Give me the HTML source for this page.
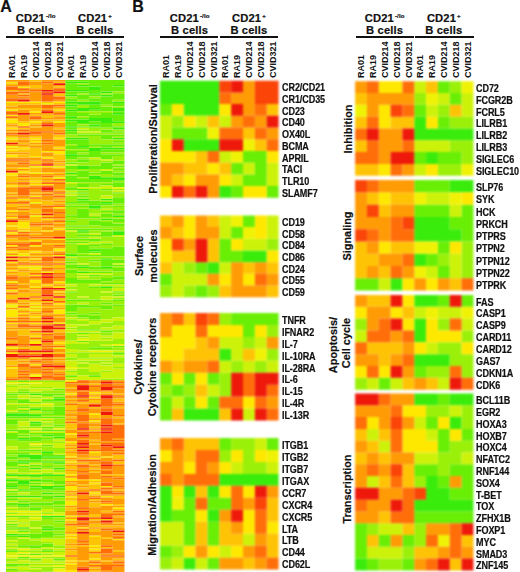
<!DOCTYPE html>
<html><head><meta charset="utf-8"><style>
html,body{margin:0;padding:0;background:#fff;}
body{width:520px;height:572px;position:relative;overflow:hidden;font-family:"Liberation Sans", sans-serif;font-weight:bold;color:#111;-webkit-text-stroke:0.2px #111;}
.t{position:absolute;white-space:nowrap;line-height:1;}
.h{position:absolute;width:80px;text-align:center;font-size:11.2px;letter-spacing:0.15px;line-height:12px;white-space:nowrap;}
.h sup{font-size:6px;vertical-align:0;position:relative;top:-4px;margin-left:1px;}
.ln{position:absolute;height:2.2px;background:#111;}
.r{position:absolute;white-space:nowrap;transform-origin:0 0;transform:rotate(-90deg);}
.r.c{-webkit-text-stroke:0px;}
.g{position:absolute;font-size:10px;letter-spacing:-0.1px;line-height:11px;white-space:nowrap;transform-origin:0 50%;transform:scaleX(0.905);}
svg{position:absolute;left:0;top:0;}
.sa{filter:blur(0.4px);}
.sb{filter:blur(0.8px);}
</style></head><body>
<svg class="sa" width="520" height="572" viewBox="0 0 520 572"><path fill="#3aec0c" d="M65.25 81.65h11.85v1.65h-11.85zM77.10 81.65h11.85v1.65h-11.85zM77.10 84.95h11.85v1.65h-11.85zM112.65 84.95h11.85v1.65h-11.85zM88.95 86.60h11.85v1.65h-11.85zM88.95 88.25h11.85v1.65h-11.85zM65.25 89.90h11.85v1.65h-11.85zM77.10 89.90h11.85v1.65h-11.85zM100.80 91.55h11.85v1.65h-11.85zM88.95 93.20h11.85v1.65h-11.85zM65.25 94.85h11.85v1.65h-11.85zM100.80 94.85h11.85v1.65h-11.85zM65.25 101.45h11.85v1.65h-11.85zM77.10 101.45h11.85v1.65h-11.85zM88.95 101.45h11.85v1.65h-11.85zM112.65 101.45h11.85v1.65h-11.85zM77.10 103.10h11.85v1.65h-11.85zM88.95 103.10h11.85v1.65h-11.85zM65.25 104.75h11.85v1.65h-11.85zM77.10 108.05h11.85v1.65h-11.85zM88.95 108.05h11.85v1.65h-11.85zM112.65 108.05h11.85v1.65h-11.85zM65.25 109.70h11.85v1.65h-11.85zM77.10 109.70h11.85v1.65h-11.85zM112.65 109.70h11.85v1.65h-11.85zM112.65 113.00h11.85v1.65h-11.85zM65.25 116.30h11.85v1.65h-11.85zM88.95 117.95h11.85v1.65h-11.85zM100.80 117.95h11.85v1.65h-11.85zM65.25 119.60h11.85v1.65h-11.85zM77.10 119.60h11.85v1.65h-11.85zM88.95 119.60h11.85v1.65h-11.85zM100.80 119.60h11.85v1.65h-11.85zM77.10 121.25h11.85v1.65h-11.85zM100.80 121.25h11.85v1.65h-11.85zM112.65 121.25h11.85v1.65h-11.85zM88.95 124.55h11.85v1.65h-11.85zM65.25 126.20h11.85v1.65h-11.85zM112.65 127.85h11.85v1.65h-11.85zM65.25 129.50h11.85v1.65h-11.85zM65.25 137.75h11.85v1.65h-11.85zM77.10 137.75h11.85v1.65h-11.85zM112.65 137.75h11.85v1.65h-11.85zM77.10 146.00h11.85v1.65h-11.85zM88.95 147.65h11.85v1.65h-11.85zM100.80 147.65h11.85v1.65h-11.85zM112.65 147.65h11.85v1.65h-11.85zM88.95 149.30h11.85v1.65h-11.85zM65.25 154.25h11.85v1.65h-11.85zM77.10 165.80h11.85v1.65h-11.85zM77.10 167.45h11.85v1.65h-11.85zM65.25 172.40h11.85v1.65h-11.85zM88.95 175.70h11.85v1.65h-11.85zM88.95 177.35h11.85v1.65h-11.85zM100.80 177.35h11.85v1.65h-11.85zM112.65 177.35h11.85v1.65h-11.85zM112.65 179.00h11.85v1.65h-11.85zM77.10 188.90h11.85v1.65h-11.85zM77.10 198.80h11.85v1.65h-11.85zM100.80 198.80h11.85v1.65h-11.85zM100.80 202.10h11.85v1.65h-11.85zM88.95 205.40h11.85v1.65h-11.85zM88.95 207.05h11.85v1.65h-11.85zM112.65 215.30h11.85v1.65h-11.85zM100.80 218.60h11.85v1.65h-11.85zM77.10 230.15h11.85v1.65h-11.85zM112.65 231.80h11.85v1.65h-11.85zM112.65 233.45h11.85v1.65h-11.85zM88.95 249.95h11.85v1.65h-11.85zM65.25 254.90h11.85v1.65h-11.85zM100.80 258.20h11.85v1.65h-11.85zM77.10 266.45h11.85v1.65h-11.85zM100.80 266.45h11.85v1.65h-11.85zM77.10 271.40h11.85v1.65h-11.85zM100.80 286.25h11.85v1.65h-11.85zM29.70 393.50h11.85v1.65h-11.85zM53.40 398.45h11.85v1.65h-11.85zM29.70 408.35h11.85v1.65h-11.85zM6.00 413.30h11.85v1.65h-11.85zM17.85 413.30h11.85v1.65h-11.85zM6.00 414.95h11.85v1.65h-11.85zM17.85 414.95h11.85v1.65h-11.85zM29.70 414.95h11.85v1.65h-11.85zM29.70 421.55h11.85v1.65h-11.85zM41.55 434.75h11.85v1.65h-11.85zM53.40 436.40h11.85v1.65h-11.85zM17.85 438.05h11.85v1.65h-11.85zM41.55 451.25h11.85v1.65h-11.85zM17.85 454.55h11.85v1.65h-11.85zM29.70 454.55h11.85v1.65h-11.85zM17.85 456.20h11.85v1.65h-11.85zM29.70 456.20h11.85v1.65h-11.85zM41.55 456.20h11.85v1.65h-11.85zM53.40 456.20h11.85v1.65h-11.85zM29.70 457.85h11.85v1.65h-11.85zM17.85 461.15h11.85v1.65h-11.85zM41.55 461.15h11.85v1.65h-11.85zM53.40 461.15h11.85v1.65h-11.85zM29.70 467.75h11.85v1.65h-11.85zM53.40 467.75h11.85v1.65h-11.85zM6.00 474.35h11.85v1.65h-11.85zM17.85 474.35h11.85v1.65h-11.85zM29.70 474.35h11.85v1.65h-11.85zM41.55 474.35h11.85v1.65h-11.85zM53.40 474.35h11.85v1.65h-11.85zM6.00 479.30h11.85v1.65h-11.85zM29.70 479.30h11.85v1.65h-11.85zM17.85 480.95h11.85v1.65h-11.85zM17.85 482.60h11.85v1.65h-11.85zM6.00 485.90h11.85v1.65h-11.85zM29.70 485.90h11.85v1.65h-11.85zM41.55 485.90h11.85v1.65h-11.85zM53.40 485.90h11.85v1.65h-11.85zM41.55 487.55h11.85v1.65h-11.85zM17.85 489.20h11.85v1.65h-11.85zM41.55 492.50h11.85v1.65h-11.85zM6.00 495.80h11.85v1.65h-11.85zM17.85 495.80h11.85v1.65h-11.85zM29.70 495.80h11.85v1.65h-11.85zM53.40 495.80h11.85v1.65h-11.85zM17.85 504.05h11.85v1.65h-11.85zM41.55 515.60h11.85v1.65h-11.85zM53.40 515.60h11.85v1.65h-11.85zM17.85 527.15h11.85v1.65h-11.85zM41.55 528.80h11.85v1.65h-11.85zM6.00 533.75h11.85v1.65h-11.85zM17.85 535.40h11.85v1.65h-11.85z"/><path fill="#69ee06" d="M65.25 80.00h11.85v1.65h-11.85zM77.10 80.00h11.85v1.65h-11.85zM88.95 80.00h11.85v1.65h-11.85zM100.80 80.00h11.85v1.65h-11.85zM112.65 80.00h11.85v1.65h-11.85zM88.95 81.65h11.85v1.65h-11.85zM100.80 81.65h11.85v1.65h-11.85zM112.65 81.65h11.85v1.65h-11.85zM65.25 83.30h11.85v1.65h-11.85zM88.95 83.30h11.85v1.65h-11.85zM100.80 83.30h11.85v1.65h-11.85zM112.65 83.30h11.85v1.65h-11.85zM65.25 84.95h11.85v1.65h-11.85zM88.95 84.95h11.85v1.65h-11.85zM100.80 84.95h11.85v1.65h-11.85zM65.25 86.60h11.85v1.65h-11.85zM77.10 86.60h11.85v1.65h-11.85zM100.80 86.60h11.85v1.65h-11.85zM112.65 86.60h11.85v1.65h-11.85zM65.25 88.25h11.85v1.65h-11.85zM77.10 88.25h11.85v1.65h-11.85zM100.80 88.25h11.85v1.65h-11.85zM112.65 88.25h11.85v1.65h-11.85zM88.95 89.90h11.85v1.65h-11.85zM100.80 89.90h11.85v1.65h-11.85zM112.65 89.90h11.85v1.65h-11.85zM65.25 91.55h11.85v1.65h-11.85zM77.10 91.55h11.85v1.65h-11.85zM88.95 91.55h11.85v1.65h-11.85zM65.25 93.20h11.85v1.65h-11.85zM112.65 93.20h11.85v1.65h-11.85zM77.10 94.85h11.85v1.65h-11.85zM88.95 94.85h11.85v1.65h-11.85zM112.65 94.85h11.85v1.65h-11.85zM77.10 96.50h11.85v1.65h-11.85zM100.80 96.50h11.85v1.65h-11.85zM112.65 96.50h11.85v1.65h-11.85zM65.25 98.15h11.85v1.65h-11.85zM77.10 98.15h11.85v1.65h-11.85zM88.95 98.15h11.85v1.65h-11.85zM100.80 98.15h11.85v1.65h-11.85zM112.65 98.15h11.85v1.65h-11.85zM65.25 99.80h11.85v1.65h-11.85zM88.95 99.80h11.85v1.65h-11.85zM100.80 99.80h11.85v1.65h-11.85zM100.80 101.45h11.85v1.65h-11.85zM65.25 103.10h11.85v1.65h-11.85zM100.80 103.10h11.85v1.65h-11.85zM112.65 103.10h11.85v1.65h-11.85zM88.95 104.75h11.85v1.65h-11.85zM112.65 104.75h11.85v1.65h-11.85zM65.25 106.40h11.85v1.65h-11.85zM88.95 106.40h11.85v1.65h-11.85zM100.80 106.40h11.85v1.65h-11.85zM65.25 108.05h11.85v1.65h-11.85zM100.80 108.05h11.85v1.65h-11.85zM88.95 109.70h11.85v1.65h-11.85zM100.80 109.70h11.85v1.65h-11.85zM65.25 111.35h11.85v1.65h-11.85zM112.65 111.35h11.85v1.65h-11.85zM65.25 113.00h11.85v1.65h-11.85zM77.10 113.00h11.85v1.65h-11.85zM100.80 113.00h11.85v1.65h-11.85zM65.25 114.65h11.85v1.65h-11.85zM77.10 114.65h11.85v1.65h-11.85zM88.95 114.65h11.85v1.65h-11.85zM100.80 114.65h11.85v1.65h-11.85zM112.65 114.65h11.85v1.65h-11.85zM88.95 116.30h11.85v1.65h-11.85zM100.80 116.30h11.85v1.65h-11.85zM112.65 116.30h11.85v1.65h-11.85zM65.25 117.95h11.85v1.65h-11.85zM77.10 117.95h11.85v1.65h-11.85zM112.65 117.95h11.85v1.65h-11.85zM112.65 119.60h11.85v1.65h-11.85zM65.25 121.25h11.85v1.65h-11.85zM88.95 121.25h11.85v1.65h-11.85zM65.25 122.90h11.85v1.65h-11.85zM77.10 122.90h11.85v1.65h-11.85zM88.95 122.90h11.85v1.65h-11.85zM100.80 122.90h11.85v1.65h-11.85zM65.25 124.55h11.85v1.65h-11.85zM100.80 124.55h11.85v1.65h-11.85zM77.10 126.20h11.85v1.65h-11.85zM88.95 126.20h11.85v1.65h-11.85zM100.80 126.20h11.85v1.65h-11.85zM112.65 126.20h11.85v1.65h-11.85zM65.25 127.85h11.85v1.65h-11.85zM100.80 129.50h11.85v1.65h-11.85zM65.25 131.15h11.85v1.65h-11.85zM100.80 131.15h11.85v1.65h-11.85zM112.65 131.15h11.85v1.65h-11.85zM65.25 132.80h11.85v1.65h-11.85zM77.10 134.45h11.85v1.65h-11.85zM88.95 134.45h11.85v1.65h-11.85zM100.80 134.45h11.85v1.65h-11.85zM112.65 134.45h11.85v1.65h-11.85zM100.80 136.10h11.85v1.65h-11.85zM100.80 137.75h11.85v1.65h-11.85zM65.25 139.40h11.85v1.65h-11.85zM77.10 139.40h11.85v1.65h-11.85zM65.25 141.05h11.85v1.65h-11.85zM77.10 141.05h11.85v1.65h-11.85zM112.65 141.05h11.85v1.65h-11.85zM65.25 142.70h11.85v1.65h-11.85zM77.10 142.70h11.85v1.65h-11.85zM77.10 144.35h11.85v1.65h-11.85zM88.95 144.35h11.85v1.65h-11.85zM100.80 144.35h11.85v1.65h-11.85zM112.65 144.35h11.85v1.65h-11.85zM65.25 146.00h11.85v1.65h-11.85zM100.80 146.00h11.85v1.65h-11.85zM65.25 147.65h11.85v1.65h-11.85zM77.10 147.65h11.85v1.65h-11.85zM100.80 149.30h11.85v1.65h-11.85zM112.65 149.30h11.85v1.65h-11.85zM65.25 150.95h11.85v1.65h-11.85zM77.10 150.95h11.85v1.65h-11.85zM88.95 150.95h11.85v1.65h-11.85zM100.80 150.95h11.85v1.65h-11.85zM112.65 150.95h11.85v1.65h-11.85zM65.25 152.60h11.85v1.65h-11.85zM88.95 152.60h11.85v1.65h-11.85zM77.10 154.25h11.85v1.65h-11.85zM88.95 154.25h11.85v1.65h-11.85zM100.80 154.25h11.85v1.65h-11.85zM112.65 154.25h11.85v1.65h-11.85zM65.25 155.90h11.85v1.65h-11.85zM77.10 155.90h11.85v1.65h-11.85zM88.95 155.90h11.85v1.65h-11.85zM100.80 155.90h11.85v1.65h-11.85zM65.25 157.55h11.85v1.65h-11.85zM100.80 157.55h11.85v1.65h-11.85zM77.10 159.20h11.85v1.65h-11.85zM77.10 160.85h11.85v1.65h-11.85zM112.65 160.85h11.85v1.65h-11.85zM65.25 162.50h11.85v1.65h-11.85zM100.80 162.50h11.85v1.65h-11.85zM112.65 162.50h11.85v1.65h-11.85zM100.80 164.15h11.85v1.65h-11.85zM65.25 165.80h11.85v1.65h-11.85zM88.95 165.80h11.85v1.65h-11.85zM100.80 165.80h11.85v1.65h-11.85zM112.65 165.80h11.85v1.65h-11.85zM65.25 167.45h11.85v1.65h-11.85zM88.95 167.45h11.85v1.65h-11.85zM100.80 167.45h11.85v1.65h-11.85zM112.65 169.10h11.85v1.65h-11.85zM77.10 170.75h11.85v1.65h-11.85zM100.80 170.75h11.85v1.65h-11.85zM77.10 172.40h11.85v1.65h-11.85zM88.95 172.40h11.85v1.65h-11.85zM100.80 172.40h11.85v1.65h-11.85zM112.65 172.40h11.85v1.65h-11.85zM77.10 174.05h11.85v1.65h-11.85zM112.65 174.05h11.85v1.65h-11.85zM65.25 175.70h11.85v1.65h-11.85zM77.10 175.70h11.85v1.65h-11.85zM65.25 177.35h11.85v1.65h-11.85zM65.25 179.00h11.85v1.65h-11.85zM77.10 179.00h11.85v1.65h-11.85zM88.95 179.00h11.85v1.65h-11.85zM100.80 179.00h11.85v1.65h-11.85zM65.25 180.65h11.85v1.65h-11.85zM77.10 180.65h11.85v1.65h-11.85zM88.95 180.65h11.85v1.65h-11.85zM100.80 180.65h11.85v1.65h-11.85zM112.65 182.30h11.85v1.65h-11.85zM77.10 183.95h11.85v1.65h-11.85zM100.80 183.95h11.85v1.65h-11.85zM112.65 183.95h11.85v1.65h-11.85zM77.10 185.60h11.85v1.65h-11.85zM112.65 185.60h11.85v1.65h-11.85zM65.25 187.25h11.85v1.65h-11.85zM65.25 188.90h11.85v1.65h-11.85zM100.80 188.90h11.85v1.65h-11.85zM77.10 192.20h11.85v1.65h-11.85zM112.65 192.20h11.85v1.65h-11.85zM77.10 195.50h11.85v1.65h-11.85zM112.65 197.15h11.85v1.65h-11.85zM112.65 198.80h11.85v1.65h-11.85zM77.10 200.45h11.85v1.65h-11.85zM88.95 200.45h11.85v1.65h-11.85zM112.65 200.45h11.85v1.65h-11.85zM65.25 202.10h11.85v1.65h-11.85zM77.10 202.10h11.85v1.65h-11.85zM88.95 202.10h11.85v1.65h-11.85zM112.65 202.10h11.85v1.65h-11.85zM88.95 203.75h11.85v1.65h-11.85zM100.80 203.75h11.85v1.65h-11.85zM65.25 205.40h11.85v1.65h-11.85zM77.10 205.40h11.85v1.65h-11.85zM112.65 205.40h11.85v1.65h-11.85zM77.10 208.70h11.85v1.65h-11.85zM77.10 210.35h11.85v1.65h-11.85zM100.80 210.35h11.85v1.65h-11.85zM112.65 210.35h11.85v1.65h-11.85zM77.10 212.00h11.85v1.65h-11.85zM112.65 212.00h11.85v1.65h-11.85zM77.10 213.65h11.85v1.65h-11.85zM100.80 213.65h11.85v1.65h-11.85zM65.25 215.30h11.85v1.65h-11.85zM77.10 215.30h11.85v1.65h-11.85zM100.80 215.30h11.85v1.65h-11.85zM77.10 216.95h11.85v1.65h-11.85zM88.95 216.95h11.85v1.65h-11.85zM112.65 218.60h11.85v1.65h-11.85zM65.25 220.25h11.85v1.65h-11.85zM88.95 220.25h11.85v1.65h-11.85zM112.65 220.25h11.85v1.65h-11.85zM88.95 221.90h11.85v1.65h-11.85zM100.80 221.90h11.85v1.65h-11.85zM88.95 223.55h11.85v1.65h-11.85zM100.80 223.55h11.85v1.65h-11.85zM112.65 223.55h11.85v1.65h-11.85zM65.25 225.20h11.85v1.65h-11.85zM77.10 225.20h11.85v1.65h-11.85zM100.80 225.20h11.85v1.65h-11.85zM112.65 225.20h11.85v1.65h-11.85zM65.25 228.50h11.85v1.65h-11.85zM77.10 228.50h11.85v1.65h-11.85zM88.95 228.50h11.85v1.65h-11.85zM100.80 228.50h11.85v1.65h-11.85zM112.65 230.15h11.85v1.65h-11.85zM77.10 231.80h11.85v1.65h-11.85zM100.80 231.80h11.85v1.65h-11.85zM100.80 233.45h11.85v1.65h-11.85zM77.10 235.10h11.85v1.65h-11.85zM88.95 235.10h11.85v1.65h-11.85zM100.80 235.10h11.85v1.65h-11.85zM65.25 238.40h11.85v1.65h-11.85zM77.10 238.40h11.85v1.65h-11.85zM88.95 238.40h11.85v1.65h-11.85zM88.95 240.05h11.85v1.65h-11.85zM65.25 241.70h11.85v1.65h-11.85zM77.10 241.70h11.85v1.65h-11.85zM100.80 243.35h11.85v1.65h-11.85zM77.10 245.00h11.85v1.65h-11.85zM88.95 245.00h11.85v1.65h-11.85zM77.10 246.65h11.85v1.65h-11.85zM112.65 246.65h11.85v1.65h-11.85zM77.10 248.30h11.85v1.65h-11.85zM88.95 248.30h11.85v1.65h-11.85zM100.80 248.30h11.85v1.65h-11.85zM112.65 248.30h11.85v1.65h-11.85zM77.10 249.95h11.85v1.65h-11.85zM100.80 249.95h11.85v1.65h-11.85zM112.65 249.95h11.85v1.65h-11.85zM77.10 251.60h11.85v1.65h-11.85zM88.95 251.60h11.85v1.65h-11.85zM100.80 251.60h11.85v1.65h-11.85zM112.65 251.60h11.85v1.65h-11.85zM65.25 253.25h11.85v1.65h-11.85zM100.80 253.25h11.85v1.65h-11.85zM112.65 253.25h11.85v1.65h-11.85zM77.10 254.90h11.85v1.65h-11.85zM88.95 254.90h11.85v1.65h-11.85zM100.80 254.90h11.85v1.65h-11.85zM112.65 254.90h11.85v1.65h-11.85zM65.25 258.20h11.85v1.65h-11.85zM88.95 259.85h11.85v1.65h-11.85zM100.80 259.85h11.85v1.65h-11.85zM112.65 259.85h11.85v1.65h-11.85zM65.25 261.50h11.85v1.65h-11.85zM100.80 261.50h11.85v1.65h-11.85zM112.65 261.50h11.85v1.65h-11.85zM100.80 263.15h11.85v1.65h-11.85zM65.25 264.80h11.85v1.65h-11.85zM77.10 264.80h11.85v1.65h-11.85zM100.80 264.80h11.85v1.65h-11.85zM112.65 264.80h11.85v1.65h-11.85zM65.25 266.45h11.85v1.65h-11.85zM88.95 266.45h11.85v1.65h-11.85zM88.95 268.10h11.85v1.65h-11.85zM100.80 268.10h11.85v1.65h-11.85zM112.65 268.10h11.85v1.65h-11.85zM65.25 269.75h11.85v1.65h-11.85zM112.65 269.75h11.85v1.65h-11.85zM65.25 271.40h11.85v1.65h-11.85zM88.95 271.40h11.85v1.65h-11.85zM100.80 271.40h11.85v1.65h-11.85zM88.95 274.70h11.85v1.65h-11.85zM112.65 276.35h11.85v1.65h-11.85zM65.25 278.00h11.85v1.65h-11.85zM100.80 278.00h11.85v1.65h-11.85zM112.65 278.00h11.85v1.65h-11.85zM65.25 279.65h11.85v1.65h-11.85zM77.10 279.65h11.85v1.65h-11.85zM88.95 279.65h11.85v1.65h-11.85zM100.80 279.65h11.85v1.65h-11.85zM65.25 281.30h11.85v1.65h-11.85zM77.10 281.30h11.85v1.65h-11.85zM88.95 281.30h11.85v1.65h-11.85zM100.80 282.95h11.85v1.65h-11.85zM112.65 282.95h11.85v1.65h-11.85zM88.95 286.25h11.85v1.65h-11.85zM65.25 291.20h11.85v1.65h-11.85zM112.65 291.20h11.85v1.65h-11.85zM112.65 294.50h11.85v1.65h-11.85zM65.25 299.45h11.85v1.65h-11.85zM77.10 299.45h11.85v1.65h-11.85zM88.95 299.45h11.85v1.65h-11.85zM112.65 299.45h11.85v1.65h-11.85zM100.80 302.75h11.85v1.65h-11.85zM65.25 304.40h11.85v1.65h-11.85zM77.10 304.40h11.85v1.65h-11.85zM112.65 304.40h11.85v1.65h-11.85zM65.25 306.05h11.85v1.65h-11.85zM77.10 306.05h11.85v1.65h-11.85zM88.95 306.05h11.85v1.65h-11.85zM100.80 306.05h11.85v1.65h-11.85zM65.25 307.70h11.85v1.65h-11.85zM100.80 307.70h11.85v1.65h-11.85zM65.25 309.35h11.85v1.65h-11.85zM65.25 312.65h11.85v1.65h-11.85zM88.95 312.65h11.85v1.65h-11.85zM77.10 314.30h11.85v1.65h-11.85zM77.10 315.95h11.85v1.65h-11.85zM88.95 315.95h11.85v1.65h-11.85zM88.95 317.60h11.85v1.65h-11.85zM77.10 329.15h11.85v1.65h-11.85zM88.95 329.15h11.85v1.65h-11.85zM100.80 330.80h11.85v1.65h-11.85zM77.10 332.45h11.85v1.65h-11.85zM77.10 340.70h11.85v1.65h-11.85zM112.65 345.65h11.85v1.65h-11.85zM88.95 347.30h11.85v1.65h-11.85zM100.80 347.30h11.85v1.65h-11.85zM112.65 352.25h11.85v1.65h-11.85zM65.25 375.35h11.85v1.65h-11.85zM88.95 375.35h11.85v1.65h-11.85zM17.85 380.30h11.85v1.65h-11.85zM53.40 388.55h11.85v1.65h-11.85zM17.85 391.85h11.85v1.65h-11.85zM6.00 393.50h11.85v1.65h-11.85zM41.55 393.50h11.85v1.65h-11.85zM53.40 393.50h11.85v1.65h-11.85zM41.55 395.15h11.85v1.65h-11.85zM53.40 396.80h11.85v1.65h-11.85zM6.00 398.45h11.85v1.65h-11.85zM17.85 400.10h11.85v1.65h-11.85zM41.55 400.10h11.85v1.65h-11.85zM53.40 400.10h11.85v1.65h-11.85zM17.85 401.75h11.85v1.65h-11.85zM29.70 401.75h11.85v1.65h-11.85zM17.85 406.70h11.85v1.65h-11.85zM53.40 406.70h11.85v1.65h-11.85zM53.40 408.35h11.85v1.65h-11.85zM17.85 410.00h11.85v1.65h-11.85zM41.55 410.00h11.85v1.65h-11.85zM53.40 410.00h11.85v1.65h-11.85zM53.40 411.65h11.85v1.65h-11.85zM29.70 413.30h11.85v1.65h-11.85zM41.55 413.30h11.85v1.65h-11.85zM53.40 413.30h11.85v1.65h-11.85zM6.00 416.60h11.85v1.65h-11.85zM17.85 416.60h11.85v1.65h-11.85zM29.70 416.60h11.85v1.65h-11.85zM41.55 416.60h11.85v1.65h-11.85zM53.40 416.60h11.85v1.65h-11.85zM6.00 419.90h11.85v1.65h-11.85zM6.00 421.55h11.85v1.65h-11.85zM6.00 423.20h11.85v1.65h-11.85zM29.70 423.20h11.85v1.65h-11.85zM41.55 423.20h11.85v1.65h-11.85zM29.70 424.85h11.85v1.65h-11.85zM53.40 424.85h11.85v1.65h-11.85zM41.55 426.50h11.85v1.65h-11.85zM6.00 429.80h11.85v1.65h-11.85zM17.85 429.80h11.85v1.65h-11.85zM41.55 429.80h11.85v1.65h-11.85zM53.40 429.80h11.85v1.65h-11.85zM17.85 431.45h11.85v1.65h-11.85zM6.00 433.10h11.85v1.65h-11.85zM29.70 433.10h11.85v1.65h-11.85zM41.55 433.10h11.85v1.65h-11.85zM53.40 433.10h11.85v1.65h-11.85zM6.00 434.75h11.85v1.65h-11.85zM17.85 434.75h11.85v1.65h-11.85zM53.40 434.75h11.85v1.65h-11.85zM6.00 436.40h11.85v1.65h-11.85zM29.70 436.40h11.85v1.65h-11.85zM6.00 438.05h11.85v1.65h-11.85zM29.70 438.05h11.85v1.65h-11.85zM41.55 438.05h11.85v1.65h-11.85zM17.85 439.70h11.85v1.65h-11.85zM29.70 439.70h11.85v1.65h-11.85zM41.55 444.65h11.85v1.65h-11.85zM17.85 449.60h11.85v1.65h-11.85zM29.70 449.60h11.85v1.65h-11.85zM6.00 452.90h11.85v1.65h-11.85zM17.85 452.90h11.85v1.65h-11.85zM41.55 452.90h11.85v1.65h-11.85zM41.55 454.55h11.85v1.65h-11.85zM53.40 454.55h11.85v1.65h-11.85zM6.00 456.20h11.85v1.65h-11.85zM6.00 457.85h11.85v1.65h-11.85zM41.55 457.85h11.85v1.65h-11.85zM53.40 457.85h11.85v1.65h-11.85zM17.85 459.50h11.85v1.65h-11.85zM29.70 459.50h11.85v1.65h-11.85zM6.00 461.15h11.85v1.65h-11.85zM29.70 461.15h11.85v1.65h-11.85zM6.00 462.80h11.85v1.65h-11.85zM17.85 462.80h11.85v1.65h-11.85zM53.40 462.80h11.85v1.65h-11.85zM6.00 464.45h11.85v1.65h-11.85zM29.70 464.45h11.85v1.65h-11.85zM17.85 466.10h11.85v1.65h-11.85zM41.55 466.10h11.85v1.65h-11.85zM6.00 467.75h11.85v1.65h-11.85zM29.70 476.00h11.85v1.65h-11.85zM17.85 479.30h11.85v1.65h-11.85zM41.55 479.30h11.85v1.65h-11.85zM41.55 480.95h11.85v1.65h-11.85zM53.40 480.95h11.85v1.65h-11.85zM6.00 482.60h11.85v1.65h-11.85zM29.70 482.60h11.85v1.65h-11.85zM53.40 482.60h11.85v1.65h-11.85zM6.00 484.25h11.85v1.65h-11.85zM17.85 484.25h11.85v1.65h-11.85zM6.00 487.55h11.85v1.65h-11.85zM29.70 487.55h11.85v1.65h-11.85zM53.40 487.55h11.85v1.65h-11.85zM29.70 489.20h11.85v1.65h-11.85zM41.55 489.20h11.85v1.65h-11.85zM53.40 489.20h11.85v1.65h-11.85zM6.00 490.85h11.85v1.65h-11.85zM53.40 492.50h11.85v1.65h-11.85zM41.55 495.80h11.85v1.65h-11.85zM41.55 497.45h11.85v1.65h-11.85zM6.00 499.10h11.85v1.65h-11.85zM17.85 500.75h11.85v1.65h-11.85zM53.40 500.75h11.85v1.65h-11.85zM6.00 502.40h11.85v1.65h-11.85zM29.70 502.40h11.85v1.65h-11.85zM41.55 502.40h11.85v1.65h-11.85zM53.40 502.40h11.85v1.65h-11.85zM6.00 504.05h11.85v1.65h-11.85zM29.70 504.05h11.85v1.65h-11.85zM41.55 504.05h11.85v1.65h-11.85zM17.85 505.70h11.85v1.65h-11.85zM53.40 505.70h11.85v1.65h-11.85zM29.70 507.35h11.85v1.65h-11.85zM29.70 509.00h11.85v1.65h-11.85zM6.00 515.60h11.85v1.65h-11.85zM17.85 515.60h11.85v1.65h-11.85zM41.55 517.25h11.85v1.65h-11.85zM53.40 520.55h11.85v1.65h-11.85zM6.00 523.85h11.85v1.65h-11.85zM41.55 525.50h11.85v1.65h-11.85zM6.00 527.15h11.85v1.65h-11.85zM41.55 527.15h11.85v1.65h-11.85zM53.40 527.15h11.85v1.65h-11.85zM53.40 528.80h11.85v1.65h-11.85zM17.85 530.45h11.85v1.65h-11.85zM41.55 532.10h11.85v1.65h-11.85zM17.85 533.75h11.85v1.65h-11.85zM29.70 533.75h11.85v1.65h-11.85zM41.55 533.75h11.85v1.65h-11.85zM53.40 533.75h11.85v1.65h-11.85zM6.00 535.40h11.85v1.65h-11.85zM29.70 535.40h11.85v1.65h-11.85zM41.55 535.40h11.85v1.65h-11.85zM29.70 537.05h11.85v1.65h-11.85zM41.55 543.65h11.85v1.65h-11.85zM17.85 545.30h11.85v1.65h-11.85zM29.70 545.30h11.85v1.65h-11.85zM41.55 545.30h11.85v1.65h-11.85zM29.70 546.95h11.85v1.65h-11.85zM6.00 550.25h11.85v1.65h-11.85zM41.55 550.25h11.85v1.65h-11.85zM29.70 553.55h11.85v1.65h-11.85zM17.85 556.85h11.85v1.65h-11.85zM29.70 558.50h11.85v1.65h-11.85zM53.40 558.50h11.85v1.65h-11.85zM6.00 563.45h11.85v1.65h-11.85zM17.85 563.45h11.85v1.65h-11.85zM6.00 565.10h11.85v1.65h-11.85zM6.00 568.40h11.85v1.65h-11.85zM41.55 571.70h11.85v0.30h-11.85z"/><path fill="#9bf00a" d="M77.10 83.30h11.85v1.65h-11.85zM112.65 91.55h11.85v1.65h-11.85zM77.10 93.20h11.85v1.65h-11.85zM100.80 93.20h11.85v1.65h-11.85zM65.25 96.50h11.85v1.65h-11.85zM88.95 96.50h11.85v1.65h-11.85zM77.10 99.80h11.85v1.65h-11.85zM112.65 99.80h11.85v1.65h-11.85zM77.10 104.75h11.85v1.65h-11.85zM100.80 104.75h11.85v1.65h-11.85zM77.10 106.40h11.85v1.65h-11.85zM112.65 106.40h11.85v1.65h-11.85zM77.10 111.35h11.85v1.65h-11.85zM88.95 111.35h11.85v1.65h-11.85zM100.80 111.35h11.85v1.65h-11.85zM88.95 113.00h11.85v1.65h-11.85zM77.10 116.30h11.85v1.65h-11.85zM112.65 122.90h11.85v1.65h-11.85zM77.10 124.55h11.85v1.65h-11.85zM112.65 124.55h11.85v1.65h-11.85zM88.95 127.85h11.85v1.65h-11.85zM100.80 127.85h11.85v1.65h-11.85zM77.10 129.50h11.85v1.65h-11.85zM88.95 129.50h11.85v1.65h-11.85zM112.65 129.50h11.85v1.65h-11.85zM77.10 132.80h11.85v1.65h-11.85zM88.95 132.80h11.85v1.65h-11.85zM100.80 132.80h11.85v1.65h-11.85zM112.65 132.80h11.85v1.65h-11.85zM65.25 134.45h11.85v1.65h-11.85zM65.25 136.10h11.85v1.65h-11.85zM77.10 136.10h11.85v1.65h-11.85zM88.95 136.10h11.85v1.65h-11.85zM112.65 136.10h11.85v1.65h-11.85zM88.95 137.75h11.85v1.65h-11.85zM88.95 139.40h11.85v1.65h-11.85zM100.80 139.40h11.85v1.65h-11.85zM112.65 139.40h11.85v1.65h-11.85zM88.95 141.05h11.85v1.65h-11.85zM100.80 141.05h11.85v1.65h-11.85zM88.95 142.70h11.85v1.65h-11.85zM100.80 142.70h11.85v1.65h-11.85zM112.65 142.70h11.85v1.65h-11.85zM65.25 144.35h11.85v1.65h-11.85zM88.95 146.00h11.85v1.65h-11.85zM112.65 146.00h11.85v1.65h-11.85zM65.25 149.30h11.85v1.65h-11.85zM77.10 149.30h11.85v1.65h-11.85zM77.10 152.60h11.85v1.65h-11.85zM100.80 152.60h11.85v1.65h-11.85zM112.65 152.60h11.85v1.65h-11.85zM112.65 155.90h11.85v1.65h-11.85zM77.10 157.55h11.85v1.65h-11.85zM112.65 157.55h11.85v1.65h-11.85zM65.25 159.20h11.85v1.65h-11.85zM88.95 159.20h11.85v1.65h-11.85zM112.65 159.20h11.85v1.65h-11.85zM65.25 160.85h11.85v1.65h-11.85zM88.95 160.85h11.85v1.65h-11.85zM100.80 160.85h11.85v1.65h-11.85zM77.10 162.50h11.85v1.65h-11.85zM88.95 162.50h11.85v1.65h-11.85zM77.10 164.15h11.85v1.65h-11.85zM88.95 164.15h11.85v1.65h-11.85zM112.65 164.15h11.85v1.65h-11.85zM112.65 167.45h11.85v1.65h-11.85zM65.25 169.10h11.85v1.65h-11.85zM77.10 169.10h11.85v1.65h-11.85zM88.95 169.10h11.85v1.65h-11.85zM65.25 170.75h11.85v1.65h-11.85zM88.95 170.75h11.85v1.65h-11.85zM112.65 170.75h11.85v1.65h-11.85zM65.25 174.05h11.85v1.65h-11.85zM88.95 174.05h11.85v1.65h-11.85zM100.80 174.05h11.85v1.65h-11.85zM100.80 175.70h11.85v1.65h-11.85zM112.65 175.70h11.85v1.65h-11.85zM77.10 177.35h11.85v1.65h-11.85zM112.65 180.65h11.85v1.65h-11.85zM77.10 182.30h11.85v1.65h-11.85zM88.95 182.30h11.85v1.65h-11.85zM100.80 182.30h11.85v1.65h-11.85zM65.25 183.95h11.85v1.65h-11.85zM88.95 183.95h11.85v1.65h-11.85zM65.25 185.60h11.85v1.65h-11.85zM88.95 185.60h11.85v1.65h-11.85zM88.95 188.90h11.85v1.65h-11.85zM112.65 188.90h11.85v1.65h-11.85zM77.10 190.55h11.85v1.65h-11.85zM88.95 190.55h11.85v1.65h-11.85zM100.80 190.55h11.85v1.65h-11.85zM65.25 192.20h11.85v1.65h-11.85zM88.95 192.20h11.85v1.65h-11.85zM100.80 192.20h11.85v1.65h-11.85zM77.10 193.85h11.85v1.65h-11.85zM88.95 193.85h11.85v1.65h-11.85zM100.80 193.85h11.85v1.65h-11.85zM112.65 193.85h11.85v1.65h-11.85zM65.25 195.50h11.85v1.65h-11.85zM88.95 195.50h11.85v1.65h-11.85zM112.65 195.50h11.85v1.65h-11.85zM65.25 197.15h11.85v1.65h-11.85zM77.10 197.15h11.85v1.65h-11.85zM88.95 197.15h11.85v1.65h-11.85zM65.25 198.80h11.85v1.65h-11.85zM88.95 198.80h11.85v1.65h-11.85zM65.25 200.45h11.85v1.65h-11.85zM100.80 200.45h11.85v1.65h-11.85zM65.25 203.75h11.85v1.65h-11.85zM77.10 203.75h11.85v1.65h-11.85zM112.65 203.75h11.85v1.65h-11.85zM100.80 205.40h11.85v1.65h-11.85zM65.25 207.05h11.85v1.65h-11.85zM77.10 207.05h11.85v1.65h-11.85zM100.80 207.05h11.85v1.65h-11.85zM112.65 207.05h11.85v1.65h-11.85zM65.25 208.70h11.85v1.65h-11.85zM88.95 208.70h11.85v1.65h-11.85zM112.65 208.70h11.85v1.65h-11.85zM65.25 210.35h11.85v1.65h-11.85zM88.95 210.35h11.85v1.65h-11.85zM65.25 212.00h11.85v1.65h-11.85zM88.95 212.00h11.85v1.65h-11.85zM100.80 212.00h11.85v1.65h-11.85zM65.25 213.65h11.85v1.65h-11.85zM112.65 213.65h11.85v1.65h-11.85zM88.95 215.30h11.85v1.65h-11.85zM65.25 216.95h11.85v1.65h-11.85zM100.80 216.95h11.85v1.65h-11.85zM112.65 216.95h11.85v1.65h-11.85zM65.25 218.60h11.85v1.65h-11.85zM77.10 218.60h11.85v1.65h-11.85zM88.95 218.60h11.85v1.65h-11.85zM77.10 220.25h11.85v1.65h-11.85zM100.80 220.25h11.85v1.65h-11.85zM65.25 221.90h11.85v1.65h-11.85zM77.10 221.90h11.85v1.65h-11.85zM112.65 221.90h11.85v1.65h-11.85zM65.25 223.55h11.85v1.65h-11.85zM77.10 223.55h11.85v1.65h-11.85zM88.95 225.20h11.85v1.65h-11.85zM65.25 226.85h11.85v1.65h-11.85zM77.10 226.85h11.85v1.65h-11.85zM88.95 226.85h11.85v1.65h-11.85zM100.80 226.85h11.85v1.65h-11.85zM112.65 226.85h11.85v1.65h-11.85zM112.65 228.50h11.85v1.65h-11.85zM88.95 230.15h11.85v1.65h-11.85zM100.80 230.15h11.85v1.65h-11.85zM65.25 231.80h11.85v1.65h-11.85zM88.95 231.80h11.85v1.65h-11.85zM65.25 233.45h11.85v1.65h-11.85zM77.10 233.45h11.85v1.65h-11.85zM65.25 235.10h11.85v1.65h-11.85zM65.25 236.75h11.85v1.65h-11.85zM77.10 236.75h11.85v1.65h-11.85zM100.80 236.75h11.85v1.65h-11.85zM112.65 236.75h11.85v1.65h-11.85zM100.80 238.40h11.85v1.65h-11.85zM112.65 238.40h11.85v1.65h-11.85zM65.25 240.05h11.85v1.65h-11.85zM77.10 240.05h11.85v1.65h-11.85zM100.80 240.05h11.85v1.65h-11.85zM112.65 240.05h11.85v1.65h-11.85zM112.65 241.70h11.85v1.65h-11.85zM65.25 243.35h11.85v1.65h-11.85zM88.95 243.35h11.85v1.65h-11.85zM112.65 243.35h11.85v1.65h-11.85zM65.25 245.00h11.85v1.65h-11.85zM100.80 245.00h11.85v1.65h-11.85zM112.65 245.00h11.85v1.65h-11.85zM65.25 246.65h11.85v1.65h-11.85zM88.95 246.65h11.85v1.65h-11.85zM100.80 246.65h11.85v1.65h-11.85zM65.25 248.30h11.85v1.65h-11.85zM65.25 249.95h11.85v1.65h-11.85zM65.25 251.60h11.85v1.65h-11.85zM77.10 253.25h11.85v1.65h-11.85zM77.10 256.55h11.85v1.65h-11.85zM88.95 256.55h11.85v1.65h-11.85zM100.80 256.55h11.85v1.65h-11.85zM112.65 256.55h11.85v1.65h-11.85zM77.10 258.20h11.85v1.65h-11.85zM88.95 258.20h11.85v1.65h-11.85zM112.65 258.20h11.85v1.65h-11.85zM65.25 259.85h11.85v1.65h-11.85zM77.10 259.85h11.85v1.65h-11.85zM77.10 261.50h11.85v1.65h-11.85zM88.95 261.50h11.85v1.65h-11.85zM65.25 263.15h11.85v1.65h-11.85zM88.95 263.15h11.85v1.65h-11.85zM88.95 264.80h11.85v1.65h-11.85zM112.65 266.45h11.85v1.65h-11.85zM65.25 268.10h11.85v1.65h-11.85zM77.10 268.10h11.85v1.65h-11.85zM77.10 269.75h11.85v1.65h-11.85zM88.95 269.75h11.85v1.65h-11.85zM100.80 269.75h11.85v1.65h-11.85zM112.65 271.40h11.85v1.65h-11.85zM65.25 273.05h11.85v1.65h-11.85zM112.65 273.05h11.85v1.65h-11.85zM65.25 274.70h11.85v1.65h-11.85zM77.10 274.70h11.85v1.65h-11.85zM100.80 274.70h11.85v1.65h-11.85zM112.65 274.70h11.85v1.65h-11.85zM65.25 276.35h11.85v1.65h-11.85zM88.95 276.35h11.85v1.65h-11.85zM100.80 276.35h11.85v1.65h-11.85zM77.10 278.00h11.85v1.65h-11.85zM88.95 278.00h11.85v1.65h-11.85zM112.65 279.65h11.85v1.65h-11.85zM100.80 281.30h11.85v1.65h-11.85zM112.65 281.30h11.85v1.65h-11.85zM65.25 282.95h11.85v1.65h-11.85zM77.10 282.95h11.85v1.65h-11.85zM88.95 282.95h11.85v1.65h-11.85zM77.10 284.60h11.85v1.65h-11.85zM65.25 286.25h11.85v1.65h-11.85zM77.10 286.25h11.85v1.65h-11.85zM112.65 286.25h11.85v1.65h-11.85zM65.25 287.90h11.85v1.65h-11.85zM77.10 287.90h11.85v1.65h-11.85zM88.95 287.90h11.85v1.65h-11.85zM100.80 287.90h11.85v1.65h-11.85zM77.10 289.55h11.85v1.65h-11.85zM88.95 289.55h11.85v1.65h-11.85zM100.80 289.55h11.85v1.65h-11.85zM77.10 291.20h11.85v1.65h-11.85zM88.95 291.20h11.85v1.65h-11.85zM65.25 292.85h11.85v1.65h-11.85zM77.10 292.85h11.85v1.65h-11.85zM88.95 292.85h11.85v1.65h-11.85zM100.80 292.85h11.85v1.65h-11.85zM112.65 292.85h11.85v1.65h-11.85zM65.25 294.50h11.85v1.65h-11.85zM77.10 294.50h11.85v1.65h-11.85zM88.95 294.50h11.85v1.65h-11.85zM100.80 294.50h11.85v1.65h-11.85zM65.25 296.15h11.85v1.65h-11.85zM88.95 296.15h11.85v1.65h-11.85zM65.25 297.80h11.85v1.65h-11.85zM77.10 297.80h11.85v1.65h-11.85zM88.95 297.80h11.85v1.65h-11.85zM112.65 297.80h11.85v1.65h-11.85zM100.80 299.45h11.85v1.65h-11.85zM65.25 301.10h11.85v1.65h-11.85zM77.10 301.10h11.85v1.65h-11.85zM88.95 301.10h11.85v1.65h-11.85zM100.80 301.10h11.85v1.65h-11.85zM112.65 301.10h11.85v1.65h-11.85zM65.25 302.75h11.85v1.65h-11.85zM88.95 302.75h11.85v1.65h-11.85zM112.65 302.75h11.85v1.65h-11.85zM88.95 304.40h11.85v1.65h-11.85zM100.80 304.40h11.85v1.65h-11.85zM112.65 306.05h11.85v1.65h-11.85zM77.10 307.70h11.85v1.65h-11.85zM88.95 307.70h11.85v1.65h-11.85zM112.65 307.70h11.85v1.65h-11.85zM77.10 309.35h11.85v1.65h-11.85zM88.95 309.35h11.85v1.65h-11.85zM100.80 309.35h11.85v1.65h-11.85zM112.65 309.35h11.85v1.65h-11.85zM65.25 311.00h11.85v1.65h-11.85zM77.10 311.00h11.85v1.65h-11.85zM88.95 311.00h11.85v1.65h-11.85zM100.80 311.00h11.85v1.65h-11.85zM112.65 311.00h11.85v1.65h-11.85zM77.10 312.65h11.85v1.65h-11.85zM100.80 312.65h11.85v1.65h-11.85zM112.65 312.65h11.85v1.65h-11.85zM65.25 314.30h11.85v1.65h-11.85zM88.95 314.30h11.85v1.65h-11.85zM100.80 314.30h11.85v1.65h-11.85zM112.65 314.30h11.85v1.65h-11.85zM65.25 315.95h11.85v1.65h-11.85zM100.80 315.95h11.85v1.65h-11.85zM112.65 315.95h11.85v1.65h-11.85zM77.10 317.60h11.85v1.65h-11.85zM100.80 317.60h11.85v1.65h-11.85zM65.25 319.25h11.85v1.65h-11.85zM88.95 319.25h11.85v1.65h-11.85zM65.25 320.90h11.85v1.65h-11.85zM77.10 320.90h11.85v1.65h-11.85zM112.65 320.90h11.85v1.65h-11.85zM65.25 322.55h11.85v1.65h-11.85zM77.10 322.55h11.85v1.65h-11.85zM100.80 322.55h11.85v1.65h-11.85zM112.65 322.55h11.85v1.65h-11.85zM88.95 324.20h11.85v1.65h-11.85zM100.80 324.20h11.85v1.65h-11.85zM112.65 324.20h11.85v1.65h-11.85zM77.10 325.85h11.85v1.65h-11.85zM88.95 325.85h11.85v1.65h-11.85zM100.80 325.85h11.85v1.65h-11.85zM65.25 327.50h11.85v1.65h-11.85zM77.10 327.50h11.85v1.65h-11.85zM88.95 327.50h11.85v1.65h-11.85zM100.80 329.15h11.85v1.65h-11.85zM112.65 329.15h11.85v1.65h-11.85zM112.65 330.80h11.85v1.65h-11.85zM65.25 332.45h11.85v1.65h-11.85zM88.95 332.45h11.85v1.65h-11.85zM100.80 332.45h11.85v1.65h-11.85zM65.25 334.10h11.85v1.65h-11.85zM100.80 334.10h11.85v1.65h-11.85zM65.25 335.75h11.85v1.65h-11.85zM77.10 335.75h11.85v1.65h-11.85zM65.25 337.40h11.85v1.65h-11.85zM100.80 337.40h11.85v1.65h-11.85zM65.25 339.05h11.85v1.65h-11.85zM112.65 339.05h11.85v1.65h-11.85zM88.95 340.70h11.85v1.65h-11.85zM100.80 340.70h11.85v1.65h-11.85zM112.65 340.70h11.85v1.65h-11.85zM88.95 342.35h11.85v1.65h-11.85zM100.80 342.35h11.85v1.65h-11.85zM112.65 342.35h11.85v1.65h-11.85zM65.25 344.00h11.85v1.65h-11.85zM77.10 344.00h11.85v1.65h-11.85zM88.95 344.00h11.85v1.65h-11.85zM65.25 345.65h11.85v1.65h-11.85zM77.10 345.65h11.85v1.65h-11.85zM88.95 345.65h11.85v1.65h-11.85zM100.80 345.65h11.85v1.65h-11.85zM65.25 347.30h11.85v1.65h-11.85zM77.10 347.30h11.85v1.65h-11.85zM112.65 347.30h11.85v1.65h-11.85zM77.10 348.95h11.85v1.65h-11.85zM88.95 348.95h11.85v1.65h-11.85zM100.80 348.95h11.85v1.65h-11.85zM112.65 348.95h11.85v1.65h-11.85zM65.25 352.25h11.85v1.65h-11.85zM77.10 352.25h11.85v1.65h-11.85zM88.95 352.25h11.85v1.65h-11.85zM100.80 352.25h11.85v1.65h-11.85zM77.10 353.90h11.85v1.65h-11.85zM112.65 353.90h11.85v1.65h-11.85zM77.10 355.55h11.85v1.65h-11.85zM65.25 357.20h11.85v1.65h-11.85zM77.10 357.20h11.85v1.65h-11.85zM88.95 357.20h11.85v1.65h-11.85zM100.80 357.20h11.85v1.65h-11.85zM112.65 357.20h11.85v1.65h-11.85zM65.25 358.85h11.85v1.65h-11.85zM112.65 358.85h11.85v1.65h-11.85zM77.10 360.50h11.85v1.65h-11.85zM88.95 360.50h11.85v1.65h-11.85zM100.80 360.50h11.85v1.65h-11.85zM112.65 360.50h11.85v1.65h-11.85zM88.95 362.15h11.85v1.65h-11.85zM112.65 362.15h11.85v1.65h-11.85zM77.10 363.80h11.85v1.65h-11.85zM100.80 363.80h11.85v1.65h-11.85zM77.10 365.45h11.85v1.65h-11.85zM112.65 367.10h11.85v1.65h-11.85zM77.10 368.75h11.85v1.65h-11.85zM65.25 370.40h11.85v1.65h-11.85zM77.10 370.40h11.85v1.65h-11.85zM100.80 370.40h11.85v1.65h-11.85zM77.10 372.05h11.85v1.65h-11.85zM88.95 372.05h11.85v1.65h-11.85zM77.10 373.70h11.85v1.65h-11.85zM88.95 373.70h11.85v1.65h-11.85zM65.25 378.65h11.85v1.65h-11.85zM100.80 378.65h11.85v1.65h-11.85zM112.65 378.65h11.85v1.65h-11.85zM6.00 380.30h11.85v1.65h-11.85zM29.70 380.30h11.85v1.65h-11.85zM41.55 380.30h11.85v1.65h-11.85zM53.40 380.30h11.85v1.65h-11.85zM17.85 383.60h11.85v1.65h-11.85zM6.00 385.25h11.85v1.65h-11.85zM29.70 386.90h11.85v1.65h-11.85zM41.55 386.90h11.85v1.65h-11.85zM17.85 388.55h11.85v1.65h-11.85zM17.85 390.20h11.85v1.65h-11.85zM41.55 390.20h11.85v1.65h-11.85zM53.40 390.20h11.85v1.65h-11.85zM6.00 391.85h11.85v1.65h-11.85zM29.70 391.85h11.85v1.65h-11.85zM41.55 391.85h11.85v1.65h-11.85zM53.40 391.85h11.85v1.65h-11.85zM17.85 393.50h11.85v1.65h-11.85zM6.00 395.15h11.85v1.65h-11.85zM53.40 395.15h11.85v1.65h-11.85zM6.00 396.80h11.85v1.65h-11.85zM29.70 396.80h11.85v1.65h-11.85zM17.85 398.45h11.85v1.65h-11.85zM41.55 398.45h11.85v1.65h-11.85zM6.00 400.10h11.85v1.65h-11.85zM6.00 401.75h11.85v1.65h-11.85zM41.55 401.75h11.85v1.65h-11.85zM53.40 401.75h11.85v1.65h-11.85zM53.40 403.40h11.85v1.65h-11.85zM6.00 405.05h11.85v1.65h-11.85zM17.85 405.05h11.85v1.65h-11.85zM53.40 405.05h11.85v1.65h-11.85zM6.00 406.70h11.85v1.65h-11.85zM29.70 406.70h11.85v1.65h-11.85zM41.55 406.70h11.85v1.65h-11.85zM6.00 408.35h11.85v1.65h-11.85zM41.55 408.35h11.85v1.65h-11.85zM29.70 410.00h11.85v1.65h-11.85zM6.00 411.65h11.85v1.65h-11.85zM17.85 411.65h11.85v1.65h-11.85zM41.55 411.65h11.85v1.65h-11.85zM41.55 414.95h11.85v1.65h-11.85zM53.40 414.95h11.85v1.65h-11.85zM6.00 418.25h11.85v1.65h-11.85zM17.85 418.25h11.85v1.65h-11.85zM53.40 418.25h11.85v1.65h-11.85zM17.85 419.90h11.85v1.65h-11.85zM41.55 419.90h11.85v1.65h-11.85zM53.40 419.90h11.85v1.65h-11.85zM53.40 421.55h11.85v1.65h-11.85zM53.40 423.20h11.85v1.65h-11.85zM6.00 424.85h11.85v1.65h-11.85zM6.00 426.50h11.85v1.65h-11.85zM17.85 426.50h11.85v1.65h-11.85zM29.70 426.50h11.85v1.65h-11.85zM53.40 426.50h11.85v1.65h-11.85zM6.00 428.15h11.85v1.65h-11.85zM41.55 428.15h11.85v1.65h-11.85zM29.70 429.80h11.85v1.65h-11.85zM17.85 433.10h11.85v1.65h-11.85zM29.70 434.75h11.85v1.65h-11.85zM17.85 436.40h11.85v1.65h-11.85zM41.55 436.40h11.85v1.65h-11.85zM53.40 438.05h11.85v1.65h-11.85zM6.00 439.70h11.85v1.65h-11.85zM41.55 439.70h11.85v1.65h-11.85zM6.00 441.35h11.85v1.65h-11.85zM17.85 441.35h11.85v1.65h-11.85zM29.70 441.35h11.85v1.65h-11.85zM41.55 441.35h11.85v1.65h-11.85zM53.40 441.35h11.85v1.65h-11.85zM6.00 443.00h11.85v1.65h-11.85zM17.85 443.00h11.85v1.65h-11.85zM6.00 444.65h11.85v1.65h-11.85zM17.85 444.65h11.85v1.65h-11.85zM17.85 446.30h11.85v1.65h-11.85zM29.70 446.30h11.85v1.65h-11.85zM41.55 446.30h11.85v1.65h-11.85zM17.85 447.95h11.85v1.65h-11.85zM41.55 447.95h11.85v1.65h-11.85zM53.40 447.95h11.85v1.65h-11.85zM6.00 449.60h11.85v1.65h-11.85zM41.55 449.60h11.85v1.65h-11.85zM53.40 449.60h11.85v1.65h-11.85zM6.00 451.25h11.85v1.65h-11.85zM17.85 451.25h11.85v1.65h-11.85zM29.70 451.25h11.85v1.65h-11.85zM53.40 451.25h11.85v1.65h-11.85zM6.00 454.55h11.85v1.65h-11.85zM17.85 457.85h11.85v1.65h-11.85zM6.00 459.50h11.85v1.65h-11.85zM41.55 459.50h11.85v1.65h-11.85zM53.40 459.50h11.85v1.65h-11.85zM41.55 462.80h11.85v1.65h-11.85zM41.55 464.45h11.85v1.65h-11.85zM53.40 464.45h11.85v1.65h-11.85zM6.00 466.10h11.85v1.65h-11.85zM29.70 466.10h11.85v1.65h-11.85zM53.40 466.10h11.85v1.65h-11.85zM17.85 467.75h11.85v1.65h-11.85zM41.55 467.75h11.85v1.65h-11.85zM17.85 469.40h11.85v1.65h-11.85zM53.40 469.40h11.85v1.65h-11.85zM17.85 471.05h11.85v1.65h-11.85zM29.70 471.05h11.85v1.65h-11.85zM53.40 471.05h11.85v1.65h-11.85zM6.00 472.70h11.85v1.65h-11.85zM41.55 472.70h11.85v1.65h-11.85zM17.85 476.00h11.85v1.65h-11.85zM41.55 476.00h11.85v1.65h-11.85zM53.40 476.00h11.85v1.65h-11.85zM6.00 477.65h11.85v1.65h-11.85zM41.55 477.65h11.85v1.65h-11.85zM53.40 477.65h11.85v1.65h-11.85zM53.40 479.30h11.85v1.65h-11.85zM6.00 480.95h11.85v1.65h-11.85zM29.70 480.95h11.85v1.65h-11.85zM41.55 482.60h11.85v1.65h-11.85zM29.70 484.25h11.85v1.65h-11.85zM53.40 484.25h11.85v1.65h-11.85zM17.85 485.90h11.85v1.65h-11.85zM17.85 487.55h11.85v1.65h-11.85zM17.85 490.85h11.85v1.65h-11.85zM29.70 490.85h11.85v1.65h-11.85zM41.55 490.85h11.85v1.65h-11.85zM53.40 490.85h11.85v1.65h-11.85zM6.00 492.50h11.85v1.65h-11.85zM29.70 492.50h11.85v1.65h-11.85zM6.00 494.15h11.85v1.65h-11.85zM17.85 494.15h11.85v1.65h-11.85zM29.70 494.15h11.85v1.65h-11.85zM41.55 494.15h11.85v1.65h-11.85zM53.40 494.15h11.85v1.65h-11.85zM6.00 497.45h11.85v1.65h-11.85zM53.40 497.45h11.85v1.65h-11.85zM17.85 499.10h11.85v1.65h-11.85zM29.70 499.10h11.85v1.65h-11.85zM41.55 499.10h11.85v1.65h-11.85zM53.40 499.10h11.85v1.65h-11.85zM29.70 500.75h11.85v1.65h-11.85zM41.55 500.75h11.85v1.65h-11.85zM17.85 502.40h11.85v1.65h-11.85zM53.40 504.05h11.85v1.65h-11.85zM6.00 505.70h11.85v1.65h-11.85zM29.70 505.70h11.85v1.65h-11.85zM41.55 505.70h11.85v1.65h-11.85zM17.85 507.35h11.85v1.65h-11.85zM41.55 507.35h11.85v1.65h-11.85zM53.40 507.35h11.85v1.65h-11.85zM6.00 509.00h11.85v1.65h-11.85zM17.85 509.00h11.85v1.65h-11.85zM53.40 509.00h11.85v1.65h-11.85zM53.40 510.65h11.85v1.65h-11.85zM6.00 512.30h11.85v1.65h-11.85zM41.55 512.30h11.85v1.65h-11.85zM29.70 515.60h11.85v1.65h-11.85zM17.85 517.25h11.85v1.65h-11.85zM53.40 517.25h11.85v1.65h-11.85zM41.55 518.90h11.85v1.65h-11.85zM53.40 518.90h11.85v1.65h-11.85zM6.00 520.55h11.85v1.65h-11.85zM29.70 520.55h11.85v1.65h-11.85zM41.55 520.55h11.85v1.65h-11.85zM17.85 522.20h11.85v1.65h-11.85zM29.70 522.20h11.85v1.65h-11.85zM41.55 522.20h11.85v1.65h-11.85zM53.40 522.20h11.85v1.65h-11.85zM29.70 523.85h11.85v1.65h-11.85zM41.55 523.85h11.85v1.65h-11.85zM53.40 523.85h11.85v1.65h-11.85zM6.00 525.50h11.85v1.65h-11.85zM29.70 525.50h11.85v1.65h-11.85zM53.40 525.50h11.85v1.65h-11.85zM6.00 528.80h11.85v1.65h-11.85zM17.85 528.80h11.85v1.65h-11.85zM29.70 528.80h11.85v1.65h-11.85zM29.70 530.45h11.85v1.65h-11.85zM41.55 530.45h11.85v1.65h-11.85zM53.40 530.45h11.85v1.65h-11.85zM29.70 532.10h11.85v1.65h-11.85zM53.40 532.10h11.85v1.65h-11.85zM53.40 535.40h11.85v1.65h-11.85zM6.00 537.05h11.85v1.65h-11.85zM41.55 537.05h11.85v1.65h-11.85zM53.40 537.05h11.85v1.65h-11.85zM6.00 538.70h11.85v1.65h-11.85zM17.85 538.70h11.85v1.65h-11.85zM17.85 540.35h11.85v1.65h-11.85zM29.70 540.35h11.85v1.65h-11.85zM6.00 542.00h11.85v1.65h-11.85zM17.85 542.00h11.85v1.65h-11.85zM29.70 542.00h11.85v1.65h-11.85zM41.55 542.00h11.85v1.65h-11.85zM17.85 543.65h11.85v1.65h-11.85zM29.70 543.65h11.85v1.65h-11.85zM6.00 545.30h11.85v1.65h-11.85zM53.40 545.30h11.85v1.65h-11.85zM17.85 546.95h11.85v1.65h-11.85zM53.40 546.95h11.85v1.65h-11.85zM6.00 548.60h11.85v1.65h-11.85zM41.55 548.60h11.85v1.65h-11.85zM17.85 550.25h11.85v1.65h-11.85zM29.70 550.25h11.85v1.65h-11.85zM53.40 550.25h11.85v1.65h-11.85zM17.85 553.55h11.85v1.65h-11.85zM41.55 553.55h11.85v1.65h-11.85zM41.55 556.85h11.85v1.65h-11.85zM53.40 556.85h11.85v1.65h-11.85zM6.00 558.50h11.85v1.65h-11.85zM17.85 558.50h11.85v1.65h-11.85zM6.00 560.15h11.85v1.65h-11.85zM29.70 560.15h11.85v1.65h-11.85zM53.40 560.15h11.85v1.65h-11.85zM29.70 563.45h11.85v1.65h-11.85zM41.55 563.45h11.85v1.65h-11.85zM53.40 563.45h11.85v1.65h-11.85zM17.85 565.10h11.85v1.65h-11.85zM29.70 566.75h11.85v1.65h-11.85zM41.55 566.75h11.85v1.65h-11.85zM53.40 566.75h11.85v1.65h-11.85zM41.55 568.40h11.85v1.65h-11.85zM6.00 570.05h11.85v1.65h-11.85zM17.85 570.05h11.85v1.65h-11.85zM29.70 570.05h11.85v1.65h-11.85zM41.55 570.05h11.85v1.65h-11.85zM6.00 571.70h11.85v0.30h-11.85zM29.70 571.70h11.85v0.30h-11.85z"/><path fill="#cdf20a" d="M77.10 127.85h11.85v1.65h-11.85zM77.10 131.15h11.85v1.65h-11.85zM88.95 131.15h11.85v1.65h-11.85zM88.95 157.55h11.85v1.65h-11.85zM100.80 159.20h11.85v1.65h-11.85zM65.25 164.15h11.85v1.65h-11.85zM100.80 169.10h11.85v1.65h-11.85zM65.25 182.30h11.85v1.65h-11.85zM100.80 185.60h11.85v1.65h-11.85zM77.10 187.25h11.85v1.65h-11.85zM88.95 187.25h11.85v1.65h-11.85zM100.80 187.25h11.85v1.65h-11.85zM65.25 190.55h11.85v1.65h-11.85zM112.65 190.55h11.85v1.65h-11.85zM65.25 193.85h11.85v1.65h-11.85zM100.80 195.50h11.85v1.65h-11.85zM100.80 197.15h11.85v1.65h-11.85zM100.80 208.70h11.85v1.65h-11.85zM88.95 213.65h11.85v1.65h-11.85zM65.25 230.15h11.85v1.65h-11.85zM88.95 233.45h11.85v1.65h-11.85zM112.65 235.10h11.85v1.65h-11.85zM88.95 236.75h11.85v1.65h-11.85zM88.95 241.70h11.85v1.65h-11.85zM100.80 241.70h11.85v1.65h-11.85zM77.10 243.35h11.85v1.65h-11.85zM88.95 253.25h11.85v1.65h-11.85zM65.25 256.55h11.85v1.65h-11.85zM77.10 263.15h11.85v1.65h-11.85zM112.65 263.15h11.85v1.65h-11.85zM77.10 273.05h11.85v1.65h-11.85zM88.95 273.05h11.85v1.65h-11.85zM100.80 273.05h11.85v1.65h-11.85zM77.10 276.35h11.85v1.65h-11.85zM65.25 284.60h11.85v1.65h-11.85zM88.95 284.60h11.85v1.65h-11.85zM100.80 284.60h11.85v1.65h-11.85zM112.65 284.60h11.85v1.65h-11.85zM112.65 287.90h11.85v1.65h-11.85zM65.25 289.55h11.85v1.65h-11.85zM112.65 289.55h11.85v1.65h-11.85zM100.80 291.20h11.85v1.65h-11.85zM77.10 296.15h11.85v1.65h-11.85zM100.80 296.15h11.85v1.65h-11.85zM112.65 296.15h11.85v1.65h-11.85zM100.80 297.80h11.85v1.65h-11.85zM77.10 302.75h11.85v1.65h-11.85zM65.25 317.60h11.85v1.65h-11.85zM112.65 317.60h11.85v1.65h-11.85zM77.10 319.25h11.85v1.65h-11.85zM100.80 319.25h11.85v1.65h-11.85zM112.65 319.25h11.85v1.65h-11.85zM88.95 320.90h11.85v1.65h-11.85zM100.80 320.90h11.85v1.65h-11.85zM88.95 322.55h11.85v1.65h-11.85zM65.25 324.20h11.85v1.65h-11.85zM77.10 324.20h11.85v1.65h-11.85zM65.25 325.85h11.85v1.65h-11.85zM112.65 325.85h11.85v1.65h-11.85zM100.80 327.50h11.85v1.65h-11.85zM112.65 327.50h11.85v1.65h-11.85zM65.25 329.15h11.85v1.65h-11.85zM65.25 330.80h11.85v1.65h-11.85zM77.10 330.80h11.85v1.65h-11.85zM88.95 330.80h11.85v1.65h-11.85zM112.65 332.45h11.85v1.65h-11.85zM77.10 334.10h11.85v1.65h-11.85zM88.95 334.10h11.85v1.65h-11.85zM112.65 334.10h11.85v1.65h-11.85zM88.95 335.75h11.85v1.65h-11.85zM100.80 335.75h11.85v1.65h-11.85zM112.65 335.75h11.85v1.65h-11.85zM77.10 337.40h11.85v1.65h-11.85zM88.95 337.40h11.85v1.65h-11.85zM112.65 337.40h11.85v1.65h-11.85zM88.95 339.05h11.85v1.65h-11.85zM100.80 339.05h11.85v1.65h-11.85zM65.25 340.70h11.85v1.65h-11.85zM65.25 342.35h11.85v1.65h-11.85zM77.10 342.35h11.85v1.65h-11.85zM100.80 344.00h11.85v1.65h-11.85zM65.25 348.95h11.85v1.65h-11.85zM65.25 350.60h11.85v1.65h-11.85zM77.10 350.60h11.85v1.65h-11.85zM112.65 350.60h11.85v1.65h-11.85zM65.25 353.90h11.85v1.65h-11.85zM88.95 353.90h11.85v1.65h-11.85zM100.80 353.90h11.85v1.65h-11.85zM65.25 355.55h11.85v1.65h-11.85zM88.95 355.55h11.85v1.65h-11.85zM100.80 355.55h11.85v1.65h-11.85zM112.65 355.55h11.85v1.65h-11.85zM77.10 358.85h11.85v1.65h-11.85zM88.95 358.85h11.85v1.65h-11.85zM100.80 358.85h11.85v1.65h-11.85zM65.25 360.50h11.85v1.65h-11.85zM65.25 362.15h11.85v1.65h-11.85zM77.10 362.15h11.85v1.65h-11.85zM100.80 362.15h11.85v1.65h-11.85zM65.25 363.80h11.85v1.65h-11.85zM88.95 363.80h11.85v1.65h-11.85zM112.65 363.80h11.85v1.65h-11.85zM65.25 365.45h11.85v1.65h-11.85zM88.95 365.45h11.85v1.65h-11.85zM100.80 365.45h11.85v1.65h-11.85zM112.65 365.45h11.85v1.65h-11.85zM77.10 367.10h11.85v1.65h-11.85zM88.95 367.10h11.85v1.65h-11.85zM100.80 367.10h11.85v1.65h-11.85zM65.25 368.75h11.85v1.65h-11.85zM88.95 368.75h11.85v1.65h-11.85zM100.80 368.75h11.85v1.65h-11.85zM112.65 368.75h11.85v1.65h-11.85zM88.95 370.40h11.85v1.65h-11.85zM112.65 370.40h11.85v1.65h-11.85zM65.25 372.05h11.85v1.65h-11.85zM100.80 372.05h11.85v1.65h-11.85zM112.65 372.05h11.85v1.65h-11.85zM65.25 373.70h11.85v1.65h-11.85zM100.80 373.70h11.85v1.65h-11.85zM112.65 373.70h11.85v1.65h-11.85zM77.10 375.35h11.85v1.65h-11.85zM100.80 375.35h11.85v1.65h-11.85zM112.65 375.35h11.85v1.65h-11.85zM65.25 377.00h11.85v1.65h-11.85zM77.10 377.00h11.85v1.65h-11.85zM88.95 377.00h11.85v1.65h-11.85zM100.80 377.00h11.85v1.65h-11.85zM112.65 377.00h11.85v1.65h-11.85zM77.10 378.65h11.85v1.65h-11.85zM88.95 378.65h11.85v1.65h-11.85zM41.55 381.95h11.85v1.65h-11.85zM53.40 381.95h11.85v1.65h-11.85zM6.00 383.60h11.85v1.65h-11.85zM29.70 383.60h11.85v1.65h-11.85zM41.55 383.60h11.85v1.65h-11.85zM53.40 383.60h11.85v1.65h-11.85zM17.85 385.25h11.85v1.65h-11.85zM29.70 385.25h11.85v1.65h-11.85zM41.55 385.25h11.85v1.65h-11.85zM53.40 385.25h11.85v1.65h-11.85zM6.00 386.90h11.85v1.65h-11.85zM17.85 386.90h11.85v1.65h-11.85zM53.40 386.90h11.85v1.65h-11.85zM6.00 388.55h11.85v1.65h-11.85zM29.70 388.55h11.85v1.65h-11.85zM41.55 388.55h11.85v1.65h-11.85zM6.00 390.20h11.85v1.65h-11.85zM29.70 390.20h11.85v1.65h-11.85zM17.85 395.15h11.85v1.65h-11.85zM29.70 395.15h11.85v1.65h-11.85zM17.85 396.80h11.85v1.65h-11.85zM41.55 396.80h11.85v1.65h-11.85zM29.70 398.45h11.85v1.65h-11.85zM29.70 400.10h11.85v1.65h-11.85zM6.00 403.40h11.85v1.65h-11.85zM17.85 403.40h11.85v1.65h-11.85zM29.70 403.40h11.85v1.65h-11.85zM29.70 405.05h11.85v1.65h-11.85zM41.55 405.05h11.85v1.65h-11.85zM17.85 408.35h11.85v1.65h-11.85zM6.00 410.00h11.85v1.65h-11.85zM29.70 411.65h11.85v1.65h-11.85zM29.70 418.25h11.85v1.65h-11.85zM41.55 418.25h11.85v1.65h-11.85zM29.70 419.90h11.85v1.65h-11.85zM17.85 421.55h11.85v1.65h-11.85zM41.55 421.55h11.85v1.65h-11.85zM17.85 423.20h11.85v1.65h-11.85zM17.85 424.85h11.85v1.65h-11.85zM41.55 424.85h11.85v1.65h-11.85zM17.85 428.15h11.85v1.65h-11.85zM6.00 431.45h11.85v1.65h-11.85zM29.70 431.45h11.85v1.65h-11.85zM41.55 431.45h11.85v1.65h-11.85zM53.40 431.45h11.85v1.65h-11.85zM53.40 439.70h11.85v1.65h-11.85zM41.55 443.00h11.85v1.65h-11.85zM53.40 443.00h11.85v1.65h-11.85zM29.70 444.65h11.85v1.65h-11.85zM53.40 444.65h11.85v1.65h-11.85zM6.00 446.30h11.85v1.65h-11.85zM53.40 446.30h11.85v1.65h-11.85zM6.00 447.95h11.85v1.65h-11.85zM29.70 447.95h11.85v1.65h-11.85zM29.70 452.90h11.85v1.65h-11.85zM53.40 452.90h11.85v1.65h-11.85zM29.70 462.80h11.85v1.65h-11.85zM17.85 464.45h11.85v1.65h-11.85zM6.00 469.40h11.85v1.65h-11.85zM29.70 469.40h11.85v1.65h-11.85zM41.55 469.40h11.85v1.65h-11.85zM6.00 471.05h11.85v1.65h-11.85zM41.55 471.05h11.85v1.65h-11.85zM17.85 472.70h11.85v1.65h-11.85zM6.00 476.00h11.85v1.65h-11.85zM17.85 477.65h11.85v1.65h-11.85zM29.70 477.65h11.85v1.65h-11.85zM41.55 484.25h11.85v1.65h-11.85zM6.00 489.20h11.85v1.65h-11.85zM17.85 492.50h11.85v1.65h-11.85zM17.85 497.45h11.85v1.65h-11.85zM29.70 497.45h11.85v1.65h-11.85zM6.00 500.75h11.85v1.65h-11.85zM6.00 507.35h11.85v1.65h-11.85zM41.55 509.00h11.85v1.65h-11.85zM41.55 510.65h11.85v1.65h-11.85zM17.85 512.30h11.85v1.65h-11.85zM29.70 512.30h11.85v1.65h-11.85zM53.40 512.30h11.85v1.65h-11.85zM6.00 517.25h11.85v1.65h-11.85zM6.00 518.90h11.85v1.65h-11.85zM17.85 518.90h11.85v1.65h-11.85zM29.70 518.90h11.85v1.65h-11.85zM17.85 520.55h11.85v1.65h-11.85zM6.00 522.20h11.85v1.65h-11.85zM17.85 523.85h11.85v1.65h-11.85zM17.85 525.50h11.85v1.65h-11.85zM29.70 527.15h11.85v1.65h-11.85zM6.00 530.45h11.85v1.65h-11.85zM6.00 532.10h11.85v1.65h-11.85zM17.85 532.10h11.85v1.65h-11.85zM17.85 537.05h11.85v1.65h-11.85zM29.70 538.70h11.85v1.65h-11.85zM41.55 538.70h11.85v1.65h-11.85zM53.40 538.70h11.85v1.65h-11.85zM6.00 540.35h11.85v1.65h-11.85zM41.55 540.35h11.85v1.65h-11.85zM53.40 540.35h11.85v1.65h-11.85zM53.40 542.00h11.85v1.65h-11.85zM6.00 543.65h11.85v1.65h-11.85zM53.40 543.65h11.85v1.65h-11.85zM6.00 546.95h11.85v1.65h-11.85zM41.55 546.95h11.85v1.65h-11.85zM29.70 548.60h11.85v1.65h-11.85zM53.40 548.60h11.85v1.65h-11.85zM6.00 551.90h11.85v1.65h-11.85zM29.70 551.90h11.85v1.65h-11.85zM41.55 551.90h11.85v1.65h-11.85zM53.40 551.90h11.85v1.65h-11.85zM6.00 553.55h11.85v1.65h-11.85zM53.40 553.55h11.85v1.65h-11.85zM6.00 556.85h11.85v1.65h-11.85zM29.70 556.85h11.85v1.65h-11.85zM41.55 558.50h11.85v1.65h-11.85zM17.85 560.15h11.85v1.65h-11.85zM41.55 560.15h11.85v1.65h-11.85zM6.00 561.80h11.85v1.65h-11.85zM17.85 561.80h11.85v1.65h-11.85zM29.70 561.80h11.85v1.65h-11.85zM41.55 561.80h11.85v1.65h-11.85zM53.40 561.80h11.85v1.65h-11.85zM29.70 565.10h11.85v1.65h-11.85zM41.55 565.10h11.85v1.65h-11.85zM6.00 566.75h11.85v1.65h-11.85zM17.85 566.75h11.85v1.65h-11.85zM17.85 568.40h11.85v1.65h-11.85zM29.70 568.40h11.85v1.65h-11.85zM17.85 571.70h11.85v0.30h-11.85zM53.40 571.70h11.85v0.30h-11.85z"/><path fill="#f0f205" d="M6.00 101.45h11.85v1.65h-11.85zM41.55 103.10h11.85v1.65h-11.85zM6.00 109.70h11.85v1.65h-11.85zM6.00 137.75h11.85v1.65h-11.85zM6.00 146.00h11.85v1.65h-11.85zM29.70 165.80h11.85v1.65h-11.85zM53.40 165.80h11.85v1.65h-11.85zM29.70 172.40h11.85v1.65h-11.85zM53.40 177.35h11.85v1.65h-11.85zM112.65 187.25h11.85v1.65h-11.85zM29.70 202.10h11.85v1.65h-11.85zM29.70 215.30h11.85v1.65h-11.85zM17.85 230.15h11.85v1.65h-11.85zM6.00 254.90h11.85v1.65h-11.85zM17.85 254.90h11.85v1.65h-11.85zM53.40 254.90h11.85v1.65h-11.85zM29.70 266.45h11.85v1.65h-11.85zM6.00 281.30h11.85v1.65h-11.85zM6.00 304.40h11.85v1.65h-11.85zM6.00 306.05h11.85v1.65h-11.85zM29.70 306.05h11.85v1.65h-11.85zM29.70 309.35h11.85v1.65h-11.85zM53.40 322.55h11.85v1.65h-11.85zM77.10 339.05h11.85v1.65h-11.85zM112.65 344.00h11.85v1.65h-11.85zM6.00 347.30h11.85v1.65h-11.85zM53.40 347.30h11.85v1.65h-11.85zM88.95 350.60h11.85v1.65h-11.85zM100.80 350.60h11.85v1.65h-11.85zM65.25 367.10h11.85v1.65h-11.85zM29.70 375.35h11.85v1.65h-11.85zM6.00 381.95h11.85v1.65h-11.85zM17.85 381.95h11.85v1.65h-11.85zM29.70 381.95h11.85v1.65h-11.85zM41.55 403.40h11.85v1.65h-11.85zM29.70 428.15h11.85v1.65h-11.85zM53.40 428.15h11.85v1.65h-11.85zM29.70 443.00h11.85v1.65h-11.85zM29.70 472.70h11.85v1.65h-11.85zM53.40 472.70h11.85v1.65h-11.85zM6.00 510.65h11.85v1.65h-11.85zM17.85 510.65h11.85v1.65h-11.85zM29.70 510.65h11.85v1.65h-11.85zM6.00 513.95h11.85v1.65h-11.85zM17.85 513.95h11.85v1.65h-11.85zM29.70 513.95h11.85v1.65h-11.85zM53.40 513.95h11.85v1.65h-11.85zM29.70 517.25h11.85v1.65h-11.85zM17.85 548.60h11.85v1.65h-11.85zM17.85 551.90h11.85v1.65h-11.85zM6.00 555.20h11.85v1.65h-11.85zM17.85 555.20h11.85v1.65h-11.85zM29.70 555.20h11.85v1.65h-11.85zM41.55 555.20h11.85v1.65h-11.85zM53.40 555.20h11.85v1.65h-11.85zM53.40 565.10h11.85v1.65h-11.85zM53.40 568.40h11.85v1.65h-11.85zM53.40 570.05h11.85v1.65h-11.85z"/><path fill="#ffe800" d="M6.00 81.65h11.85v1.65h-11.85zM17.85 86.60h11.85v1.65h-11.85zM17.85 101.45h11.85v1.65h-11.85zM29.70 101.45h11.85v1.65h-11.85zM53.40 101.45h11.85v1.65h-11.85zM53.40 109.70h11.85v1.65h-11.85zM29.70 111.35h11.85v1.65h-11.85zM6.00 114.65h11.85v1.65h-11.85zM6.00 119.60h11.85v1.65h-11.85zM6.00 121.25h11.85v1.65h-11.85zM29.70 121.25h11.85v1.65h-11.85zM53.40 121.25h11.85v1.65h-11.85zM17.85 122.90h11.85v1.65h-11.85zM17.85 124.55h11.85v1.65h-11.85zM6.00 127.85h11.85v1.65h-11.85zM29.70 137.75h11.85v1.65h-11.85zM53.40 137.75h11.85v1.65h-11.85zM29.70 141.05h11.85v1.65h-11.85zM17.85 147.65h11.85v1.65h-11.85zM53.40 147.65h11.85v1.65h-11.85zM6.00 149.30h11.85v1.65h-11.85zM41.55 150.95h11.85v1.65h-11.85zM53.40 150.95h11.85v1.65h-11.85zM53.40 152.60h11.85v1.65h-11.85zM6.00 154.25h11.85v1.65h-11.85zM6.00 155.90h11.85v1.65h-11.85zM29.70 155.90h11.85v1.65h-11.85zM41.55 157.55h11.85v1.65h-11.85zM41.55 165.80h11.85v1.65h-11.85zM17.85 167.45h11.85v1.65h-11.85zM17.85 170.75h11.85v1.65h-11.85zM6.00 172.40h11.85v1.65h-11.85zM41.55 172.40h11.85v1.65h-11.85zM6.00 174.05h11.85v1.65h-11.85zM29.70 180.65h11.85v1.65h-11.85zM29.70 183.95h11.85v1.65h-11.85zM41.55 183.95h11.85v1.65h-11.85zM6.00 185.60h11.85v1.65h-11.85zM29.70 195.50h11.85v1.65h-11.85zM17.85 198.80h11.85v1.65h-11.85zM53.40 207.05h11.85v1.65h-11.85zM6.00 210.35h11.85v1.65h-11.85zM6.00 216.95h11.85v1.65h-11.85zM41.55 218.60h11.85v1.65h-11.85zM17.85 221.90h11.85v1.65h-11.85zM17.85 223.55h11.85v1.65h-11.85zM6.00 225.20h11.85v1.65h-11.85zM17.85 225.20h11.85v1.65h-11.85zM17.85 226.85h11.85v1.65h-11.85zM53.40 228.50h11.85v1.65h-11.85zM41.55 230.15h11.85v1.65h-11.85zM6.00 231.80h11.85v1.65h-11.85zM53.40 238.40h11.85v1.65h-11.85zM29.70 240.05h11.85v1.65h-11.85zM6.00 245.00h11.85v1.65h-11.85zM29.70 245.00h11.85v1.65h-11.85zM53.40 248.30h11.85v1.65h-11.85zM53.40 249.95h11.85v1.65h-11.85zM6.00 251.60h11.85v1.65h-11.85zM29.70 251.60h11.85v1.65h-11.85zM17.85 253.25h11.85v1.65h-11.85zM6.00 258.20h11.85v1.65h-11.85zM29.70 258.20h11.85v1.65h-11.85zM6.00 261.50h11.85v1.65h-11.85zM17.85 266.45h11.85v1.65h-11.85zM29.70 268.10h11.85v1.65h-11.85zM6.00 269.75h11.85v1.65h-11.85zM41.55 271.40h11.85v1.65h-11.85zM29.70 274.70h11.85v1.65h-11.85zM29.70 279.65h11.85v1.65h-11.85zM29.70 281.30h11.85v1.65h-11.85zM53.40 281.30h11.85v1.65h-11.85zM41.55 284.60h11.85v1.65h-11.85zM29.70 286.25h11.85v1.65h-11.85zM53.40 286.25h11.85v1.65h-11.85zM6.00 289.55h11.85v1.65h-11.85zM53.40 291.20h11.85v1.65h-11.85zM29.70 302.75h11.85v1.65h-11.85zM53.40 302.75h11.85v1.65h-11.85zM17.85 307.70h11.85v1.65h-11.85zM6.00 309.35h11.85v1.65h-11.85zM53.40 309.35h11.85v1.65h-11.85zM6.00 311.00h11.85v1.65h-11.85zM53.40 311.00h11.85v1.65h-11.85zM6.00 312.65h11.85v1.65h-11.85zM17.85 312.65h11.85v1.65h-11.85zM53.40 312.65h11.85v1.65h-11.85zM6.00 314.30h11.85v1.65h-11.85zM6.00 315.95h11.85v1.65h-11.85zM29.70 315.95h11.85v1.65h-11.85zM6.00 322.55h11.85v1.65h-11.85zM29.70 322.55h11.85v1.65h-11.85zM29.70 329.15h11.85v1.65h-11.85zM29.70 335.75h11.85v1.65h-11.85zM29.70 340.70h11.85v1.65h-11.85zM29.70 342.35h11.85v1.65h-11.85zM53.40 342.35h11.85v1.65h-11.85zM6.00 352.25h11.85v1.65h-11.85zM29.70 357.20h11.85v1.65h-11.85zM29.70 363.80h11.85v1.65h-11.85zM6.00 367.10h11.85v1.65h-11.85zM29.70 373.70h11.85v1.65h-11.85zM65.25 380.30h11.85v1.65h-11.85zM88.95 391.85h11.85v1.65h-11.85zM65.25 393.50h11.85v1.65h-11.85zM88.95 396.80h11.85v1.65h-11.85zM88.95 413.30h11.85v1.65h-11.85zM88.95 419.90h11.85v1.65h-11.85zM65.25 433.10h11.85v1.65h-11.85zM65.25 441.35h11.85v1.65h-11.85zM88.95 451.25h11.85v1.65h-11.85zM65.25 456.20h11.85v1.65h-11.85zM100.80 456.20h11.85v1.65h-11.85zM88.95 457.85h11.85v1.65h-11.85zM65.25 461.15h11.85v1.65h-11.85zM65.25 474.35h11.85v1.65h-11.85zM65.25 477.65h11.85v1.65h-11.85zM65.25 479.30h11.85v1.65h-11.85zM88.95 479.30h11.85v1.65h-11.85zM88.95 482.60h11.85v1.65h-11.85zM65.25 485.90h11.85v1.65h-11.85zM100.80 485.90h11.85v1.65h-11.85zM65.25 487.55h11.85v1.65h-11.85zM65.25 489.20h11.85v1.65h-11.85zM88.95 492.50h11.85v1.65h-11.85zM65.25 495.80h11.85v1.65h-11.85zM100.80 495.80h11.85v1.65h-11.85zM65.25 500.75h11.85v1.65h-11.85zM65.25 502.40h11.85v1.65h-11.85zM65.25 504.05h11.85v1.65h-11.85zM100.80 504.05h11.85v1.65h-11.85zM112.65 507.35h11.85v1.65h-11.85zM41.55 513.95h11.85v1.65h-11.85zM65.25 515.60h11.85v1.65h-11.85zM65.25 518.90h11.85v1.65h-11.85zM77.10 527.15h11.85v1.65h-11.85zM65.25 533.75h11.85v1.65h-11.85zM88.95 535.40h11.85v1.65h-11.85zM65.25 537.05h11.85v1.65h-11.85zM112.65 538.70h11.85v1.65h-11.85zM88.95 545.30h11.85v1.65h-11.85zM88.95 548.60h11.85v1.65h-11.85zM88.95 558.50h11.85v1.65h-11.85zM65.25 560.15h11.85v1.65h-11.85zM65.25 563.45h11.85v1.65h-11.85zM65.25 570.05h11.85v1.65h-11.85zM65.25 571.70h11.85v0.30h-11.85z"/><path fill="#ffc305" d="M29.70 80.00h11.85v1.65h-11.85zM53.40 81.65h11.85v1.65h-11.85zM6.00 83.30h11.85v1.65h-11.85zM29.70 84.95h11.85v1.65h-11.85zM29.70 86.60h11.85v1.65h-11.85zM53.40 86.60h11.85v1.65h-11.85zM6.00 89.90h11.85v1.65h-11.85zM17.85 93.20h11.85v1.65h-11.85zM53.40 93.20h11.85v1.65h-11.85zM53.40 94.85h11.85v1.65h-11.85zM41.55 101.45h11.85v1.65h-11.85zM6.00 103.10h11.85v1.65h-11.85zM17.85 103.10h11.85v1.65h-11.85zM29.70 103.10h11.85v1.65h-11.85zM53.40 103.10h11.85v1.65h-11.85zM6.00 104.75h11.85v1.65h-11.85zM6.00 108.05h11.85v1.65h-11.85zM17.85 108.05h11.85v1.65h-11.85zM29.70 108.05h11.85v1.65h-11.85zM53.40 108.05h11.85v1.65h-11.85zM29.70 109.70h11.85v1.65h-11.85zM29.70 114.65h11.85v1.65h-11.85zM41.55 114.65h11.85v1.65h-11.85zM53.40 114.65h11.85v1.65h-11.85zM41.55 116.30h11.85v1.65h-11.85zM6.00 117.95h11.85v1.65h-11.85zM29.70 119.60h11.85v1.65h-11.85zM41.55 119.60h11.85v1.65h-11.85zM53.40 119.60h11.85v1.65h-11.85zM17.85 121.25h11.85v1.65h-11.85zM6.00 122.90h11.85v1.65h-11.85zM29.70 122.90h11.85v1.65h-11.85zM6.00 126.20h11.85v1.65h-11.85zM29.70 126.20h11.85v1.65h-11.85zM17.85 127.85h11.85v1.65h-11.85zM53.40 127.85h11.85v1.65h-11.85zM6.00 131.15h11.85v1.65h-11.85zM53.40 134.45h11.85v1.65h-11.85zM6.00 136.10h11.85v1.65h-11.85zM29.70 136.10h11.85v1.65h-11.85zM53.40 136.10h11.85v1.65h-11.85zM17.85 137.75h11.85v1.65h-11.85zM6.00 139.40h11.85v1.65h-11.85zM29.70 139.40h11.85v1.65h-11.85zM6.00 141.05h11.85v1.65h-11.85zM17.85 142.70h11.85v1.65h-11.85zM29.70 144.35h11.85v1.65h-11.85zM17.85 146.00h11.85v1.65h-11.85zM53.40 146.00h11.85v1.65h-11.85zM6.00 147.65h11.85v1.65h-11.85zM29.70 147.65h11.85v1.65h-11.85zM17.85 149.30h11.85v1.65h-11.85zM29.70 149.30h11.85v1.65h-11.85zM6.00 150.95h11.85v1.65h-11.85zM17.85 150.95h11.85v1.65h-11.85zM29.70 150.95h11.85v1.65h-11.85zM29.70 152.60h11.85v1.65h-11.85zM17.85 154.25h11.85v1.65h-11.85zM29.70 154.25h11.85v1.65h-11.85zM53.40 154.25h11.85v1.65h-11.85zM17.85 155.90h11.85v1.65h-11.85zM41.55 155.90h11.85v1.65h-11.85zM53.40 155.90h11.85v1.65h-11.85zM53.40 157.55h11.85v1.65h-11.85zM53.40 159.20h11.85v1.65h-11.85zM29.70 160.85h11.85v1.65h-11.85zM6.00 162.50h11.85v1.65h-11.85zM29.70 162.50h11.85v1.65h-11.85zM53.40 162.50h11.85v1.65h-11.85zM6.00 167.45h11.85v1.65h-11.85zM29.70 167.45h11.85v1.65h-11.85zM53.40 167.45h11.85v1.65h-11.85zM29.70 169.10h11.85v1.65h-11.85zM29.70 170.75h11.85v1.65h-11.85zM17.85 172.40h11.85v1.65h-11.85zM53.40 172.40h11.85v1.65h-11.85zM6.00 175.70h11.85v1.65h-11.85zM53.40 175.70h11.85v1.65h-11.85zM6.00 177.35h11.85v1.65h-11.85zM17.85 177.35h11.85v1.65h-11.85zM29.70 177.35h11.85v1.65h-11.85zM41.55 177.35h11.85v1.65h-11.85zM6.00 179.00h11.85v1.65h-11.85zM29.70 179.00h11.85v1.65h-11.85zM6.00 180.65h11.85v1.65h-11.85zM17.85 180.65h11.85v1.65h-11.85zM41.55 180.65h11.85v1.65h-11.85zM53.40 180.65h11.85v1.65h-11.85zM29.70 182.30h11.85v1.65h-11.85zM6.00 183.95h11.85v1.65h-11.85zM17.85 185.60h11.85v1.65h-11.85zM53.40 188.90h11.85v1.65h-11.85zM6.00 192.20h11.85v1.65h-11.85zM29.70 192.20h11.85v1.65h-11.85zM41.55 192.20h11.85v1.65h-11.85zM53.40 193.85h11.85v1.65h-11.85zM6.00 195.50h11.85v1.65h-11.85zM6.00 198.80h11.85v1.65h-11.85zM29.70 198.80h11.85v1.65h-11.85zM53.40 198.80h11.85v1.65h-11.85zM6.00 200.45h11.85v1.65h-11.85zM29.70 200.45h11.85v1.65h-11.85zM41.55 200.45h11.85v1.65h-11.85zM41.55 202.10h11.85v1.65h-11.85zM53.40 202.10h11.85v1.65h-11.85zM6.00 203.75h11.85v1.65h-11.85zM17.85 203.75h11.85v1.65h-11.85zM41.55 203.75h11.85v1.65h-11.85zM6.00 205.40h11.85v1.65h-11.85zM17.85 207.05h11.85v1.65h-11.85zM29.70 208.70h11.85v1.65h-11.85zM17.85 210.35h11.85v1.65h-11.85zM29.70 210.35h11.85v1.65h-11.85zM29.70 212.00h11.85v1.65h-11.85zM6.00 213.65h11.85v1.65h-11.85zM41.55 215.30h11.85v1.65h-11.85zM29.70 216.95h11.85v1.65h-11.85zM29.70 218.60h11.85v1.65h-11.85zM53.40 218.60h11.85v1.65h-11.85zM17.85 220.25h11.85v1.65h-11.85zM29.70 220.25h11.85v1.65h-11.85zM6.00 221.90h11.85v1.65h-11.85zM53.40 221.90h11.85v1.65h-11.85zM6.00 223.55h11.85v1.65h-11.85zM41.55 225.20h11.85v1.65h-11.85zM6.00 226.85h11.85v1.65h-11.85zM29.70 226.85h11.85v1.65h-11.85zM53.40 226.85h11.85v1.65h-11.85zM6.00 228.50h11.85v1.65h-11.85zM17.85 228.50h11.85v1.65h-11.85zM29.70 228.50h11.85v1.65h-11.85zM29.70 230.15h11.85v1.65h-11.85zM6.00 233.45h11.85v1.65h-11.85zM29.70 233.45h11.85v1.65h-11.85zM6.00 238.40h11.85v1.65h-11.85zM29.70 238.40h11.85v1.65h-11.85zM41.55 238.40h11.85v1.65h-11.85zM6.00 240.05h11.85v1.65h-11.85zM17.85 240.05h11.85v1.65h-11.85zM41.55 243.35h11.85v1.65h-11.85zM53.40 243.35h11.85v1.65h-11.85zM6.00 249.95h11.85v1.65h-11.85zM17.85 249.95h11.85v1.65h-11.85zM29.70 249.95h11.85v1.65h-11.85zM17.85 251.60h11.85v1.65h-11.85zM41.55 251.60h11.85v1.65h-11.85zM29.70 254.90h11.85v1.65h-11.85zM41.55 254.90h11.85v1.65h-11.85zM17.85 258.20h11.85v1.65h-11.85zM17.85 259.85h11.85v1.65h-11.85zM29.70 261.50h11.85v1.65h-11.85zM53.40 261.50h11.85v1.65h-11.85zM17.85 264.80h11.85v1.65h-11.85zM29.70 264.80h11.85v1.65h-11.85zM53.40 264.80h11.85v1.65h-11.85zM6.00 266.45h11.85v1.65h-11.85zM41.55 266.45h11.85v1.65h-11.85zM53.40 266.45h11.85v1.65h-11.85zM17.85 268.10h11.85v1.65h-11.85zM29.70 269.75h11.85v1.65h-11.85zM53.40 269.75h11.85v1.65h-11.85zM17.85 271.40h11.85v1.65h-11.85zM29.70 271.40h11.85v1.65h-11.85zM53.40 271.40h11.85v1.65h-11.85zM6.00 273.05h11.85v1.65h-11.85zM17.85 273.05h11.85v1.65h-11.85zM17.85 274.70h11.85v1.65h-11.85zM17.85 282.95h11.85v1.65h-11.85zM29.70 282.95h11.85v1.65h-11.85zM53.40 282.95h11.85v1.65h-11.85zM29.70 284.60h11.85v1.65h-11.85zM17.85 287.90h11.85v1.65h-11.85zM29.70 289.55h11.85v1.65h-11.85zM6.00 291.20h11.85v1.65h-11.85zM17.85 292.85h11.85v1.65h-11.85zM29.70 292.85h11.85v1.65h-11.85zM6.00 294.50h11.85v1.65h-11.85zM17.85 294.50h11.85v1.65h-11.85zM29.70 294.50h11.85v1.65h-11.85zM53.40 294.50h11.85v1.65h-11.85zM6.00 296.15h11.85v1.65h-11.85zM17.85 296.15h11.85v1.65h-11.85zM6.00 297.80h11.85v1.65h-11.85zM29.70 297.80h11.85v1.65h-11.85zM53.40 297.80h11.85v1.65h-11.85zM17.85 299.45h11.85v1.65h-11.85zM53.40 299.45h11.85v1.65h-11.85zM17.85 301.10h11.85v1.65h-11.85zM29.70 301.10h11.85v1.65h-11.85zM41.55 301.10h11.85v1.65h-11.85zM6.00 302.75h11.85v1.65h-11.85zM17.85 304.40h11.85v1.65h-11.85zM29.70 304.40h11.85v1.65h-11.85zM53.40 304.40h11.85v1.65h-11.85zM41.55 306.05h11.85v1.65h-11.85zM53.40 306.05h11.85v1.65h-11.85zM29.70 307.70h11.85v1.65h-11.85zM17.85 309.35h11.85v1.65h-11.85zM29.70 311.00h11.85v1.65h-11.85zM41.55 312.65h11.85v1.65h-11.85zM29.70 314.30h11.85v1.65h-11.85zM17.85 315.95h11.85v1.65h-11.85zM53.40 315.95h11.85v1.65h-11.85zM29.70 317.60h11.85v1.65h-11.85zM6.00 319.25h11.85v1.65h-11.85zM29.70 319.25h11.85v1.65h-11.85zM17.85 322.55h11.85v1.65h-11.85zM41.55 322.55h11.85v1.65h-11.85zM6.00 325.85h11.85v1.65h-11.85zM6.00 329.15h11.85v1.65h-11.85zM17.85 329.15h11.85v1.65h-11.85zM53.40 329.15h11.85v1.65h-11.85zM17.85 330.80h11.85v1.65h-11.85zM53.40 330.80h11.85v1.65h-11.85zM17.85 332.45h11.85v1.65h-11.85zM29.70 332.45h11.85v1.65h-11.85zM41.55 332.45h11.85v1.65h-11.85zM17.85 334.10h11.85v1.65h-11.85zM29.70 334.10h11.85v1.65h-11.85zM29.70 339.05h11.85v1.65h-11.85zM6.00 340.70h11.85v1.65h-11.85zM53.40 340.70h11.85v1.65h-11.85zM53.40 344.00h11.85v1.65h-11.85zM6.00 345.65h11.85v1.65h-11.85zM29.70 345.65h11.85v1.65h-11.85zM17.85 347.30h11.85v1.65h-11.85zM29.70 347.30h11.85v1.65h-11.85zM29.70 348.95h11.85v1.65h-11.85zM29.70 352.25h11.85v1.65h-11.85zM41.55 352.25h11.85v1.65h-11.85zM53.40 352.25h11.85v1.65h-11.85zM53.40 357.20h11.85v1.65h-11.85zM17.85 358.85h11.85v1.65h-11.85zM6.00 360.50h11.85v1.65h-11.85zM53.40 360.50h11.85v1.65h-11.85zM6.00 362.15h11.85v1.65h-11.85zM17.85 362.15h11.85v1.65h-11.85zM6.00 363.80h11.85v1.65h-11.85zM6.00 368.75h11.85v1.65h-11.85zM6.00 370.40h11.85v1.65h-11.85zM53.40 370.40h11.85v1.65h-11.85zM6.00 372.05h11.85v1.65h-11.85zM6.00 373.70h11.85v1.65h-11.85zM6.00 375.35h11.85v1.65h-11.85zM88.95 383.60h11.85v1.65h-11.85zM65.25 386.90h11.85v1.65h-11.85zM65.25 391.85h11.85v1.65h-11.85zM100.80 391.85h11.85v1.65h-11.85zM88.95 393.50h11.85v1.65h-11.85zM112.65 393.50h11.85v1.65h-11.85zM65.25 398.45h11.85v1.65h-11.85zM112.65 398.45h11.85v1.65h-11.85zM88.95 400.10h11.85v1.65h-11.85zM112.65 400.10h11.85v1.65h-11.85zM65.25 401.75h11.85v1.65h-11.85zM77.10 401.75h11.85v1.65h-11.85zM88.95 401.75h11.85v1.65h-11.85zM65.25 405.05h11.85v1.65h-11.85zM65.25 406.70h11.85v1.65h-11.85zM88.95 406.70h11.85v1.65h-11.85zM112.65 406.70h11.85v1.65h-11.85zM65.25 408.35h11.85v1.65h-11.85zM65.25 411.65h11.85v1.65h-11.85zM88.95 414.95h11.85v1.65h-11.85zM65.25 416.60h11.85v1.65h-11.85zM88.95 416.60h11.85v1.65h-11.85zM112.65 416.60h11.85v1.65h-11.85zM65.25 419.90h11.85v1.65h-11.85zM88.95 421.55h11.85v1.65h-11.85zM65.25 423.20h11.85v1.65h-11.85zM112.65 423.20h11.85v1.65h-11.85zM65.25 424.85h11.85v1.65h-11.85zM65.25 426.50h11.85v1.65h-11.85zM88.95 426.50h11.85v1.65h-11.85zM65.25 428.15h11.85v1.65h-11.85zM88.95 429.80h11.85v1.65h-11.85zM65.25 434.75h11.85v1.65h-11.85zM65.25 436.40h11.85v1.65h-11.85zM88.95 439.70h11.85v1.65h-11.85zM65.25 443.00h11.85v1.65h-11.85zM88.95 443.00h11.85v1.65h-11.85zM65.25 446.30h11.85v1.65h-11.85zM65.25 449.60h11.85v1.65h-11.85zM65.25 452.90h11.85v1.65h-11.85zM88.95 452.90h11.85v1.65h-11.85zM65.25 454.55h11.85v1.65h-11.85zM88.95 454.55h11.85v1.65h-11.85zM112.65 454.55h11.85v1.65h-11.85zM112.65 456.20h11.85v1.65h-11.85zM77.10 457.85h11.85v1.65h-11.85zM112.65 457.85h11.85v1.65h-11.85zM65.25 459.50h11.85v1.65h-11.85zM112.65 461.15h11.85v1.65h-11.85zM65.25 462.80h11.85v1.65h-11.85zM77.10 462.80h11.85v1.65h-11.85zM112.65 462.80h11.85v1.65h-11.85zM88.95 464.45h11.85v1.65h-11.85zM65.25 466.10h11.85v1.65h-11.85zM65.25 467.75h11.85v1.65h-11.85zM88.95 467.75h11.85v1.65h-11.85zM65.25 471.05h11.85v1.65h-11.85zM88.95 471.05h11.85v1.65h-11.85zM65.25 472.70h11.85v1.65h-11.85zM100.80 474.35h11.85v1.65h-11.85zM112.65 474.35h11.85v1.65h-11.85zM77.10 479.30h11.85v1.65h-11.85zM88.95 480.95h11.85v1.65h-11.85zM65.25 482.60h11.85v1.65h-11.85zM77.10 484.25h11.85v1.65h-11.85zM88.95 484.25h11.85v1.65h-11.85zM88.95 485.90h11.85v1.65h-11.85zM77.10 487.55h11.85v1.65h-11.85zM88.95 487.55h11.85v1.65h-11.85zM112.65 489.20h11.85v1.65h-11.85zM88.95 490.85h11.85v1.65h-11.85zM65.25 492.50h11.85v1.65h-11.85zM88.95 494.15h11.85v1.65h-11.85zM112.65 495.80h11.85v1.65h-11.85zM65.25 497.45h11.85v1.65h-11.85zM112.65 497.45h11.85v1.65h-11.85zM65.25 499.10h11.85v1.65h-11.85zM88.95 499.10h11.85v1.65h-11.85zM88.95 502.40h11.85v1.65h-11.85zM88.95 504.05h11.85v1.65h-11.85zM112.65 504.05h11.85v1.65h-11.85zM88.95 505.70h11.85v1.65h-11.85zM65.25 507.35h11.85v1.65h-11.85zM65.25 509.00h11.85v1.65h-11.85zM112.65 509.00h11.85v1.65h-11.85zM100.80 510.65h11.85v1.65h-11.85zM88.95 513.95h11.85v1.65h-11.85zM77.10 515.60h11.85v1.65h-11.85zM88.95 515.60h11.85v1.65h-11.85zM112.65 515.60h11.85v1.65h-11.85zM88.95 518.90h11.85v1.65h-11.85zM100.80 518.90h11.85v1.65h-11.85zM65.25 520.55h11.85v1.65h-11.85zM65.25 522.20h11.85v1.65h-11.85zM112.65 522.20h11.85v1.65h-11.85zM88.95 523.85h11.85v1.65h-11.85zM65.25 525.50h11.85v1.65h-11.85zM88.95 525.50h11.85v1.65h-11.85zM100.80 525.50h11.85v1.65h-11.85zM112.65 525.50h11.85v1.65h-11.85zM65.25 527.15h11.85v1.65h-11.85zM65.25 528.80h11.85v1.65h-11.85zM88.95 528.80h11.85v1.65h-11.85zM65.25 530.45h11.85v1.65h-11.85zM88.95 530.45h11.85v1.65h-11.85zM65.25 535.40h11.85v1.65h-11.85zM88.95 537.05h11.85v1.65h-11.85zM100.80 537.05h11.85v1.65h-11.85zM65.25 538.70h11.85v1.65h-11.85zM88.95 538.70h11.85v1.65h-11.85zM65.25 540.35h11.85v1.65h-11.85zM88.95 540.35h11.85v1.65h-11.85zM65.25 542.00h11.85v1.65h-11.85zM88.95 542.00h11.85v1.65h-11.85zM88.95 543.65h11.85v1.65h-11.85zM65.25 545.30h11.85v1.65h-11.85zM77.10 545.30h11.85v1.65h-11.85zM65.25 546.95h11.85v1.65h-11.85zM88.95 546.95h11.85v1.65h-11.85zM100.80 546.95h11.85v1.65h-11.85zM65.25 550.25h11.85v1.65h-11.85zM88.95 550.25h11.85v1.65h-11.85zM112.65 550.25h11.85v1.65h-11.85zM65.25 551.90h11.85v1.65h-11.85zM65.25 553.55h11.85v1.65h-11.85zM88.95 553.55h11.85v1.65h-11.85zM88.95 555.20h11.85v1.65h-11.85zM65.25 556.85h11.85v1.65h-11.85zM88.95 556.85h11.85v1.65h-11.85zM65.25 558.50h11.85v1.65h-11.85zM112.65 558.50h11.85v1.65h-11.85zM77.10 560.15h11.85v1.65h-11.85zM100.80 560.15h11.85v1.65h-11.85zM65.25 561.80h11.85v1.65h-11.85zM88.95 563.45h11.85v1.65h-11.85zM65.25 565.10h11.85v1.65h-11.85zM65.25 566.75h11.85v1.65h-11.85zM88.95 566.75h11.85v1.65h-11.85zM65.25 568.40h11.85v1.65h-11.85zM88.95 570.05h11.85v1.65h-11.85z"/><path fill="#ff9b05" d="M6.00 80.00h11.85v1.65h-11.85zM17.85 80.00h11.85v1.65h-11.85zM41.55 80.00h11.85v1.65h-11.85zM53.40 80.00h11.85v1.65h-11.85zM29.70 81.65h11.85v1.65h-11.85zM29.70 83.30h11.85v1.65h-11.85zM41.55 83.30h11.85v1.65h-11.85zM6.00 84.95h11.85v1.65h-11.85zM17.85 84.95h11.85v1.65h-11.85zM41.55 84.95h11.85v1.65h-11.85zM53.40 84.95h11.85v1.65h-11.85zM41.55 86.60h11.85v1.65h-11.85zM29.70 88.25h11.85v1.65h-11.85zM41.55 88.25h11.85v1.65h-11.85zM17.85 89.90h11.85v1.65h-11.85zM29.70 91.55h11.85v1.65h-11.85zM29.70 93.20h11.85v1.65h-11.85zM6.00 94.85h11.85v1.65h-11.85zM29.70 94.85h11.85v1.65h-11.85zM6.00 96.50h11.85v1.65h-11.85zM17.85 96.50h11.85v1.65h-11.85zM29.70 96.50h11.85v1.65h-11.85zM29.70 98.15h11.85v1.65h-11.85zM29.70 99.80h11.85v1.65h-11.85zM53.40 99.80h11.85v1.65h-11.85zM17.85 104.75h11.85v1.65h-11.85zM29.70 104.75h11.85v1.65h-11.85zM6.00 106.40h11.85v1.65h-11.85zM17.85 106.40h11.85v1.65h-11.85zM29.70 106.40h11.85v1.65h-11.85zM53.40 106.40h11.85v1.65h-11.85zM41.55 108.05h11.85v1.65h-11.85zM17.85 109.70h11.85v1.65h-11.85zM17.85 111.35h11.85v1.65h-11.85zM53.40 111.35h11.85v1.65h-11.85zM29.70 113.00h11.85v1.65h-11.85zM41.55 113.00h11.85v1.65h-11.85zM17.85 114.65h11.85v1.65h-11.85zM17.85 116.30h11.85v1.65h-11.85zM53.40 116.30h11.85v1.65h-11.85zM17.85 117.95h11.85v1.65h-11.85zM41.55 117.95h11.85v1.65h-11.85zM53.40 117.95h11.85v1.65h-11.85zM17.85 119.60h11.85v1.65h-11.85zM41.55 121.25h11.85v1.65h-11.85zM53.40 122.90h11.85v1.65h-11.85zM6.00 124.55h11.85v1.65h-11.85zM29.70 124.55h11.85v1.65h-11.85zM53.40 124.55h11.85v1.65h-11.85zM41.55 126.20h11.85v1.65h-11.85zM53.40 126.20h11.85v1.65h-11.85zM29.70 127.85h11.85v1.65h-11.85zM41.55 127.85h11.85v1.65h-11.85zM6.00 129.50h11.85v1.65h-11.85zM29.70 129.50h11.85v1.65h-11.85zM41.55 129.50h11.85v1.65h-11.85zM53.40 129.50h11.85v1.65h-11.85zM17.85 131.15h11.85v1.65h-11.85zM53.40 131.15h11.85v1.65h-11.85zM41.55 132.80h11.85v1.65h-11.85zM6.00 134.45h11.85v1.65h-11.85zM17.85 134.45h11.85v1.65h-11.85zM29.70 134.45h11.85v1.65h-11.85zM41.55 134.45h11.85v1.65h-11.85zM17.85 136.10h11.85v1.65h-11.85zM41.55 136.10h11.85v1.65h-11.85zM41.55 137.75h11.85v1.65h-11.85zM17.85 139.40h11.85v1.65h-11.85zM53.40 139.40h11.85v1.65h-11.85zM17.85 141.05h11.85v1.65h-11.85zM41.55 141.05h11.85v1.65h-11.85zM53.40 141.05h11.85v1.65h-11.85zM29.70 142.70h11.85v1.65h-11.85zM53.40 142.70h11.85v1.65h-11.85zM6.00 144.35h11.85v1.65h-11.85zM17.85 144.35h11.85v1.65h-11.85zM41.55 144.35h11.85v1.65h-11.85zM53.40 144.35h11.85v1.65h-11.85zM29.70 146.00h11.85v1.65h-11.85zM41.55 146.00h11.85v1.65h-11.85zM41.55 147.65h11.85v1.65h-11.85zM41.55 149.30h11.85v1.65h-11.85zM53.40 149.30h11.85v1.65h-11.85zM6.00 152.60h11.85v1.65h-11.85zM17.85 152.60h11.85v1.65h-11.85zM41.55 152.60h11.85v1.65h-11.85zM41.55 154.25h11.85v1.65h-11.85zM6.00 157.55h11.85v1.65h-11.85zM17.85 157.55h11.85v1.65h-11.85zM29.70 157.55h11.85v1.65h-11.85zM29.70 159.20h11.85v1.65h-11.85zM6.00 160.85h11.85v1.65h-11.85zM17.85 160.85h11.85v1.65h-11.85zM41.55 160.85h11.85v1.65h-11.85zM53.40 160.85h11.85v1.65h-11.85zM6.00 164.15h11.85v1.65h-11.85zM17.85 164.15h11.85v1.65h-11.85zM53.40 164.15h11.85v1.65h-11.85zM6.00 165.80h11.85v1.65h-11.85zM17.85 165.80h11.85v1.65h-11.85zM41.55 167.45h11.85v1.65h-11.85zM6.00 169.10h11.85v1.65h-11.85zM17.85 169.10h11.85v1.65h-11.85zM41.55 169.10h11.85v1.65h-11.85zM53.40 169.10h11.85v1.65h-11.85zM41.55 170.75h11.85v1.65h-11.85zM53.40 170.75h11.85v1.65h-11.85zM17.85 174.05h11.85v1.65h-11.85zM29.70 174.05h11.85v1.65h-11.85zM41.55 174.05h11.85v1.65h-11.85zM53.40 174.05h11.85v1.65h-11.85zM29.70 175.70h11.85v1.65h-11.85zM17.85 179.00h11.85v1.65h-11.85zM41.55 179.00h11.85v1.65h-11.85zM6.00 182.30h11.85v1.65h-11.85zM17.85 183.95h11.85v1.65h-11.85zM53.40 183.95h11.85v1.65h-11.85zM29.70 185.60h11.85v1.65h-11.85zM53.40 185.60h11.85v1.65h-11.85zM6.00 187.25h11.85v1.65h-11.85zM53.40 187.25h11.85v1.65h-11.85zM6.00 188.90h11.85v1.65h-11.85zM29.70 188.90h11.85v1.65h-11.85zM6.00 190.55h11.85v1.65h-11.85zM29.70 190.55h11.85v1.65h-11.85zM53.40 190.55h11.85v1.65h-11.85zM6.00 193.85h11.85v1.65h-11.85zM29.70 193.85h11.85v1.65h-11.85zM17.85 195.50h11.85v1.65h-11.85zM41.55 195.50h11.85v1.65h-11.85zM17.85 197.15h11.85v1.65h-11.85zM41.55 197.15h11.85v1.65h-11.85zM53.40 197.15h11.85v1.65h-11.85zM41.55 198.80h11.85v1.65h-11.85zM17.85 200.45h11.85v1.65h-11.85zM53.40 200.45h11.85v1.65h-11.85zM29.70 203.75h11.85v1.65h-11.85zM53.40 203.75h11.85v1.65h-11.85zM17.85 205.40h11.85v1.65h-11.85zM29.70 205.40h11.85v1.65h-11.85zM6.00 207.05h11.85v1.65h-11.85zM29.70 207.05h11.85v1.65h-11.85zM41.55 207.05h11.85v1.65h-11.85zM6.00 208.70h11.85v1.65h-11.85zM53.40 208.70h11.85v1.65h-11.85zM53.40 210.35h11.85v1.65h-11.85zM6.00 212.00h11.85v1.65h-11.85zM17.85 212.00h11.85v1.65h-11.85zM41.55 212.00h11.85v1.65h-11.85zM17.85 213.65h11.85v1.65h-11.85zM29.70 213.65h11.85v1.65h-11.85zM53.40 213.65h11.85v1.65h-11.85zM6.00 215.30h11.85v1.65h-11.85zM53.40 215.30h11.85v1.65h-11.85zM6.00 218.60h11.85v1.65h-11.85zM17.85 218.60h11.85v1.65h-11.85zM41.55 220.25h11.85v1.65h-11.85zM29.70 221.90h11.85v1.65h-11.85zM41.55 221.90h11.85v1.65h-11.85zM53.40 223.55h11.85v1.65h-11.85zM29.70 225.20h11.85v1.65h-11.85zM53.40 225.20h11.85v1.65h-11.85zM41.55 226.85h11.85v1.65h-11.85zM41.55 228.50h11.85v1.65h-11.85zM53.40 230.15h11.85v1.65h-11.85zM29.70 231.80h11.85v1.65h-11.85zM41.55 231.80h11.85v1.65h-11.85zM53.40 231.80h11.85v1.65h-11.85zM17.85 233.45h11.85v1.65h-11.85zM41.55 233.45h11.85v1.65h-11.85zM53.40 233.45h11.85v1.65h-11.85zM29.70 235.10h11.85v1.65h-11.85zM41.55 235.10h11.85v1.65h-11.85zM53.40 235.10h11.85v1.65h-11.85zM6.00 236.75h11.85v1.65h-11.85zM17.85 236.75h11.85v1.65h-11.85zM17.85 238.40h11.85v1.65h-11.85zM41.55 240.05h11.85v1.65h-11.85zM53.40 240.05h11.85v1.65h-11.85zM6.00 241.70h11.85v1.65h-11.85zM17.85 241.70h11.85v1.65h-11.85zM41.55 241.70h11.85v1.65h-11.85zM53.40 241.70h11.85v1.65h-11.85zM41.55 245.00h11.85v1.65h-11.85zM17.85 246.65h11.85v1.65h-11.85zM29.70 246.65h11.85v1.65h-11.85zM41.55 246.65h11.85v1.65h-11.85zM53.40 246.65h11.85v1.65h-11.85zM6.00 248.30h11.85v1.65h-11.85zM29.70 248.30h11.85v1.65h-11.85zM41.55 248.30h11.85v1.65h-11.85zM41.55 249.95h11.85v1.65h-11.85zM53.40 251.60h11.85v1.65h-11.85zM6.00 253.25h11.85v1.65h-11.85zM29.70 253.25h11.85v1.65h-11.85zM41.55 253.25h11.85v1.65h-11.85zM29.70 256.55h11.85v1.65h-11.85zM53.40 258.20h11.85v1.65h-11.85zM29.70 259.85h11.85v1.65h-11.85zM53.40 259.85h11.85v1.65h-11.85zM17.85 261.50h11.85v1.65h-11.85zM41.55 261.50h11.85v1.65h-11.85zM6.00 263.15h11.85v1.65h-11.85zM6.00 264.80h11.85v1.65h-11.85zM41.55 264.80h11.85v1.65h-11.85zM6.00 268.10h11.85v1.65h-11.85zM53.40 268.10h11.85v1.65h-11.85zM17.85 269.75h11.85v1.65h-11.85zM41.55 269.75h11.85v1.65h-11.85zM6.00 271.40h11.85v1.65h-11.85zM6.00 274.70h11.85v1.65h-11.85zM53.40 274.70h11.85v1.65h-11.85zM17.85 276.35h11.85v1.65h-11.85zM17.85 278.00h11.85v1.65h-11.85zM29.70 278.00h11.85v1.65h-11.85zM53.40 278.00h11.85v1.65h-11.85zM6.00 279.65h11.85v1.65h-11.85zM17.85 279.65h11.85v1.65h-11.85zM53.40 279.65h11.85v1.65h-11.85zM17.85 281.30h11.85v1.65h-11.85zM6.00 282.95h11.85v1.65h-11.85zM41.55 282.95h11.85v1.65h-11.85zM17.85 284.60h11.85v1.65h-11.85zM53.40 284.60h11.85v1.65h-11.85zM6.00 286.25h11.85v1.65h-11.85zM17.85 286.25h11.85v1.65h-11.85zM41.55 286.25h11.85v1.65h-11.85zM29.70 287.90h11.85v1.65h-11.85zM17.85 289.55h11.85v1.65h-11.85zM53.40 289.55h11.85v1.65h-11.85zM17.85 291.20h11.85v1.65h-11.85zM29.70 291.20h11.85v1.65h-11.85zM53.40 292.85h11.85v1.65h-11.85zM41.55 296.15h11.85v1.65h-11.85zM41.55 297.80h11.85v1.65h-11.85zM29.70 299.45h11.85v1.65h-11.85zM17.85 302.75h11.85v1.65h-11.85zM41.55 304.40h11.85v1.65h-11.85zM6.00 307.70h11.85v1.65h-11.85zM41.55 307.70h11.85v1.65h-11.85zM53.40 307.70h11.85v1.65h-11.85zM41.55 309.35h11.85v1.65h-11.85zM17.85 311.00h11.85v1.65h-11.85zM29.70 312.65h11.85v1.65h-11.85zM17.85 314.30h11.85v1.65h-11.85zM41.55 314.30h11.85v1.65h-11.85zM53.40 314.30h11.85v1.65h-11.85zM6.00 317.60h11.85v1.65h-11.85zM53.40 317.60h11.85v1.65h-11.85zM17.85 319.25h11.85v1.65h-11.85zM41.55 319.25h11.85v1.65h-11.85zM53.40 319.25h11.85v1.65h-11.85zM53.40 320.90h11.85v1.65h-11.85zM6.00 324.20h11.85v1.65h-11.85zM29.70 324.20h11.85v1.65h-11.85zM53.40 325.85h11.85v1.65h-11.85zM6.00 327.50h11.85v1.65h-11.85zM17.85 327.50h11.85v1.65h-11.85zM29.70 327.50h11.85v1.65h-11.85zM6.00 330.80h11.85v1.65h-11.85zM6.00 332.45h11.85v1.65h-11.85zM53.40 332.45h11.85v1.65h-11.85zM6.00 334.10h11.85v1.65h-11.85zM53.40 334.10h11.85v1.65h-11.85zM6.00 335.75h11.85v1.65h-11.85zM17.85 335.75h11.85v1.65h-11.85zM41.55 335.75h11.85v1.65h-11.85zM17.85 337.40h11.85v1.65h-11.85zM41.55 337.40h11.85v1.65h-11.85zM6.00 339.05h11.85v1.65h-11.85zM17.85 339.05h11.85v1.65h-11.85zM53.40 339.05h11.85v1.65h-11.85zM17.85 340.70h11.85v1.65h-11.85zM6.00 342.35h11.85v1.65h-11.85zM17.85 342.35h11.85v1.65h-11.85zM41.55 342.35h11.85v1.65h-11.85zM41.55 344.00h11.85v1.65h-11.85zM17.85 345.65h11.85v1.65h-11.85zM41.55 347.30h11.85v1.65h-11.85zM6.00 348.95h11.85v1.65h-11.85zM53.40 348.95h11.85v1.65h-11.85zM53.40 350.60h11.85v1.65h-11.85zM17.85 352.25h11.85v1.65h-11.85zM6.00 357.20h11.85v1.65h-11.85zM41.55 357.20h11.85v1.65h-11.85zM6.00 358.85h11.85v1.65h-11.85zM29.70 358.85h11.85v1.65h-11.85zM53.40 358.85h11.85v1.65h-11.85zM17.85 360.50h11.85v1.65h-11.85zM41.55 360.50h11.85v1.65h-11.85zM29.70 362.15h11.85v1.65h-11.85zM41.55 362.15h11.85v1.65h-11.85zM53.40 362.15h11.85v1.65h-11.85zM53.40 363.80h11.85v1.65h-11.85zM6.00 365.45h11.85v1.65h-11.85zM29.70 365.45h11.85v1.65h-11.85zM17.85 367.10h11.85v1.65h-11.85zM41.55 367.10h11.85v1.65h-11.85zM17.85 368.75h11.85v1.65h-11.85zM29.70 368.75h11.85v1.65h-11.85zM53.40 368.75h11.85v1.65h-11.85zM29.70 370.40h11.85v1.65h-11.85zM41.55 370.40h11.85v1.65h-11.85zM17.85 372.05h11.85v1.65h-11.85zM29.70 372.05h11.85v1.65h-11.85zM53.40 372.05h11.85v1.65h-11.85zM41.55 373.70h11.85v1.65h-11.85zM17.85 375.35h11.85v1.65h-11.85zM53.40 375.35h11.85v1.65h-11.85zM6.00 377.00h11.85v1.65h-11.85zM17.85 378.65h11.85v1.65h-11.85zM41.55 378.65h11.85v1.65h-11.85zM88.95 380.30h11.85v1.65h-11.85zM112.65 380.30h11.85v1.65h-11.85zM88.95 381.95h11.85v1.65h-11.85zM65.25 383.60h11.85v1.65h-11.85zM77.10 383.60h11.85v1.65h-11.85zM112.65 383.60h11.85v1.65h-11.85zM65.25 385.25h11.85v1.65h-11.85zM88.95 386.90h11.85v1.65h-11.85zM65.25 388.55h11.85v1.65h-11.85zM88.95 388.55h11.85v1.65h-11.85zM112.65 388.55h11.85v1.65h-11.85zM65.25 390.20h11.85v1.65h-11.85zM77.10 390.20h11.85v1.65h-11.85zM88.95 390.20h11.85v1.65h-11.85zM100.80 390.20h11.85v1.65h-11.85zM112.65 390.20h11.85v1.65h-11.85zM112.65 391.85h11.85v1.65h-11.85zM100.80 393.50h11.85v1.65h-11.85zM65.25 395.15h11.85v1.65h-11.85zM88.95 395.15h11.85v1.65h-11.85zM65.25 396.80h11.85v1.65h-11.85zM112.65 396.80h11.85v1.65h-11.85zM77.10 398.45h11.85v1.65h-11.85zM88.95 398.45h11.85v1.65h-11.85zM65.25 400.10h11.85v1.65h-11.85zM112.65 401.75h11.85v1.65h-11.85zM77.10 403.40h11.85v1.65h-11.85zM77.10 405.05h11.85v1.65h-11.85zM112.65 405.05h11.85v1.65h-11.85zM77.10 406.70h11.85v1.65h-11.85zM100.80 406.70h11.85v1.65h-11.85zM88.95 408.35h11.85v1.65h-11.85zM112.65 408.35h11.85v1.65h-11.85zM65.25 410.00h11.85v1.65h-11.85zM88.95 410.00h11.85v1.65h-11.85zM112.65 410.00h11.85v1.65h-11.85zM77.10 411.65h11.85v1.65h-11.85zM88.95 411.65h11.85v1.65h-11.85zM112.65 411.65h11.85v1.65h-11.85zM65.25 413.30h11.85v1.65h-11.85zM77.10 413.30h11.85v1.65h-11.85zM112.65 413.30h11.85v1.65h-11.85zM65.25 414.95h11.85v1.65h-11.85zM100.80 414.95h11.85v1.65h-11.85zM100.80 416.60h11.85v1.65h-11.85zM65.25 418.25h11.85v1.65h-11.85zM88.95 418.25h11.85v1.65h-11.85zM112.65 418.25h11.85v1.65h-11.85zM112.65 419.90h11.85v1.65h-11.85zM77.10 421.55h11.85v1.65h-11.85zM112.65 421.55h11.85v1.65h-11.85zM88.95 423.20h11.85v1.65h-11.85zM88.95 424.85h11.85v1.65h-11.85zM88.95 428.15h11.85v1.65h-11.85zM65.25 429.80h11.85v1.65h-11.85zM77.10 429.80h11.85v1.65h-11.85zM65.25 431.45h11.85v1.65h-11.85zM88.95 433.10h11.85v1.65h-11.85zM88.95 434.75h11.85v1.65h-11.85zM88.95 436.40h11.85v1.65h-11.85zM65.25 438.05h11.85v1.65h-11.85zM77.10 438.05h11.85v1.65h-11.85zM88.95 438.05h11.85v1.65h-11.85zM112.65 438.05h11.85v1.65h-11.85zM65.25 439.70h11.85v1.65h-11.85zM88.95 441.35h11.85v1.65h-11.85zM100.80 441.35h11.85v1.65h-11.85zM112.65 441.35h11.85v1.65h-11.85zM65.25 444.65h11.85v1.65h-11.85zM88.95 444.65h11.85v1.65h-11.85zM88.95 446.30h11.85v1.65h-11.85zM65.25 447.95h11.85v1.65h-11.85zM77.10 447.95h11.85v1.65h-11.85zM88.95 447.95h11.85v1.65h-11.85zM112.65 447.95h11.85v1.65h-11.85zM65.25 451.25h11.85v1.65h-11.85zM100.80 451.25h11.85v1.65h-11.85zM112.65 451.25h11.85v1.65h-11.85zM100.80 452.90h11.85v1.65h-11.85zM77.10 454.55h11.85v1.65h-11.85zM100.80 454.55h11.85v1.65h-11.85zM77.10 456.20h11.85v1.65h-11.85zM88.95 456.20h11.85v1.65h-11.85zM65.25 457.85h11.85v1.65h-11.85zM100.80 457.85h11.85v1.65h-11.85zM100.80 459.50h11.85v1.65h-11.85zM77.10 461.15h11.85v1.65h-11.85zM88.95 461.15h11.85v1.65h-11.85zM88.95 462.80h11.85v1.65h-11.85zM65.25 464.45h11.85v1.65h-11.85zM88.95 466.10h11.85v1.65h-11.85zM112.65 466.10h11.85v1.65h-11.85zM77.10 467.75h11.85v1.65h-11.85zM112.65 467.75h11.85v1.65h-11.85zM65.25 469.40h11.85v1.65h-11.85zM77.10 469.40h11.85v1.65h-11.85zM88.95 469.40h11.85v1.65h-11.85zM100.80 469.40h11.85v1.65h-11.85zM112.65 469.40h11.85v1.65h-11.85zM112.65 471.05h11.85v1.65h-11.85zM77.10 472.70h11.85v1.65h-11.85zM88.95 472.70h11.85v1.65h-11.85zM112.65 472.70h11.85v1.65h-11.85zM88.95 474.35h11.85v1.65h-11.85zM65.25 476.00h11.85v1.65h-11.85zM88.95 476.00h11.85v1.65h-11.85zM112.65 476.00h11.85v1.65h-11.85zM88.95 477.65h11.85v1.65h-11.85zM100.80 477.65h11.85v1.65h-11.85zM100.80 479.30h11.85v1.65h-11.85zM112.65 479.30h11.85v1.65h-11.85zM65.25 480.95h11.85v1.65h-11.85zM77.10 480.95h11.85v1.65h-11.85zM100.80 480.95h11.85v1.65h-11.85zM112.65 480.95h11.85v1.65h-11.85zM77.10 482.60h11.85v1.65h-11.85zM112.65 482.60h11.85v1.65h-11.85zM65.25 484.25h11.85v1.65h-11.85zM112.65 484.25h11.85v1.65h-11.85zM77.10 485.90h11.85v1.65h-11.85zM112.65 487.55h11.85v1.65h-11.85zM77.10 489.20h11.85v1.65h-11.85zM100.80 489.20h11.85v1.65h-11.85zM65.25 490.85h11.85v1.65h-11.85zM77.10 490.85h11.85v1.65h-11.85zM112.65 490.85h11.85v1.65h-11.85zM65.25 494.15h11.85v1.65h-11.85zM77.10 494.15h11.85v1.65h-11.85zM100.80 494.15h11.85v1.65h-11.85zM112.65 494.15h11.85v1.65h-11.85zM77.10 495.80h11.85v1.65h-11.85zM88.95 495.80h11.85v1.65h-11.85zM77.10 497.45h11.85v1.65h-11.85zM100.80 497.45h11.85v1.65h-11.85zM100.80 499.10h11.85v1.65h-11.85zM112.65 499.10h11.85v1.65h-11.85zM77.10 500.75h11.85v1.65h-11.85zM88.95 500.75h11.85v1.65h-11.85zM112.65 500.75h11.85v1.65h-11.85zM77.10 502.40h11.85v1.65h-11.85zM100.80 502.40h11.85v1.65h-11.85zM112.65 502.40h11.85v1.65h-11.85zM77.10 504.05h11.85v1.65h-11.85zM65.25 505.70h11.85v1.65h-11.85zM77.10 505.70h11.85v1.65h-11.85zM100.80 505.70h11.85v1.65h-11.85zM112.65 505.70h11.85v1.65h-11.85zM88.95 507.35h11.85v1.65h-11.85zM100.80 507.35h11.85v1.65h-11.85zM77.10 509.00h11.85v1.65h-11.85zM88.95 509.00h11.85v1.65h-11.85zM100.80 509.00h11.85v1.65h-11.85zM65.25 510.65h11.85v1.65h-11.85zM88.95 510.65h11.85v1.65h-11.85zM65.25 512.30h11.85v1.65h-11.85zM88.95 512.30h11.85v1.65h-11.85zM100.80 512.30h11.85v1.65h-11.85zM112.65 512.30h11.85v1.65h-11.85zM65.25 513.95h11.85v1.65h-11.85zM65.25 517.25h11.85v1.65h-11.85zM112.65 517.25h11.85v1.65h-11.85zM112.65 518.90h11.85v1.65h-11.85zM77.10 520.55h11.85v1.65h-11.85zM88.95 520.55h11.85v1.65h-11.85zM112.65 520.55h11.85v1.65h-11.85zM88.95 522.20h11.85v1.65h-11.85zM100.80 523.85h11.85v1.65h-11.85zM112.65 523.85h11.85v1.65h-11.85zM77.10 525.50h11.85v1.65h-11.85zM88.95 527.15h11.85v1.65h-11.85zM100.80 527.15h11.85v1.65h-11.85zM112.65 527.15h11.85v1.65h-11.85zM112.65 528.80h11.85v1.65h-11.85zM77.10 530.45h11.85v1.65h-11.85zM100.80 530.45h11.85v1.65h-11.85zM65.25 532.10h11.85v1.65h-11.85zM88.95 532.10h11.85v1.65h-11.85zM100.80 532.10h11.85v1.65h-11.85zM112.65 532.10h11.85v1.65h-11.85zM77.10 533.75h11.85v1.65h-11.85zM88.95 533.75h11.85v1.65h-11.85zM100.80 533.75h11.85v1.65h-11.85zM77.10 535.40h11.85v1.65h-11.85zM100.80 535.40h11.85v1.65h-11.85zM112.65 535.40h11.85v1.65h-11.85zM77.10 537.05h11.85v1.65h-11.85zM77.10 538.70h11.85v1.65h-11.85zM100.80 538.70h11.85v1.65h-11.85zM100.80 540.35h11.85v1.65h-11.85zM112.65 540.35h11.85v1.65h-11.85zM77.10 542.00h11.85v1.65h-11.85zM100.80 542.00h11.85v1.65h-11.85zM112.65 542.00h11.85v1.65h-11.85zM65.25 543.65h11.85v1.65h-11.85zM100.80 543.65h11.85v1.65h-11.85zM112.65 543.65h11.85v1.65h-11.85zM112.65 545.30h11.85v1.65h-11.85zM77.10 546.95h11.85v1.65h-11.85zM112.65 546.95h11.85v1.65h-11.85zM65.25 548.60h11.85v1.65h-11.85zM77.10 548.60h11.85v1.65h-11.85zM112.65 548.60h11.85v1.65h-11.85zM77.10 550.25h11.85v1.65h-11.85zM77.10 551.90h11.85v1.65h-11.85zM112.65 551.90h11.85v1.65h-11.85zM77.10 553.55h11.85v1.65h-11.85zM100.80 553.55h11.85v1.65h-11.85zM112.65 553.55h11.85v1.65h-11.85zM77.10 555.20h11.85v1.65h-11.85zM77.10 556.85h11.85v1.65h-11.85zM100.80 556.85h11.85v1.65h-11.85zM112.65 556.85h11.85v1.65h-11.85zM77.10 558.50h11.85v1.65h-11.85zM100.80 558.50h11.85v1.65h-11.85zM88.95 560.15h11.85v1.65h-11.85zM112.65 560.15h11.85v1.65h-11.85zM77.10 561.80h11.85v1.65h-11.85zM100.80 561.80h11.85v1.65h-11.85zM77.10 563.45h11.85v1.65h-11.85zM100.80 563.45h11.85v1.65h-11.85zM112.65 563.45h11.85v1.65h-11.85zM77.10 565.10h11.85v1.65h-11.85zM112.65 566.75h11.85v1.65h-11.85zM88.95 568.40h11.85v1.65h-11.85zM112.65 568.40h11.85v1.65h-11.85zM100.80 570.05h11.85v1.65h-11.85zM112.65 570.05h11.85v1.65h-11.85zM77.10 571.70h11.85v0.30h-11.85zM88.95 571.70h11.85v0.30h-11.85zM112.65 571.70h11.85v0.30h-11.85z"/><path fill="#ff6e08" d="M17.85 81.65h11.85v1.65h-11.85zM41.55 81.65h11.85v1.65h-11.85zM17.85 83.30h11.85v1.65h-11.85zM6.00 86.60h11.85v1.65h-11.85zM6.00 88.25h11.85v1.65h-11.85zM17.85 88.25h11.85v1.65h-11.85zM53.40 88.25h11.85v1.65h-11.85zM29.70 89.90h11.85v1.65h-11.85zM53.40 89.90h11.85v1.65h-11.85zM6.00 91.55h11.85v1.65h-11.85zM17.85 91.55h11.85v1.65h-11.85zM41.55 91.55h11.85v1.65h-11.85zM6.00 93.20h11.85v1.65h-11.85zM17.85 94.85h11.85v1.65h-11.85zM41.55 94.85h11.85v1.65h-11.85zM41.55 96.50h11.85v1.65h-11.85zM53.40 96.50h11.85v1.65h-11.85zM6.00 98.15h11.85v1.65h-11.85zM17.85 98.15h11.85v1.65h-11.85zM41.55 98.15h11.85v1.65h-11.85zM53.40 98.15h11.85v1.65h-11.85zM6.00 99.80h11.85v1.65h-11.85zM41.55 99.80h11.85v1.65h-11.85zM41.55 104.75h11.85v1.65h-11.85zM53.40 104.75h11.85v1.65h-11.85zM41.55 106.40h11.85v1.65h-11.85zM41.55 109.70h11.85v1.65h-11.85zM6.00 111.35h11.85v1.65h-11.85zM6.00 113.00h11.85v1.65h-11.85zM53.40 113.00h11.85v1.65h-11.85zM6.00 116.30h11.85v1.65h-11.85zM29.70 116.30h11.85v1.65h-11.85zM29.70 117.95h11.85v1.65h-11.85zM41.55 122.90h11.85v1.65h-11.85zM17.85 126.20h11.85v1.65h-11.85zM17.85 129.50h11.85v1.65h-11.85zM29.70 131.15h11.85v1.65h-11.85zM41.55 131.15h11.85v1.65h-11.85zM6.00 132.80h11.85v1.65h-11.85zM29.70 132.80h11.85v1.65h-11.85zM53.40 132.80h11.85v1.65h-11.85zM41.55 139.40h11.85v1.65h-11.85zM41.55 142.70h11.85v1.65h-11.85zM6.00 159.20h11.85v1.65h-11.85zM17.85 159.20h11.85v1.65h-11.85zM41.55 159.20h11.85v1.65h-11.85zM17.85 162.50h11.85v1.65h-11.85zM41.55 162.50h11.85v1.65h-11.85zM29.70 164.15h11.85v1.65h-11.85zM17.85 175.70h11.85v1.65h-11.85zM41.55 175.70h11.85v1.65h-11.85zM53.40 179.00h11.85v1.65h-11.85zM17.85 182.30h11.85v1.65h-11.85zM41.55 182.30h11.85v1.65h-11.85zM53.40 182.30h11.85v1.65h-11.85zM41.55 185.60h11.85v1.65h-11.85zM17.85 187.25h11.85v1.65h-11.85zM29.70 187.25h11.85v1.65h-11.85zM17.85 188.90h11.85v1.65h-11.85zM17.85 190.55h11.85v1.65h-11.85zM41.55 190.55h11.85v1.65h-11.85zM17.85 192.20h11.85v1.65h-11.85zM53.40 192.20h11.85v1.65h-11.85zM17.85 193.85h11.85v1.65h-11.85zM41.55 193.85h11.85v1.65h-11.85zM53.40 195.50h11.85v1.65h-11.85zM6.00 197.15h11.85v1.65h-11.85zM29.70 197.15h11.85v1.65h-11.85zM6.00 202.10h11.85v1.65h-11.85zM17.85 202.10h11.85v1.65h-11.85zM41.55 205.40h11.85v1.65h-11.85zM53.40 205.40h11.85v1.65h-11.85zM17.85 208.70h11.85v1.65h-11.85zM41.55 208.70h11.85v1.65h-11.85zM41.55 210.35h11.85v1.65h-11.85zM53.40 212.00h11.85v1.65h-11.85zM17.85 215.30h11.85v1.65h-11.85zM17.85 216.95h11.85v1.65h-11.85zM41.55 216.95h11.85v1.65h-11.85zM53.40 216.95h11.85v1.65h-11.85zM53.40 220.25h11.85v1.65h-11.85zM29.70 223.55h11.85v1.65h-11.85zM41.55 223.55h11.85v1.65h-11.85zM6.00 230.15h11.85v1.65h-11.85zM17.85 231.80h11.85v1.65h-11.85zM6.00 235.10h11.85v1.65h-11.85zM17.85 235.10h11.85v1.65h-11.85zM29.70 236.75h11.85v1.65h-11.85zM41.55 236.75h11.85v1.65h-11.85zM29.70 241.70h11.85v1.65h-11.85zM6.00 243.35h11.85v1.65h-11.85zM17.85 243.35h11.85v1.65h-11.85zM29.70 243.35h11.85v1.65h-11.85zM17.85 245.00h11.85v1.65h-11.85zM53.40 245.00h11.85v1.65h-11.85zM6.00 246.65h11.85v1.65h-11.85zM17.85 248.30h11.85v1.65h-11.85zM53.40 253.25h11.85v1.65h-11.85zM17.85 256.55h11.85v1.65h-11.85zM41.55 256.55h11.85v1.65h-11.85zM41.55 258.20h11.85v1.65h-11.85zM41.55 259.85h11.85v1.65h-11.85zM17.85 263.15h11.85v1.65h-11.85zM29.70 263.15h11.85v1.65h-11.85zM41.55 263.15h11.85v1.65h-11.85zM53.40 263.15h11.85v1.65h-11.85zM41.55 268.10h11.85v1.65h-11.85zM29.70 273.05h11.85v1.65h-11.85zM53.40 273.05h11.85v1.65h-11.85zM41.55 274.70h11.85v1.65h-11.85zM6.00 276.35h11.85v1.65h-11.85zM29.70 276.35h11.85v1.65h-11.85zM53.40 276.35h11.85v1.65h-11.85zM6.00 278.00h11.85v1.65h-11.85zM41.55 278.00h11.85v1.65h-11.85zM41.55 279.65h11.85v1.65h-11.85zM41.55 281.30h11.85v1.65h-11.85zM6.00 284.60h11.85v1.65h-11.85zM6.00 287.90h11.85v1.65h-11.85zM41.55 289.55h11.85v1.65h-11.85zM41.55 291.20h11.85v1.65h-11.85zM6.00 292.85h11.85v1.65h-11.85zM41.55 292.85h11.85v1.65h-11.85zM29.70 296.15h11.85v1.65h-11.85zM6.00 299.45h11.85v1.65h-11.85zM6.00 301.10h11.85v1.65h-11.85zM53.40 301.10h11.85v1.65h-11.85zM41.55 302.75h11.85v1.65h-11.85zM17.85 306.05h11.85v1.65h-11.85zM41.55 311.00h11.85v1.65h-11.85zM41.55 315.95h11.85v1.65h-11.85zM17.85 317.60h11.85v1.65h-11.85zM6.00 320.90h11.85v1.65h-11.85zM17.85 320.90h11.85v1.65h-11.85zM29.70 320.90h11.85v1.65h-11.85zM17.85 324.20h11.85v1.65h-11.85zM41.55 324.20h11.85v1.65h-11.85zM17.85 325.85h11.85v1.65h-11.85zM29.70 325.85h11.85v1.65h-11.85zM41.55 329.15h11.85v1.65h-11.85zM29.70 330.80h11.85v1.65h-11.85zM41.55 334.10h11.85v1.65h-11.85zM53.40 335.75h11.85v1.65h-11.85zM6.00 337.40h11.85v1.65h-11.85zM29.70 337.40h11.85v1.65h-11.85zM53.40 337.40h11.85v1.65h-11.85zM41.55 339.05h11.85v1.65h-11.85zM17.85 344.00h11.85v1.65h-11.85zM41.55 345.65h11.85v1.65h-11.85zM53.40 345.65h11.85v1.65h-11.85zM17.85 348.95h11.85v1.65h-11.85zM41.55 348.95h11.85v1.65h-11.85zM6.00 350.60h11.85v1.65h-11.85zM17.85 353.90h11.85v1.65h-11.85zM29.70 353.90h11.85v1.65h-11.85zM53.40 353.90h11.85v1.65h-11.85zM53.40 355.55h11.85v1.65h-11.85zM17.85 357.20h11.85v1.65h-11.85zM41.55 358.85h11.85v1.65h-11.85zM29.70 360.50h11.85v1.65h-11.85zM17.85 363.80h11.85v1.65h-11.85zM41.55 363.80h11.85v1.65h-11.85zM17.85 365.45h11.85v1.65h-11.85zM29.70 367.10h11.85v1.65h-11.85zM53.40 367.10h11.85v1.65h-11.85zM41.55 368.75h11.85v1.65h-11.85zM17.85 370.40h11.85v1.65h-11.85zM41.55 372.05h11.85v1.65h-11.85zM17.85 373.70h11.85v1.65h-11.85zM53.40 373.70h11.85v1.65h-11.85zM41.55 375.35h11.85v1.65h-11.85zM17.85 377.00h11.85v1.65h-11.85zM41.55 377.00h11.85v1.65h-11.85zM53.40 377.00h11.85v1.65h-11.85zM6.00 378.65h11.85v1.65h-11.85zM29.70 378.65h11.85v1.65h-11.85zM53.40 378.65h11.85v1.65h-11.85zM77.10 380.30h11.85v1.65h-11.85zM100.80 380.30h11.85v1.65h-11.85zM65.25 381.95h11.85v1.65h-11.85zM77.10 381.95h11.85v1.65h-11.85zM112.65 381.95h11.85v1.65h-11.85zM100.80 383.60h11.85v1.65h-11.85zM88.95 385.25h11.85v1.65h-11.85zM100.80 385.25h11.85v1.65h-11.85zM112.65 385.25h11.85v1.65h-11.85zM112.65 386.90h11.85v1.65h-11.85zM77.10 391.85h11.85v1.65h-11.85zM77.10 393.50h11.85v1.65h-11.85zM112.65 395.15h11.85v1.65h-11.85zM77.10 396.80h11.85v1.65h-11.85zM100.80 398.45h11.85v1.65h-11.85zM77.10 400.10h11.85v1.65h-11.85zM100.80 400.10h11.85v1.65h-11.85zM100.80 401.75h11.85v1.65h-11.85zM65.25 403.40h11.85v1.65h-11.85zM88.95 403.40h11.85v1.65h-11.85zM100.80 403.40h11.85v1.65h-11.85zM112.65 403.40h11.85v1.65h-11.85zM100.80 405.05h11.85v1.65h-11.85zM77.10 408.35h11.85v1.65h-11.85zM100.80 408.35h11.85v1.65h-11.85zM77.10 410.00h11.85v1.65h-11.85zM100.80 410.00h11.85v1.65h-11.85zM77.10 414.95h11.85v1.65h-11.85zM112.65 414.95h11.85v1.65h-11.85zM77.10 416.60h11.85v1.65h-11.85zM77.10 418.25h11.85v1.65h-11.85zM100.80 418.25h11.85v1.65h-11.85zM77.10 419.90h11.85v1.65h-11.85zM100.80 419.90h11.85v1.65h-11.85zM65.25 421.55h11.85v1.65h-11.85zM100.80 421.55h11.85v1.65h-11.85zM77.10 423.20h11.85v1.65h-11.85zM100.80 423.20h11.85v1.65h-11.85zM77.10 424.85h11.85v1.65h-11.85zM112.65 424.85h11.85v1.65h-11.85zM77.10 426.50h11.85v1.65h-11.85zM100.80 426.50h11.85v1.65h-11.85zM112.65 426.50h11.85v1.65h-11.85zM112.65 428.15h11.85v1.65h-11.85zM100.80 429.80h11.85v1.65h-11.85zM112.65 429.80h11.85v1.65h-11.85zM77.10 431.45h11.85v1.65h-11.85zM88.95 431.45h11.85v1.65h-11.85zM112.65 431.45h11.85v1.65h-11.85zM77.10 433.10h11.85v1.65h-11.85zM100.80 433.10h11.85v1.65h-11.85zM112.65 433.10h11.85v1.65h-11.85zM100.80 434.75h11.85v1.65h-11.85zM112.65 434.75h11.85v1.65h-11.85zM77.10 436.40h11.85v1.65h-11.85zM100.80 436.40h11.85v1.65h-11.85zM112.65 436.40h11.85v1.65h-11.85zM100.80 438.05h11.85v1.65h-11.85zM77.10 439.70h11.85v1.65h-11.85zM100.80 439.70h11.85v1.65h-11.85zM112.65 439.70h11.85v1.65h-11.85zM77.10 441.35h11.85v1.65h-11.85zM100.80 443.00h11.85v1.65h-11.85zM112.65 443.00h11.85v1.65h-11.85zM77.10 444.65h11.85v1.65h-11.85zM112.65 444.65h11.85v1.65h-11.85zM100.80 446.30h11.85v1.65h-11.85zM100.80 447.95h11.85v1.65h-11.85zM88.95 449.60h11.85v1.65h-11.85zM100.80 449.60h11.85v1.65h-11.85zM112.65 449.60h11.85v1.65h-11.85zM77.10 451.25h11.85v1.65h-11.85zM77.10 452.90h11.85v1.65h-11.85zM112.65 452.90h11.85v1.65h-11.85zM77.10 459.50h11.85v1.65h-11.85zM88.95 459.50h11.85v1.65h-11.85zM112.65 459.50h11.85v1.65h-11.85zM100.80 461.15h11.85v1.65h-11.85zM100.80 462.80h11.85v1.65h-11.85zM77.10 464.45h11.85v1.65h-11.85zM112.65 464.45h11.85v1.65h-11.85zM77.10 466.10h11.85v1.65h-11.85zM100.80 466.10h11.85v1.65h-11.85zM100.80 467.75h11.85v1.65h-11.85zM77.10 471.05h11.85v1.65h-11.85zM100.80 471.05h11.85v1.65h-11.85zM100.80 472.70h11.85v1.65h-11.85zM77.10 474.35h11.85v1.65h-11.85zM77.10 476.00h11.85v1.65h-11.85zM100.80 476.00h11.85v1.65h-11.85zM77.10 477.65h11.85v1.65h-11.85zM112.65 477.65h11.85v1.65h-11.85zM100.80 482.60h11.85v1.65h-11.85zM100.80 484.25h11.85v1.65h-11.85zM112.65 485.90h11.85v1.65h-11.85zM100.80 487.55h11.85v1.65h-11.85zM88.95 489.20h11.85v1.65h-11.85zM100.80 490.85h11.85v1.65h-11.85zM100.80 492.50h11.85v1.65h-11.85zM112.65 492.50h11.85v1.65h-11.85zM88.95 497.45h11.85v1.65h-11.85zM77.10 499.10h11.85v1.65h-11.85zM100.80 500.75h11.85v1.65h-11.85zM77.10 507.35h11.85v1.65h-11.85zM112.65 510.65h11.85v1.65h-11.85zM77.10 512.30h11.85v1.65h-11.85zM77.10 513.95h11.85v1.65h-11.85zM100.80 513.95h11.85v1.65h-11.85zM112.65 513.95h11.85v1.65h-11.85zM100.80 515.60h11.85v1.65h-11.85zM88.95 517.25h11.85v1.65h-11.85zM77.10 522.20h11.85v1.65h-11.85zM100.80 522.20h11.85v1.65h-11.85zM65.25 523.85h11.85v1.65h-11.85zM77.10 523.85h11.85v1.65h-11.85zM77.10 528.80h11.85v1.65h-11.85zM100.80 528.80h11.85v1.65h-11.85zM112.65 533.75h11.85v1.65h-11.85zM112.65 537.05h11.85v1.65h-11.85zM77.10 540.35h11.85v1.65h-11.85zM77.10 543.65h11.85v1.65h-11.85zM100.80 545.30h11.85v1.65h-11.85zM100.80 548.60h11.85v1.65h-11.85zM100.80 550.25h11.85v1.65h-11.85zM88.95 551.90h11.85v1.65h-11.85zM100.80 551.90h11.85v1.65h-11.85zM65.25 555.20h11.85v1.65h-11.85zM100.80 555.20h11.85v1.65h-11.85zM112.65 555.20h11.85v1.65h-11.85zM88.95 561.80h11.85v1.65h-11.85zM112.65 561.80h11.85v1.65h-11.85zM88.95 565.10h11.85v1.65h-11.85zM100.80 565.10h11.85v1.65h-11.85zM112.65 565.10h11.85v1.65h-11.85zM77.10 566.75h11.85v1.65h-11.85zM100.80 566.75h11.85v1.65h-11.85zM100.80 568.40h11.85v1.65h-11.85zM77.10 570.05h11.85v1.65h-11.85zM100.80 571.70h11.85v0.30h-11.85z"/><path fill="#ee190a" d="M53.40 83.30h11.85v1.65h-11.85zM41.55 89.90h11.85v1.65h-11.85zM53.40 91.55h11.85v1.65h-11.85zM41.55 93.20h11.85v1.65h-11.85zM17.85 99.80h11.85v1.65h-11.85zM41.55 111.35h11.85v1.65h-11.85zM17.85 113.00h11.85v1.65h-11.85zM41.55 124.55h11.85v1.65h-11.85zM17.85 132.80h11.85v1.65h-11.85zM6.00 142.70h11.85v1.65h-11.85zM41.55 164.15h11.85v1.65h-11.85zM6.00 170.75h11.85v1.65h-11.85zM41.55 187.25h11.85v1.65h-11.85zM41.55 188.90h11.85v1.65h-11.85zM41.55 213.65h11.85v1.65h-11.85zM6.00 220.25h11.85v1.65h-11.85zM53.40 236.75h11.85v1.65h-11.85zM6.00 256.55h11.85v1.65h-11.85zM53.40 256.55h11.85v1.65h-11.85zM6.00 259.85h11.85v1.65h-11.85zM41.55 273.05h11.85v1.65h-11.85zM41.55 276.35h11.85v1.65h-11.85zM41.55 287.90h11.85v1.65h-11.85zM53.40 287.90h11.85v1.65h-11.85zM41.55 294.50h11.85v1.65h-11.85zM53.40 296.15h11.85v1.65h-11.85zM17.85 297.80h11.85v1.65h-11.85zM41.55 299.45h11.85v1.65h-11.85zM41.55 317.60h11.85v1.65h-11.85zM41.55 320.90h11.85v1.65h-11.85zM53.40 324.20h11.85v1.65h-11.85zM41.55 325.85h11.85v1.65h-11.85zM41.55 327.50h11.85v1.65h-11.85zM53.40 327.50h11.85v1.65h-11.85zM41.55 330.80h11.85v1.65h-11.85zM41.55 340.70h11.85v1.65h-11.85zM6.00 344.00h11.85v1.65h-11.85zM29.70 344.00h11.85v1.65h-11.85zM17.85 350.60h11.85v1.65h-11.85zM29.70 350.60h11.85v1.65h-11.85zM41.55 350.60h11.85v1.65h-11.85zM6.00 353.90h11.85v1.65h-11.85zM41.55 353.90h11.85v1.65h-11.85zM6.00 355.55h11.85v1.65h-11.85zM17.85 355.55h11.85v1.65h-11.85zM29.70 355.55h11.85v1.65h-11.85zM41.55 355.55h11.85v1.65h-11.85zM41.55 365.45h11.85v1.65h-11.85zM53.40 365.45h11.85v1.65h-11.85zM29.70 377.00h11.85v1.65h-11.85zM100.80 381.95h11.85v1.65h-11.85zM77.10 385.25h11.85v1.65h-11.85zM77.10 386.90h11.85v1.65h-11.85zM100.80 386.90h11.85v1.65h-11.85zM77.10 388.55h11.85v1.65h-11.85zM100.80 388.55h11.85v1.65h-11.85zM77.10 395.15h11.85v1.65h-11.85zM100.80 395.15h11.85v1.65h-11.85zM100.80 396.80h11.85v1.65h-11.85zM88.95 405.05h11.85v1.65h-11.85zM100.80 411.65h11.85v1.65h-11.85zM100.80 413.30h11.85v1.65h-11.85zM100.80 424.85h11.85v1.65h-11.85zM77.10 428.15h11.85v1.65h-11.85zM100.80 428.15h11.85v1.65h-11.85zM100.80 431.45h11.85v1.65h-11.85zM77.10 434.75h11.85v1.65h-11.85zM77.10 443.00h11.85v1.65h-11.85zM100.80 444.65h11.85v1.65h-11.85zM77.10 446.30h11.85v1.65h-11.85zM112.65 446.30h11.85v1.65h-11.85zM77.10 449.60h11.85v1.65h-11.85zM100.80 464.45h11.85v1.65h-11.85zM77.10 492.50h11.85v1.65h-11.85zM77.10 510.65h11.85v1.65h-11.85zM77.10 517.25h11.85v1.65h-11.85zM100.80 517.25h11.85v1.65h-11.85zM77.10 518.90h11.85v1.65h-11.85zM100.80 520.55h11.85v1.65h-11.85zM112.65 530.45h11.85v1.65h-11.85zM77.10 532.10h11.85v1.65h-11.85zM77.10 568.40h11.85v1.65h-11.85z"/></svg>
<svg class="sb" width="520" height="572" viewBox="0 0 520 572"><path fill="#3aec0c" d="M160.00 80.70h11.86v11.71h-11.86zM171.86 80.70h11.86v11.71h-11.86zM183.72 80.70h11.86v11.71h-11.86zM195.58 80.70h11.86v11.71h-11.86zM207.44 80.70h11.86v11.71h-11.86zM160.00 92.41h11.86v11.71h-11.86zM171.86 92.41h11.86v11.71h-11.86zM183.72 92.41h11.86v11.71h-11.86zM195.58 92.41h11.86v11.71h-11.86zM207.44 92.41h11.86v11.71h-11.86zM183.72 104.12h11.86v11.71h-11.86zM195.58 104.12h11.86v11.71h-11.86zM207.44 104.12h11.86v11.71h-11.86zM183.72 139.25h11.86v11.71h-11.86zM195.58 139.25h11.86v11.71h-11.86zM207.44 139.25h11.86v11.71h-11.86zM219.30 186.09h11.86v11.71h-11.86zM243.02 250.46h11.86v11.69h-11.86zM254.88 250.46h11.86v11.69h-11.86zM207.44 262.14h11.86v11.69h-11.86zM219.30 348.87h11.86v11.92h-11.86zM183.72 408.48h11.86v11.92h-11.86zM195.58 408.48h11.86v11.92h-11.86zM207.44 408.48h11.86v11.92h-11.86zM219.30 473.89h11.86v11.96h-11.86zM231.16 473.89h11.86v11.96h-11.86zM243.02 473.89h11.86v11.96h-11.86zM254.88 473.89h11.86v11.96h-11.86zM266.74 473.89h11.86v11.96h-11.86zM160.00 485.85h11.86v11.96h-11.86zM183.72 485.85h11.86v11.96h-11.86zM207.44 485.85h11.86v11.96h-11.86zM160.00 497.82h11.86v11.96h-11.86zM160.00 509.78h11.86v11.96h-11.86zM207.44 509.78h11.86v11.96h-11.86zM183.72 557.64h11.86v11.96h-11.86zM414.25 116.67h11.83v11.81h-11.83zM414.25 128.47h11.83v11.81h-11.83zM426.08 128.47h11.83v11.81h-11.83zM437.91 128.47h11.83v11.81h-11.83zM449.74 128.47h11.83v11.81h-11.83zM461.57 128.47h11.83v11.81h-11.83zM426.08 152.09h11.83v11.81h-11.83zM449.74 180.10h11.83v12.27h-11.83zM461.57 180.10h11.83v12.27h-11.83zM414.25 216.90h11.83v12.27h-11.83zM426.08 216.90h11.83v12.27h-11.83zM437.91 216.90h11.83v12.27h-11.83zM414.25 229.17h11.83v12.27h-11.83zM426.08 229.17h11.83v12.27h-11.83zM437.91 229.17h11.83v12.27h-11.83zM449.74 229.17h11.83v12.27h-11.83zM414.25 253.70h11.83v12.27h-11.83zM390.59 278.23h11.83v12.27h-11.83zM414.25 294.90h11.83v11.85h-11.83zM426.08 294.90h11.83v11.85h-11.83zM414.25 318.60h11.83v11.85h-11.83zM414.25 330.45h11.83v11.85h-11.83zM414.25 354.15h11.83v11.85h-11.83zM426.08 354.15h11.83v11.85h-11.83zM437.91 354.15h11.83v11.85h-11.83zM414.25 393.50h11.83v11.79h-11.83zM426.08 393.50h11.83v11.79h-11.83zM449.74 393.50h11.83v11.79h-11.83zM461.57 393.50h11.83v11.79h-11.83zM449.74 417.09h11.83v11.79h-11.83zM426.08 476.05h11.83v11.79h-11.83zM426.08 487.85h11.83v11.79h-11.83zM437.91 487.85h11.83v11.79h-11.83zM414.25 499.64h11.83v11.79h-11.83zM426.08 499.64h11.83v11.79h-11.83zM437.91 499.64h11.83v11.79h-11.83zM449.74 499.64h11.83v11.79h-11.83zM461.57 499.64h11.83v11.79h-11.83zM355.10 558.61h11.83v11.79h-11.83z"/><path fill="#69ee06" d="M160.00 104.12h11.86v11.71h-11.86zM171.86 127.54h11.86v11.71h-11.86zM183.72 127.54h11.86v11.71h-11.86zM195.58 127.54h11.86v11.71h-11.86zM243.02 150.96h11.86v11.71h-11.86zM254.88 150.96h11.86v11.71h-11.86zM231.16 162.67h11.86v11.71h-11.86zM254.88 162.67h11.86v11.71h-11.86zM243.02 174.38h11.86v11.71h-11.86zM254.88 174.38h11.86v11.71h-11.86zM231.16 186.09h11.86v11.71h-11.86zM266.74 186.09h11.86v11.71h-11.86zM243.02 215.40h11.86v11.69h-11.86zM231.16 227.09h11.86v11.69h-11.86zM219.30 238.77h11.86v11.69h-11.86zM219.30 250.46h11.86v11.69h-11.86zM231.16 250.46h11.86v11.69h-11.86zM195.58 262.14h11.86v11.69h-11.86zM160.00 273.83h11.86v11.69h-11.86zM195.58 285.51h11.86v11.69h-11.86zM231.16 313.10h11.86v11.92h-11.86zM243.02 313.10h11.86v11.92h-11.86zM254.88 313.10h11.86v11.92h-11.86zM266.74 313.10h11.86v11.92h-11.86zM243.02 325.02h11.86v11.92h-11.86zM160.00 372.71h11.86v11.92h-11.86zM183.72 372.71h11.86v11.92h-11.86zM207.44 372.71h11.86v11.92h-11.86zM171.86 384.63h11.86v11.92h-11.86zM160.00 396.56h11.86v11.92h-11.86zM183.72 396.56h11.86v11.92h-11.86zM207.44 396.56h11.86v11.92h-11.86zM160.00 408.48h11.86v11.92h-11.86zM219.30 438.00h11.86v11.96h-11.86zM266.74 438.00h11.86v11.96h-11.86zM183.72 497.82h11.86v11.96h-11.86zM207.44 497.82h11.86v11.96h-11.86zM219.30 497.82h11.86v11.96h-11.86zM171.86 509.78h11.86v11.96h-11.86zM183.72 509.78h11.86v11.96h-11.86zM183.72 521.75h11.86v11.96h-11.86zM207.44 521.75h11.86v11.96h-11.86zM183.72 533.71h11.86v11.96h-11.86zM207.44 533.71h11.86v11.96h-11.86zM160.00 545.67h11.86v11.96h-11.86zM207.44 557.64h11.86v11.96h-11.86zM437.91 81.25h11.83v11.81h-11.83zM449.74 93.06h11.83v11.81h-11.83zM414.25 104.86h11.83v11.81h-11.83zM437.91 116.67h11.83v11.81h-11.83zM414.25 152.09h11.83v11.81h-11.83zM437.91 152.09h11.83v11.81h-11.83zM449.74 152.09h11.83v11.81h-11.83zM414.25 180.10h11.83v12.27h-11.83zM426.08 180.10h11.83v12.27h-11.83zM437.91 180.10h11.83v12.27h-11.83zM414.25 204.63h11.83v12.27h-11.83zM426.08 204.63h11.83v12.27h-11.83zM437.91 204.63h11.83v12.27h-11.83zM461.57 204.63h11.83v12.27h-11.83zM449.74 216.90h11.83v12.27h-11.83zM461.57 216.90h11.83v12.27h-11.83zM461.57 229.17h11.83v12.27h-11.83zM437.91 241.43h11.83v12.27h-11.83zM426.08 253.70h11.83v12.27h-11.83zM437.91 265.97h11.83v12.27h-11.83zM355.10 278.23h11.83v12.27h-11.83zM366.93 278.23h11.83v12.27h-11.83zM437.91 294.90h11.83v11.85h-11.83zM461.57 294.90h11.83v11.85h-11.83zM414.25 366.00h11.83v11.85h-11.83zM378.76 377.85h11.83v11.85h-11.83zM437.91 393.50h11.83v11.79h-11.83zM426.08 417.09h11.83v11.79h-11.83zM437.91 428.88h11.83v11.79h-11.83zM461.57 428.88h11.83v11.79h-11.83zM437.91 440.67h11.83v11.79h-11.83zM414.25 464.26h11.83v11.79h-11.83zM426.08 464.26h11.83v11.79h-11.83zM449.74 464.26h11.83v11.79h-11.83zM461.57 464.26h11.83v11.79h-11.83zM437.91 476.05h11.83v11.79h-11.83zM461.57 476.05h11.83v11.79h-11.83zM449.74 487.85h11.83v11.79h-11.83zM461.57 487.85h11.83v11.79h-11.83zM414.25 511.43h11.83v11.79h-11.83zM426.08 511.43h11.83v11.79h-11.83zM437.91 511.43h11.83v11.79h-11.83zM449.74 511.43h11.83v11.79h-11.83zM461.57 511.43h11.83v11.79h-11.83zM355.10 523.23h11.83v11.79h-11.83zM355.10 535.02h11.83v11.79h-11.83zM378.76 535.02h11.83v11.79h-11.83zM402.42 535.02h11.83v11.79h-11.83zM355.10 546.81h11.83v11.79h-11.83zM366.93 558.61h11.83v11.79h-11.83zM402.42 558.61h11.83v11.79h-11.83z"/><path fill="#9bf00a" d="M171.86 115.83h11.86v11.71h-11.86zM266.74 238.77h11.86v11.69h-11.86zM183.72 262.14h11.86v11.69h-11.86zM160.00 285.51h11.86v11.69h-11.86zM183.72 285.51h11.86v11.69h-11.86zM207.44 285.51h11.86v11.69h-11.86zM219.30 313.10h11.86v11.92h-11.86zM266.74 325.02h11.86v11.92h-11.86zM243.02 336.94h11.86v11.92h-11.86zM266.74 348.87h11.86v11.92h-11.86zM231.16 360.79h11.86v11.92h-11.86zM254.88 360.79h11.86v11.92h-11.86zM219.30 372.71h11.86v11.92h-11.86zM160.00 384.63h11.86v11.92h-11.86zM183.72 384.63h11.86v11.92h-11.86zM219.30 384.63h11.86v11.92h-11.86zM231.16 438.00h11.86v11.96h-11.86zM243.02 438.00h11.86v11.96h-11.86zM219.30 449.96h11.86v11.96h-11.86zM243.02 449.96h11.86v11.96h-11.86zM243.02 461.93h11.86v11.96h-11.86zM254.88 461.93h11.86v11.96h-11.86zM171.86 545.67h11.86v11.96h-11.86zM160.00 557.64h11.86v11.96h-11.86zM449.74 81.25h11.83v11.81h-11.83zM414.25 93.06h11.83v11.81h-11.83zM437.91 104.86h11.83v11.81h-11.83zM449.74 116.67h11.83v11.81h-11.83zM461.57 116.67h11.83v11.81h-11.83zM449.74 140.28h11.83v11.81h-11.83zM461.57 140.28h11.83v11.81h-11.83zM461.57 152.09h11.83v11.81h-11.83zM437.91 163.89h11.83v11.81h-11.83zM449.74 163.89h11.83v11.81h-11.83zM461.57 241.43h11.83v12.27h-11.83zM437.91 253.70h11.83v12.27h-11.83zM461.57 253.70h11.83v12.27h-11.83zM461.57 265.97h11.83v12.27h-11.83zM355.10 318.60h11.83v11.85h-11.83zM437.91 318.60h11.83v11.85h-11.83zM461.57 330.45h11.83v11.85h-11.83zM437.91 342.30h11.83v11.85h-11.83zM449.74 342.30h11.83v11.85h-11.83zM449.74 354.15h11.83v11.85h-11.83zM461.57 354.15h11.83v11.85h-11.83zM426.08 366.00h11.83v11.85h-11.83zM437.91 366.00h11.83v11.85h-11.83zM461.57 366.00h11.83v11.85h-11.83zM355.10 377.85h11.83v11.85h-11.83zM426.08 405.29h11.83v11.79h-11.83zM437.91 405.29h11.83v11.79h-11.83zM461.57 405.29h11.83v11.79h-11.83zM461.57 417.09h11.83v11.79h-11.83zM449.74 440.67h11.83v11.79h-11.83zM461.57 440.67h11.83v11.79h-11.83zM437.91 452.47h11.83v11.79h-11.83zM449.74 452.47h11.83v11.79h-11.83zM437.91 464.26h11.83v11.79h-11.83zM414.25 476.05h11.83v11.79h-11.83zM366.93 523.23h11.83v11.79h-11.83zM414.25 523.23h11.83v11.79h-11.83zM414.25 535.02h11.83v11.79h-11.83zM402.42 546.81h11.83v11.79h-11.83zM378.76 558.61h11.83v11.79h-11.83zM390.59 558.61h11.83v11.79h-11.83z"/><path fill="#cdf20a" d="M160.00 115.83h11.86v11.71h-11.86zM195.58 115.83h11.86v11.71h-11.86zM219.30 115.83h11.86v11.71h-11.86zM160.00 127.54h11.86v11.71h-11.86zM219.30 150.96h11.86v11.71h-11.86zM243.02 162.67h11.86v11.71h-11.86zM266.74 162.67h11.86v11.71h-11.86zM231.16 174.38h11.86v11.71h-11.86zM266.74 174.38h11.86v11.71h-11.86zM219.30 215.40h11.86v11.69h-11.86zM266.74 215.40h11.86v11.69h-11.86zM219.30 227.09h11.86v11.69h-11.86zM266.74 227.09h11.86v11.69h-11.86zM243.02 238.77h11.86v11.69h-11.86zM254.88 238.77h11.86v11.69h-11.86zM171.86 262.14h11.86v11.69h-11.86zM219.30 262.14h11.86v11.69h-11.86zM171.86 273.83h11.86v11.69h-11.86zM183.72 273.83h11.86v11.69h-11.86zM195.58 273.83h11.86v11.69h-11.86zM171.86 285.51h11.86v11.69h-11.86zM219.30 336.94h11.86v11.92h-11.86zM231.16 336.94h11.86v11.92h-11.86zM254.88 336.94h11.86v11.92h-11.86zM231.16 348.87h11.86v11.92h-11.86zM219.30 360.79h11.86v11.92h-11.86zM243.02 360.79h11.86v11.92h-11.86zM266.74 360.79h11.86v11.92h-11.86zM207.44 384.63h11.86v11.92h-11.86zM171.86 396.56h11.86v11.92h-11.86zM243.02 408.48h11.86v11.92h-11.86zM254.88 438.00h11.86v11.96h-11.86zM231.16 461.93h11.86v11.96h-11.86zM266.74 461.93h11.86v11.96h-11.86zM160.00 521.75h11.86v11.96h-11.86zM171.86 521.75h11.86v11.96h-11.86zM160.00 533.71h11.86v11.96h-11.86zM171.86 533.71h11.86v11.96h-11.86zM243.02 533.71h11.86v11.96h-11.86zM219.30 545.67h11.86v11.96h-11.86zM171.86 557.64h11.86v11.96h-11.86zM195.58 557.64h11.86v11.96h-11.86zM414.25 81.25h11.83v11.81h-11.83zM437.91 93.06h11.83v11.81h-11.83zM461.57 93.06h11.83v11.81h-11.83zM426.08 104.86h11.83v11.81h-11.83zM461.57 104.86h11.83v11.81h-11.83zM414.25 140.28h11.83v11.81h-11.83zM426.08 140.28h11.83v11.81h-11.83zM437.91 140.28h11.83v11.81h-11.83zM414.25 163.89h11.83v11.81h-11.83zM426.08 192.37h11.83v12.27h-11.83zM437.91 192.37h11.83v12.27h-11.83zM449.74 204.63h11.83v12.27h-11.83zM449.74 253.70h11.83v12.27h-11.83zM426.08 265.97h11.83v12.27h-11.83zM449.74 265.97h11.83v12.27h-11.83zM378.76 278.23h11.83v12.27h-11.83zM414.25 306.75h11.83v11.85h-11.83zM437.91 306.75h11.83v11.85h-11.83zM449.74 306.75h11.83v11.85h-11.83zM461.57 318.60h11.83v11.85h-11.83zM355.10 330.45h11.83v11.85h-11.83zM426.08 342.30h11.83v11.85h-11.83zM366.93 377.85h11.83v11.85h-11.83zM390.59 377.85h11.83v11.85h-11.83zM437.91 377.85h11.83v11.85h-11.83zM449.74 405.29h11.83v11.79h-11.83zM414.25 417.09h11.83v11.79h-11.83zM366.93 428.88h11.83v11.79h-11.83zM426.08 428.88h11.83v11.79h-11.83zM378.76 440.67h11.83v11.79h-11.83zM414.25 452.47h11.83v11.79h-11.83zM426.08 452.47h11.83v11.79h-11.83zM461.57 452.47h11.83v11.79h-11.83zM366.93 476.05h11.83v11.79h-11.83zM378.76 523.23h11.83v11.79h-11.83zM390.59 523.23h11.83v11.79h-11.83zM366.93 546.81h11.83v11.79h-11.83zM378.76 546.81h11.83v11.79h-11.83zM390.59 546.81h11.83v11.79h-11.83z"/><path fill="#f0f205" d="M207.44 127.54h11.86v11.71h-11.86zM243.02 139.25h11.86v11.71h-11.86zM231.16 150.96h11.86v11.71h-11.86zM231.16 215.40h11.86v11.69h-11.86zM243.02 227.09h11.86v11.69h-11.86zM254.88 348.87h11.86v11.92h-11.86zM266.74 449.96h11.86v11.96h-11.86zM171.86 497.82h11.86v11.96h-11.86zM461.57 81.25h11.83v11.81h-11.83zM426.08 93.06h11.83v11.81h-11.83zM355.10 104.86h11.83v11.81h-11.83zM461.57 163.89h11.83v11.81h-11.83zM414.25 192.37h11.83v12.27h-11.83zM449.74 192.37h11.83v12.27h-11.83zM414.25 241.43h11.83v12.27h-11.83zM426.08 241.43h11.83v12.27h-11.83zM414.25 265.97h11.83v12.27h-11.83zM426.08 306.75h11.83v11.85h-11.83zM461.57 306.75h11.83v11.85h-11.83zM437.91 535.02h11.83v11.79h-11.83z"/><path fill="#ffe800" d="M171.86 104.12h11.86v11.71h-11.86zM219.30 104.12h11.86v11.71h-11.86zM183.72 115.83h11.86v11.71h-11.86zM160.00 139.25h11.86v11.71h-11.86zM160.00 150.96h11.86v11.71h-11.86zM171.86 150.96h11.86v11.71h-11.86zM183.72 150.96h11.86v11.71h-11.86zM266.74 150.96h11.86v11.71h-11.86zM207.44 162.67h11.86v11.71h-11.86zM183.72 174.38h11.86v11.71h-11.86zM219.30 174.38h11.86v11.71h-11.86zM160.00 186.09h11.86v11.71h-11.86zM243.02 186.09h11.86v11.71h-11.86zM254.88 186.09h11.86v11.71h-11.86zM183.72 215.40h11.86v11.69h-11.86zM254.88 215.40h11.86v11.69h-11.86zM183.72 227.09h11.86v11.69h-11.86zM254.88 227.09h11.86v11.69h-11.86zM160.00 238.77h11.86v11.69h-11.86zM231.16 238.77h11.86v11.69h-11.86zM160.00 250.46h11.86v11.69h-11.86zM266.74 250.46h11.86v11.69h-11.86zM219.30 273.83h11.86v11.69h-11.86zM243.02 273.83h11.86v11.69h-11.86zM171.86 325.02h11.86v11.92h-11.86zM183.72 325.02h11.86v11.92h-11.86zM207.44 325.02h11.86v11.92h-11.86zM219.30 325.02h11.86v11.92h-11.86zM231.16 325.02h11.86v11.92h-11.86zM254.88 325.02h11.86v11.92h-11.86zM160.00 336.94h11.86v11.92h-11.86zM171.86 336.94h11.86v11.92h-11.86zM183.72 336.94h11.86v11.92h-11.86zM160.00 348.87h11.86v11.92h-11.86zM171.86 348.87h11.86v11.92h-11.86zM171.86 372.71h11.86v11.92h-11.86zM195.58 372.71h11.86v11.92h-11.86zM195.58 396.56h11.86v11.92h-11.86zM243.02 396.56h11.86v11.92h-11.86zM160.00 449.96h11.86v11.96h-11.86zM231.16 449.96h11.86v11.96h-11.86zM254.88 449.96h11.86v11.96h-11.86zM183.72 461.93h11.86v11.96h-11.86zM219.30 461.93h11.86v11.96h-11.86zM171.86 485.85h11.86v11.96h-11.86zM219.30 485.85h11.86v11.96h-11.86zM243.02 485.85h11.86v11.96h-11.86zM195.58 509.78h11.86v11.96h-11.86zM243.02 509.78h11.86v11.96h-11.86zM243.02 521.75h11.86v11.96h-11.86zM266.74 521.75h11.86v11.96h-11.86zM183.72 545.67h11.86v11.96h-11.86zM207.44 545.67h11.86v11.96h-11.86zM231.16 545.67h11.86v11.96h-11.86zM378.76 81.25h11.83v11.81h-11.83zM390.59 81.25h11.83v11.81h-11.83zM378.76 104.86h11.83v11.81h-11.83zM378.76 116.67h11.83v11.81h-11.83zM426.08 116.67h11.83v11.81h-11.83zM378.76 163.89h11.83v11.81h-11.83zM426.08 163.89h11.83v11.81h-11.83zM378.76 192.37h11.83v12.27h-11.83zM461.57 192.37h11.83v12.27h-11.83zM378.76 241.43h11.83v12.27h-11.83zM449.74 241.43h11.83v12.27h-11.83zM402.42 278.23h11.83v12.27h-11.83zM426.08 278.23h11.83v12.27h-11.83zM402.42 294.90h11.83v11.85h-11.83zM355.10 306.75h11.83v11.85h-11.83zM390.59 306.75h11.83v11.85h-11.83zM402.42 318.60h11.83v11.85h-11.83zM426.08 318.60h11.83v11.85h-11.83zM426.08 330.45h11.83v11.85h-11.83zM437.91 330.45h11.83v11.85h-11.83zM449.74 330.45h11.83v11.85h-11.83zM414.25 342.30h11.83v11.85h-11.83zM461.57 342.30h11.83v11.85h-11.83zM355.10 366.00h11.83v11.85h-11.83zM378.76 366.00h11.83v11.85h-11.83zM402.42 405.29h11.83v11.79h-11.83zM414.25 405.29h11.83v11.79h-11.83zM366.93 417.09h11.83v11.79h-11.83zM437.91 417.09h11.83v11.79h-11.83zM402.42 428.88h11.83v11.79h-11.83zM414.25 428.88h11.83v11.79h-11.83zM449.74 428.88h11.83v11.79h-11.83zM402.42 440.67h11.83v11.79h-11.83zM414.25 440.67h11.83v11.79h-11.83zM426.08 440.67h11.83v11.79h-11.83z"/><path fill="#ffc305" d="M266.74 104.12h11.86v11.71h-11.86zM207.44 115.83h11.86v11.71h-11.86zM243.02 127.54h11.86v11.71h-11.86zM254.88 139.25h11.86v11.71h-11.86zM195.58 150.96h11.86v11.71h-11.86zM183.72 162.67h11.86v11.71h-11.86zM195.58 162.67h11.86v11.71h-11.86zM219.30 162.67h11.86v11.71h-11.86zM171.86 174.38h11.86v11.71h-11.86zM160.00 215.40h11.86v11.69h-11.86zM207.44 215.40h11.86v11.69h-11.86zM171.86 227.09h11.86v11.69h-11.86zM207.44 238.77h11.86v11.69h-11.86zM171.86 250.46h11.86v11.69h-11.86zM183.72 250.46h11.86v11.69h-11.86zM207.44 250.46h11.86v11.69h-11.86zM160.00 262.14h11.86v11.69h-11.86zM243.02 262.14h11.86v11.69h-11.86zM266.74 262.14h11.86v11.69h-11.86zM219.30 285.51h11.86v11.69h-11.86zM266.74 285.51h11.86v11.69h-11.86zM183.72 313.10h11.86v11.92h-11.86zM195.58 336.94h11.86v11.92h-11.86zM183.72 348.87h11.86v11.92h-11.86zM195.58 348.87h11.86v11.92h-11.86zM207.44 348.87h11.86v11.92h-11.86zM243.02 348.87h11.86v11.92h-11.86zM171.86 360.79h11.86v11.92h-11.86zM195.58 384.63h11.86v11.92h-11.86zM171.86 408.48h11.86v11.92h-11.86zM219.30 408.48h11.86v11.92h-11.86zM183.72 438.00h11.86v11.96h-11.86zM195.58 438.00h11.86v11.96h-11.86zM207.44 438.00h11.86v11.96h-11.86zM183.72 449.96h11.86v11.96h-11.86zM195.58 485.85h11.86v11.96h-11.86zM266.74 497.82h11.86v11.96h-11.86zM266.74 509.78h11.86v11.96h-11.86zM195.58 521.75h11.86v11.96h-11.86zM219.30 521.75h11.86v11.96h-11.86zM195.58 533.71h11.86v11.96h-11.86zM219.30 533.71h11.86v11.96h-11.86zM231.16 533.71h11.86v11.96h-11.86zM266.74 533.71h11.86v11.96h-11.86zM266.74 545.67h11.86v11.96h-11.86zM243.02 557.64h11.86v11.96h-11.86zM426.08 81.25h11.83v11.81h-11.83zM355.10 93.06h11.83v11.81h-11.83zM449.74 104.86h11.83v11.81h-11.83zM355.10 116.67h11.83v11.81h-11.83zM390.59 116.67h11.83v11.81h-11.83zM402.42 116.67h11.83v11.81h-11.83zM355.10 140.28h11.83v11.81h-11.83zM355.10 163.89h11.83v11.81h-11.83zM366.93 163.89h11.83v11.81h-11.83zM366.93 192.37h11.83v12.27h-11.83zM390.59 192.37h11.83v12.27h-11.83zM402.42 192.37h11.83v12.27h-11.83zM378.76 204.63h11.83v12.27h-11.83zM355.10 241.43h11.83v12.27h-11.83zM390.59 241.43h11.83v12.27h-11.83zM402.42 241.43h11.83v12.27h-11.83zM355.10 253.70h11.83v12.27h-11.83zM366.93 253.70h11.83v12.27h-11.83zM355.10 265.97h11.83v12.27h-11.83zM378.76 265.97h11.83v12.27h-11.83zM449.74 278.23h11.83v12.27h-11.83zM366.93 294.90h11.83v11.85h-11.83zM378.76 294.90h11.83v11.85h-11.83zM402.42 306.75h11.83v11.85h-11.83zM366.93 342.30h11.83v11.85h-11.83zM378.76 342.30h11.83v11.85h-11.83zM390.59 342.30h11.83v11.85h-11.83zM378.76 354.15h11.83v11.85h-11.83zM402.42 377.85h11.83v11.85h-11.83zM426.08 377.85h11.83v11.85h-11.83zM355.10 428.88h11.83v11.79h-11.83zM378.76 428.88h11.83v11.79h-11.83zM366.93 440.67h11.83v11.79h-11.83zM355.10 452.47h11.83v11.79h-11.83zM378.76 452.47h11.83v11.79h-11.83zM402.42 464.26h11.83v11.79h-11.83zM378.76 476.05h11.83v11.79h-11.83zM402.42 476.05h11.83v11.79h-11.83zM378.76 511.43h11.83v11.79h-11.83zM402.42 523.23h11.83v11.79h-11.83zM366.93 535.02h11.83v11.79h-11.83zM461.57 535.02h11.83v11.79h-11.83zM414.25 546.81h11.83v11.79h-11.83zM426.08 546.81h11.83v11.79h-11.83zM449.74 558.61h11.83v11.79h-11.83z"/><path fill="#ff9b05" d="M243.02 80.70h11.86v11.71h-11.86zM231.16 92.41h11.86v11.71h-11.86zM243.02 92.41h11.86v11.71h-11.86zM243.02 104.12h11.86v11.71h-11.86zM231.16 115.83h11.86v11.71h-11.86zM254.88 115.83h11.86v11.71h-11.86zM266.74 127.54h11.86v11.71h-11.86zM160.00 162.67h11.86v11.71h-11.86zM171.86 162.67h11.86v11.71h-11.86zM160.00 174.38h11.86v11.71h-11.86zM195.58 174.38h11.86v11.71h-11.86zM207.44 174.38h11.86v11.71h-11.86zM207.44 186.09h11.86v11.71h-11.86zM171.86 215.40h11.86v11.69h-11.86zM195.58 215.40h11.86v11.69h-11.86zM160.00 227.09h11.86v11.69h-11.86zM195.58 227.09h11.86v11.69h-11.86zM207.44 227.09h11.86v11.69h-11.86zM183.72 238.77h11.86v11.69h-11.86zM231.16 262.14h11.86v11.69h-11.86zM254.88 262.14h11.86v11.69h-11.86zM207.44 273.83h11.86v11.69h-11.86zM231.16 273.83h11.86v11.69h-11.86zM266.74 273.83h11.86v11.69h-11.86zM231.16 285.51h11.86v11.69h-11.86zM243.02 285.51h11.86v11.69h-11.86zM254.88 285.51h11.86v11.69h-11.86zM160.00 313.10h11.86v11.92h-11.86zM160.00 325.02h11.86v11.92h-11.86zM207.44 336.94h11.86v11.92h-11.86zM266.74 336.94h11.86v11.92h-11.86zM160.00 360.79h11.86v11.92h-11.86zM183.72 360.79h11.86v11.92h-11.86zM195.58 360.79h11.86v11.92h-11.86zM266.74 396.56h11.86v11.92h-11.86zM160.00 438.00h11.86v11.96h-11.86zM171.86 449.96h11.86v11.96h-11.86zM160.00 461.93h11.86v11.96h-11.86zM171.86 461.93h11.86v11.96h-11.86zM207.44 461.93h11.86v11.96h-11.86zM171.86 473.89h11.86v11.96h-11.86zM266.74 485.85h11.86v11.96h-11.86zM243.02 497.82h11.86v11.96h-11.86zM219.30 509.78h11.86v11.96h-11.86zM231.16 521.75h11.86v11.96h-11.86zM254.88 533.71h11.86v11.96h-11.86zM195.58 545.67h11.86v11.96h-11.86zM243.02 545.67h11.86v11.96h-11.86zM219.30 557.64h11.86v11.96h-11.86zM231.16 557.64h11.86v11.96h-11.86zM254.88 557.64h11.86v11.96h-11.86zM355.10 81.25h11.83v11.81h-11.83zM366.93 93.06h11.83v11.81h-11.83zM378.76 93.06h11.83v11.81h-11.83zM390.59 93.06h11.83v11.81h-11.83zM402.42 93.06h11.83v11.81h-11.83zM366.93 104.86h11.83v11.81h-11.83zM378.76 128.47h11.83v11.81h-11.83zM390.59 128.47h11.83v11.81h-11.83zM378.76 140.28h11.83v11.81h-11.83zM390.59 140.28h11.83v11.81h-11.83zM378.76 152.09h11.83v11.81h-11.83zM402.42 163.89h11.83v11.81h-11.83zM378.76 180.10h11.83v12.27h-11.83zM390.59 180.10h11.83v12.27h-11.83zM402.42 180.10h11.83v12.27h-11.83zM355.10 192.37h11.83v12.27h-11.83zM355.10 204.63h11.83v12.27h-11.83zM390.59 204.63h11.83v12.27h-11.83zM402.42 204.63h11.83v12.27h-11.83zM355.10 216.90h11.83v12.27h-11.83zM366.93 216.90h11.83v12.27h-11.83zM378.76 216.90h11.83v12.27h-11.83zM378.76 229.17h11.83v12.27h-11.83zM366.93 241.43h11.83v12.27h-11.83zM378.76 253.70h11.83v12.27h-11.83zM390.59 253.70h11.83v12.27h-11.83zM366.93 265.97h11.83v12.27h-11.83zM402.42 265.97h11.83v12.27h-11.83zM414.25 278.23h11.83v12.27h-11.83zM437.91 278.23h11.83v12.27h-11.83zM355.10 294.90h11.83v11.85h-11.83zM366.93 306.75h11.83v11.85h-11.83zM378.76 306.75h11.83v11.85h-11.83zM366.93 318.60h11.83v11.85h-11.83zM390.59 330.45h11.83v11.85h-11.83zM402.42 342.30h11.83v11.85h-11.83zM355.10 354.15h11.83v11.85h-11.83zM366.93 354.15h11.83v11.85h-11.83zM390.59 354.15h11.83v11.85h-11.83zM402.42 366.00h11.83v11.85h-11.83zM414.25 377.85h11.83v11.85h-11.83zM390.59 393.50h11.83v11.79h-11.83zM402.42 393.50h11.83v11.79h-11.83zM355.10 405.29h11.83v11.79h-11.83zM366.93 405.29h11.83v11.79h-11.83zM378.76 405.29h11.83v11.79h-11.83zM378.76 417.09h11.83v11.79h-11.83zM402.42 417.09h11.83v11.79h-11.83zM355.10 440.67h11.83v11.79h-11.83zM366.93 452.47h11.83v11.79h-11.83zM390.59 452.47h11.83v11.79h-11.83zM402.42 452.47h11.83v11.79h-11.83zM355.10 464.26h11.83v11.79h-11.83zM378.76 464.26h11.83v11.79h-11.83zM355.10 476.05h11.83v11.79h-11.83zM449.74 476.05h11.83v11.79h-11.83zM378.76 487.85h11.83v11.79h-11.83zM390.59 487.85h11.83v11.79h-11.83zM366.93 499.64h11.83v11.79h-11.83zM378.76 499.64h11.83v11.79h-11.83zM355.10 511.43h11.83v11.79h-11.83zM366.93 511.43h11.83v11.79h-11.83zM426.08 523.23h11.83v11.79h-11.83zM437.91 523.23h11.83v11.79h-11.83zM390.59 535.02h11.83v11.79h-11.83zM437.91 546.81h11.83v11.79h-11.83zM461.57 546.81h11.83v11.79h-11.83zM414.25 558.61h11.83v11.79h-11.83z"/><path fill="#ff6e08" d="M219.30 92.41h11.86v11.71h-11.86zM254.88 104.12h11.86v11.71h-11.86zM243.02 115.83h11.86v11.71h-11.86zM219.30 127.54h11.86v11.71h-11.86zM231.16 127.54h11.86v11.71h-11.86zM254.88 127.54h11.86v11.71h-11.86zM266.74 139.25h11.86v11.71h-11.86zM207.44 150.96h11.86v11.71h-11.86zM183.72 186.09h11.86v11.71h-11.86zM254.88 273.83h11.86v11.69h-11.86zM171.86 313.10h11.86v11.92h-11.86zM207.44 313.10h11.86v11.92h-11.86zM195.58 325.02h11.86v11.92h-11.86zM207.44 360.79h11.86v11.92h-11.86zM243.02 372.71h11.86v11.92h-11.86zM243.02 384.63h11.86v11.92h-11.86zM266.74 384.63h11.86v11.92h-11.86zM219.30 396.56h11.86v11.92h-11.86zM231.16 396.56h11.86v11.92h-11.86zM254.88 396.56h11.86v11.92h-11.86zM266.74 408.48h11.86v11.92h-11.86zM171.86 438.00h11.86v11.96h-11.86zM195.58 449.96h11.86v11.96h-11.86zM207.44 449.96h11.86v11.96h-11.86zM195.58 461.93h11.86v11.96h-11.86zM160.00 473.89h11.86v11.96h-11.86zM183.72 473.89h11.86v11.96h-11.86zM195.58 473.89h11.86v11.96h-11.86zM207.44 473.89h11.86v11.96h-11.86zM231.16 485.85h11.86v11.96h-11.86zM195.58 497.82h11.86v11.96h-11.86zM231.16 497.82h11.86v11.96h-11.86zM254.88 509.78h11.86v11.96h-11.86zM254.88 521.75h11.86v11.96h-11.86zM254.88 545.67h11.86v11.96h-11.86zM266.74 557.64h11.86v11.96h-11.86zM366.93 81.25h11.83v11.81h-11.83zM402.42 81.25h11.83v11.81h-11.83zM402.42 104.86h11.83v11.81h-11.83zM366.93 116.67h11.83v11.81h-11.83zM355.10 128.47h11.83v11.81h-11.83zM366.93 140.28h11.83v11.81h-11.83zM402.42 140.28h11.83v11.81h-11.83zM355.10 152.09h11.83v11.81h-11.83zM366.93 152.09h11.83v11.81h-11.83zM390.59 163.89h11.83v11.81h-11.83zM366.93 180.10h11.83v12.27h-11.83zM390.59 216.90h11.83v12.27h-11.83zM366.93 229.17h11.83v12.27h-11.83zM390.59 229.17h11.83v12.27h-11.83zM402.42 229.17h11.83v12.27h-11.83zM402.42 253.70h11.83v12.27h-11.83zM390.59 265.97h11.83v12.27h-11.83zM461.57 278.23h11.83v12.27h-11.83zM378.76 318.60h11.83v11.85h-11.83zM449.74 318.60h11.83v11.85h-11.83zM366.93 330.45h11.83v11.85h-11.83zM378.76 330.45h11.83v11.85h-11.83zM402.42 330.45h11.83v11.85h-11.83zM355.10 342.30h11.83v11.85h-11.83zM402.42 354.15h11.83v11.85h-11.83zM366.93 366.00h11.83v11.85h-11.83zM449.74 366.00h11.83v11.85h-11.83zM461.57 377.85h11.83v11.85h-11.83zM378.76 393.50h11.83v11.79h-11.83zM390.59 405.29h11.83v11.79h-11.83zM355.10 417.09h11.83v11.79h-11.83zM390.59 428.88h11.83v11.79h-11.83zM390.59 440.67h11.83v11.79h-11.83zM366.93 464.26h11.83v11.79h-11.83zM390.59 476.05h11.83v11.79h-11.83zM402.42 487.85h11.83v11.79h-11.83zM355.10 499.64h11.83v11.79h-11.83zM402.42 499.64h11.83v11.79h-11.83zM390.59 511.43h11.83v11.79h-11.83zM402.42 511.43h11.83v11.79h-11.83zM449.74 523.23h11.83v11.79h-11.83zM426.08 535.02h11.83v11.79h-11.83zM449.74 535.02h11.83v11.79h-11.83zM449.74 546.81h11.83v11.79h-11.83zM426.08 558.61h11.83v11.79h-11.83z"/><path fill="#ee190a" d="M231.16 80.70h11.86v11.71h-11.86zM231.16 104.12h11.86v11.71h-11.86zM266.74 115.83h11.86v11.71h-11.86zM171.86 139.25h11.86v11.71h-11.86zM219.30 139.25h11.86v11.71h-11.86zM231.16 139.25h11.86v11.71h-11.86zM171.86 186.09h11.86v11.71h-11.86zM195.58 186.09h11.86v11.71h-11.86zM195.58 238.77h11.86v11.69h-11.86zM195.58 250.46h11.86v11.69h-11.86zM231.16 372.71h11.86v11.92h-11.86zM254.88 372.71h11.86v11.92h-11.86zM266.74 372.71h11.86v11.92h-11.86zM231.16 384.63h11.86v11.92h-11.86zM254.88 384.63h11.86v11.92h-11.86zM231.16 408.48h11.86v11.92h-11.86zM254.88 408.48h11.86v11.92h-11.86zM254.88 485.85h11.86v11.96h-11.86zM231.16 509.78h11.86v11.96h-11.86zM366.93 128.47h11.83v11.81h-11.83zM402.42 128.47h11.83v11.81h-11.83zM390.59 152.09h11.83v11.81h-11.83zM402.42 152.09h11.83v11.81h-11.83zM390.59 294.90h11.83v11.85h-11.83zM449.74 294.90h11.83v11.85h-11.83zM390.59 318.60h11.83v11.85h-11.83zM390.59 366.00h11.83v11.85h-11.83zM449.74 377.85h11.83v11.85h-11.83zM355.10 393.50h11.83v11.79h-11.83zM366.93 393.50h11.83v11.79h-11.83zM355.10 487.85h11.83v11.79h-11.83zM366.93 487.85h11.83v11.79h-11.83zM390.59 499.64h11.83v11.79h-11.83zM461.57 523.23h11.83v11.79h-11.83zM437.91 558.61h11.83v11.79h-11.83zM461.57 558.61h11.83v11.79h-11.83z"/><path fill="#fa4408" d="M219.30 80.70h11.86v11.71h-11.86zM254.88 80.70h11.86v11.71h-11.86zM266.74 80.70h11.86v11.71h-11.86zM254.88 92.41h11.86v11.71h-11.86zM266.74 92.41h11.86v11.71h-11.86zM171.86 238.77h11.86v11.69h-11.86zM195.58 313.10h11.86v11.92h-11.86zM254.88 497.82h11.86v11.96h-11.86zM390.59 104.86h11.83v11.81h-11.83zM355.10 180.10h11.83v12.27h-11.83zM366.93 204.63h11.83v12.27h-11.83zM402.42 216.90h11.83v12.27h-11.83zM355.10 229.17h11.83v12.27h-11.83zM390.59 417.09h11.83v11.79h-11.83zM390.59 464.26h11.83v11.79h-11.83zM414.25 487.85h11.83v11.79h-11.83z"/></svg>
<div class="t" style="left:0.30px;top:-0.80px;font-size:16.00px;">A</div>
<div class="t" style="left:132.20px;top:-0.80px;font-size:16.00px;">B</div>
<div class="h" style="left:-4.38px;top:11.80px">CD21<sup>-/lo</sup></div>
<div class="h" style="left:-4.38px;top:24.10px">B cells</div>
<div class="ln" style="left:6.20px;top:36.3px;width:58.25px"></div>
<div class="r c" style="left:7.19px;top:78.10px;font-size:9.80px;line-height:9.80px;transform:rotate(-90deg) scaleX(0.920)">RA01</div>
<div class="r c" style="left:19.04px;top:78.10px;font-size:9.80px;line-height:9.80px;transform:rotate(-90deg) scaleX(0.920)">RA19</div>
<div class="r c" style="left:30.89px;top:78.10px;font-size:9.80px;line-height:9.80px;transform:rotate(-90deg) scaleX(0.920)">CVID214</div>
<div class="r c" style="left:42.74px;top:78.10px;font-size:9.80px;line-height:9.80px;transform:rotate(-90deg) scaleX(0.920)">CVID218</div>
<div class="r c" style="left:54.59px;top:78.10px;font-size:9.80px;line-height:9.80px;transform:rotate(-90deg) scaleX(0.920)">CVID321</div>
<div class="h" style="left:54.88px;top:11.80px">CD21<sup>+</sup></div>
<div class="h" style="left:54.88px;top:24.10px">B cells</div>
<div class="ln" style="left:65.45px;top:36.3px;width:58.25px"></div>
<div class="r c" style="left:66.44px;top:78.10px;font-size:9.80px;line-height:9.80px;transform:rotate(-90deg) scaleX(0.920)">RA01</div>
<div class="r c" style="left:78.29px;top:78.10px;font-size:9.80px;line-height:9.80px;transform:rotate(-90deg) scaleX(0.920)">RA19</div>
<div class="r c" style="left:90.14px;top:78.10px;font-size:9.80px;line-height:9.80px;transform:rotate(-90deg) scaleX(0.920)">CVID214</div>
<div class="r c" style="left:101.99px;top:78.10px;font-size:9.80px;line-height:9.80px;transform:rotate(-90deg) scaleX(0.920)">CVID218</div>
<div class="r c" style="left:113.84px;top:78.10px;font-size:9.80px;line-height:9.80px;transform:rotate(-90deg) scaleX(0.920)">CVID321</div>
<div class="h" style="left:149.65px;top:11.80px">CD21<sup>-/lo</sup></div>
<div class="h" style="left:149.65px;top:24.10px">B cells</div>
<div class="ln" style="left:160.20px;top:36.3px;width:58.30px"></div>
<div class="r c" style="left:161.19px;top:78.10px;font-size:9.80px;line-height:9.80px;transform:rotate(-90deg) scaleX(0.920)">RA01</div>
<div class="r c" style="left:173.05px;top:78.10px;font-size:9.80px;line-height:9.80px;transform:rotate(-90deg) scaleX(0.920)">RA19</div>
<div class="r c" style="left:184.91px;top:78.10px;font-size:9.80px;line-height:9.80px;transform:rotate(-90deg) scaleX(0.920)">CVID214</div>
<div class="r c" style="left:196.77px;top:78.10px;font-size:9.80px;line-height:9.80px;transform:rotate(-90deg) scaleX(0.920)">CVID218</div>
<div class="r c" style="left:208.63px;top:78.10px;font-size:9.80px;line-height:9.80px;transform:rotate(-90deg) scaleX(0.920)">CVID321</div>
<div class="h" style="left:208.95px;top:11.80px">CD21<sup>+</sup></div>
<div class="h" style="left:208.95px;top:24.10px">B cells</div>
<div class="ln" style="left:219.50px;top:36.3px;width:58.30px"></div>
<div class="r c" style="left:220.49px;top:78.10px;font-size:9.80px;line-height:9.80px;transform:rotate(-90deg) scaleX(0.920)">RA01</div>
<div class="r c" style="left:232.35px;top:78.10px;font-size:9.80px;line-height:9.80px;transform:rotate(-90deg) scaleX(0.920)">RA19</div>
<div class="r c" style="left:244.21px;top:78.10px;font-size:9.80px;line-height:9.80px;transform:rotate(-90deg) scaleX(0.920)">CVID214</div>
<div class="r c" style="left:256.07px;top:78.10px;font-size:9.80px;line-height:9.80px;transform:rotate(-90deg) scaleX(0.920)">CVID218</div>
<div class="r c" style="left:267.93px;top:78.10px;font-size:9.80px;line-height:9.80px;transform:rotate(-90deg) scaleX(0.920)">CVID321</div>
<div class="h" style="left:344.68px;top:11.80px">CD21<sup>-/lo</sup></div>
<div class="h" style="left:344.68px;top:24.10px">B cells</div>
<div class="ln" style="left:356.30px;top:36.3px;width:58.15px"></div>
<div class="r c" style="left:356.28px;top:78.10px;font-size:9.80px;line-height:9.80px;transform:rotate(-90deg) scaleX(0.920)">RA01</div>
<div class="r c" style="left:368.11px;top:78.10px;font-size:9.80px;line-height:9.80px;transform:rotate(-90deg) scaleX(0.920)">RA19</div>
<div class="r c" style="left:379.94px;top:78.10px;font-size:9.80px;line-height:9.80px;transform:rotate(-90deg) scaleX(0.920)">CVID214</div>
<div class="r c" style="left:391.77px;top:78.10px;font-size:9.80px;line-height:9.80px;transform:rotate(-90deg) scaleX(0.920)">CVID218</div>
<div class="r c" style="left:403.60px;top:78.10px;font-size:9.80px;line-height:9.80px;transform:rotate(-90deg) scaleX(0.920)">CVID321</div>
<div class="h" style="left:403.82px;top:11.80px">CD21<sup>+</sup></div>
<div class="h" style="left:403.82px;top:24.10px">B cells</div>
<div class="ln" style="left:415.45px;top:36.3px;width:58.15px"></div>
<div class="r c" style="left:415.43px;top:78.10px;font-size:9.80px;line-height:9.80px;transform:rotate(-90deg) scaleX(0.920)">RA01</div>
<div class="r c" style="left:427.26px;top:78.10px;font-size:9.80px;line-height:9.80px;transform:rotate(-90deg) scaleX(0.920)">RA19</div>
<div class="r c" style="left:439.09px;top:78.10px;font-size:9.80px;line-height:9.80px;transform:rotate(-90deg) scaleX(0.920)">CVID214</div>
<div class="r c" style="left:450.92px;top:78.10px;font-size:9.80px;line-height:9.80px;transform:rotate(-90deg) scaleX(0.920)">CVID218</div>
<div class="r c" style="left:462.75px;top:78.10px;font-size:9.80px;line-height:9.80px;transform:rotate(-90deg) scaleX(0.920)">CVID321</div>
<div class="g" style="left:281.60px;top:82.36px">CR2/CD21</div>
<div class="g" style="left:281.60px;top:94.06px">CR1/CD35</div>
<div class="g" style="left:281.60px;top:105.78px">CD23</div>
<div class="g" style="left:281.60px;top:117.48px">CD40</div>
<div class="g" style="left:281.60px;top:129.20px">OX40L</div>
<div class="g" style="left:281.60px;top:140.91px">BCMA</div>
<div class="g" style="left:281.60px;top:152.62px">APRIL</div>
<div class="g" style="left:281.60px;top:164.33px">TACI</div>
<div class="g" style="left:281.60px;top:176.04px">TLR10</div>
<div class="g" style="left:281.60px;top:187.75px">SLAMF7</div>
<div class="g" style="left:281.60px;top:217.04px">CD19</div>
<div class="g" style="left:281.60px;top:228.73px">CD58</div>
<div class="g" style="left:281.60px;top:240.41px">CD84</div>
<div class="g" style="left:281.60px;top:252.10px">CD86</div>
<div class="g" style="left:281.60px;top:263.79px">CD24</div>
<div class="g" style="left:281.60px;top:275.47px">CD55</div>
<div class="g" style="left:281.60px;top:287.16px">CD59</div>
<div class="g" style="left:281.60px;top:314.86px">TNFR</div>
<div class="g" style="left:281.60px;top:326.78px">IFNAR2</div>
<div class="g" style="left:281.60px;top:338.71px">IL-7</div>
<div class="g" style="left:281.60px;top:350.63px">IL-10RA</div>
<div class="g" style="left:281.60px;top:362.55px">IL-28RA</div>
<div class="g" style="left:281.60px;top:374.47px">IL-6</div>
<div class="g" style="left:281.60px;top:386.39px">IL-15</div>
<div class="g" style="left:281.60px;top:398.32px">IL-4R</div>
<div class="g" style="left:281.60px;top:410.24px">IL-13R</div>
<div class="g" style="left:281.60px;top:439.78px">ITGB1</div>
<div class="g" style="left:281.60px;top:451.75px">ITGB2</div>
<div class="g" style="left:281.60px;top:463.71px">ITGB7</div>
<div class="g" style="left:281.60px;top:475.67px">ITGAX</div>
<div class="g" style="left:281.60px;top:487.64px">CCR7</div>
<div class="g" style="left:281.60px;top:499.60px">CXCR4</div>
<div class="g" style="left:281.60px;top:511.56px">CXCR5</div>
<div class="g" style="left:281.60px;top:523.53px">LTA</div>
<div class="g" style="left:281.60px;top:535.49px">LTB</div>
<div class="g" style="left:281.60px;top:547.45px">CD44</div>
<div class="g" style="left:281.60px;top:559.42px">CD62L</div>
<div class="g" style="left:476.40px;top:82.95px">CD72</div>
<div class="g" style="left:476.40px;top:94.76px">FCGR2B</div>
<div class="g" style="left:476.40px;top:106.57px">FCRL5</div>
<div class="g" style="left:476.40px;top:118.37px">LILRB1</div>
<div class="g" style="left:476.40px;top:130.18px">LILRB2</div>
<div class="g" style="left:476.40px;top:141.98px">LILRB3</div>
<div class="g" style="left:476.40px;top:153.79px">SIGLEC6</div>
<div class="g" style="left:476.40px;top:165.60px">SIGLEC10</div>
<div class="g" style="left:476.40px;top:182.03px">SLP76</div>
<div class="g" style="left:476.40px;top:194.30px">SYK</div>
<div class="g" style="left:476.40px;top:206.57px">HCK</div>
<div class="g" style="left:476.40px;top:218.83px">PRKCH</div>
<div class="g" style="left:476.40px;top:231.10px">PTPRS</div>
<div class="g" style="left:476.40px;top:243.37px">PTPN2</div>
<div class="g" style="left:476.40px;top:255.63px">PTPN12</div>
<div class="g" style="left:476.40px;top:267.90px">PTPN22</div>
<div class="g" style="left:476.40px;top:280.17px">PTPRK</div>
<div class="g" style="left:476.40px;top:296.62px">FAS</div>
<div class="g" style="left:476.40px;top:308.47px">CASP1</div>
<div class="g" style="left:476.40px;top:320.32px">CASP9</div>
<div class="g" style="left:476.40px;top:332.18px">CARD11</div>
<div class="g" style="left:476.40px;top:344.02px">CARD12</div>
<div class="g" style="left:476.40px;top:355.88px">GAS7</div>
<div class="g" style="left:476.40px;top:367.72px">CDKN1A</div>
<div class="g" style="left:476.40px;top:379.57px">CDK6</div>
<div class="g" style="left:476.40px;top:395.20px">BCL11B</div>
<div class="g" style="left:476.40px;top:406.99px">EGR2</div>
<div class="g" style="left:476.40px;top:418.78px">HOXA3</div>
<div class="g" style="left:476.40px;top:430.58px">HOXB7</div>
<div class="g" style="left:476.40px;top:442.37px">HOXC4</div>
<div class="g" style="left:476.40px;top:454.16px">NFATC2</div>
<div class="g" style="left:476.40px;top:465.96px">RNF144</div>
<div class="g" style="left:476.40px;top:477.75px">SOX4</div>
<div class="g" style="left:476.40px;top:489.54px">T-BET</div>
<div class="g" style="left:476.40px;top:501.34px">TOX</div>
<div class="g" style="left:476.40px;top:513.13px">ZFHX1B</div>
<div class="g" style="left:476.40px;top:524.92px">FOXP1</div>
<div class="g" style="left:476.40px;top:536.72px">MYC</div>
<div class="g" style="left:476.40px;top:548.51px">SMAD3</div>
<div class="g" style="left:476.40px;top:560.30px">ZNF145</div>
<div class="r" style="left:148.15px;top:139.20px;font-size:10.90px;line-height:10.90px;transform:rotate(-90deg) translateX(-50%)">Proliferation/Survival</div>
<div class="r" style="left:134.45px;top:256.20px;font-size:10.90px;line-height:10.90px;transform:rotate(-90deg) translateX(-50%)">Surface</div>
<div class="r" style="left:148.45px;top:256.20px;font-size:10.90px;line-height:10.90px;transform:rotate(-90deg) translateX(-50%)">molecules</div>
<div class="r" style="left:132.65px;top:366.80px;font-size:10.90px;line-height:10.90px;transform:rotate(-90deg) translateX(-50%)">Cytokines/</div>
<div class="r" style="left:146.65px;top:366.80px;font-size:10.90px;line-height:10.90px;transform:rotate(-90deg) translateX(-50%)">Cytokine receptors</div>
<div class="r" style="left:146.65px;top:504.50px;font-size:10.90px;line-height:10.90px;transform:rotate(-90deg) translateX(-50%)">Migration/Adhesion</div>
<div class="r" style="left:342.85px;top:128.70px;font-size:10.90px;line-height:10.90px;transform:rotate(-90deg) translateX(-50%)">Inhibition</div>
<div class="r" style="left:342.35px;top:236.40px;font-size:10.90px;line-height:10.90px;transform:rotate(-90deg) translateX(-50%)">Signaling</div>
<div class="r" style="left:328.35px;top:345.20px;font-size:10.90px;line-height:10.90px;transform:rotate(-90deg) translateX(-50%)">Apoptosis/</div>
<div class="r" style="left:340.85px;top:343.30px;font-size:10.90px;line-height:10.90px;transform:rotate(-90deg) translateX(-50%)">Cell cycle</div>
<div class="r" style="left:341.85px;top:488.50px;font-size:10.90px;line-height:10.90px;transform:rotate(-90deg) translateX(-50%)">Transcription</div>
</body></html>
